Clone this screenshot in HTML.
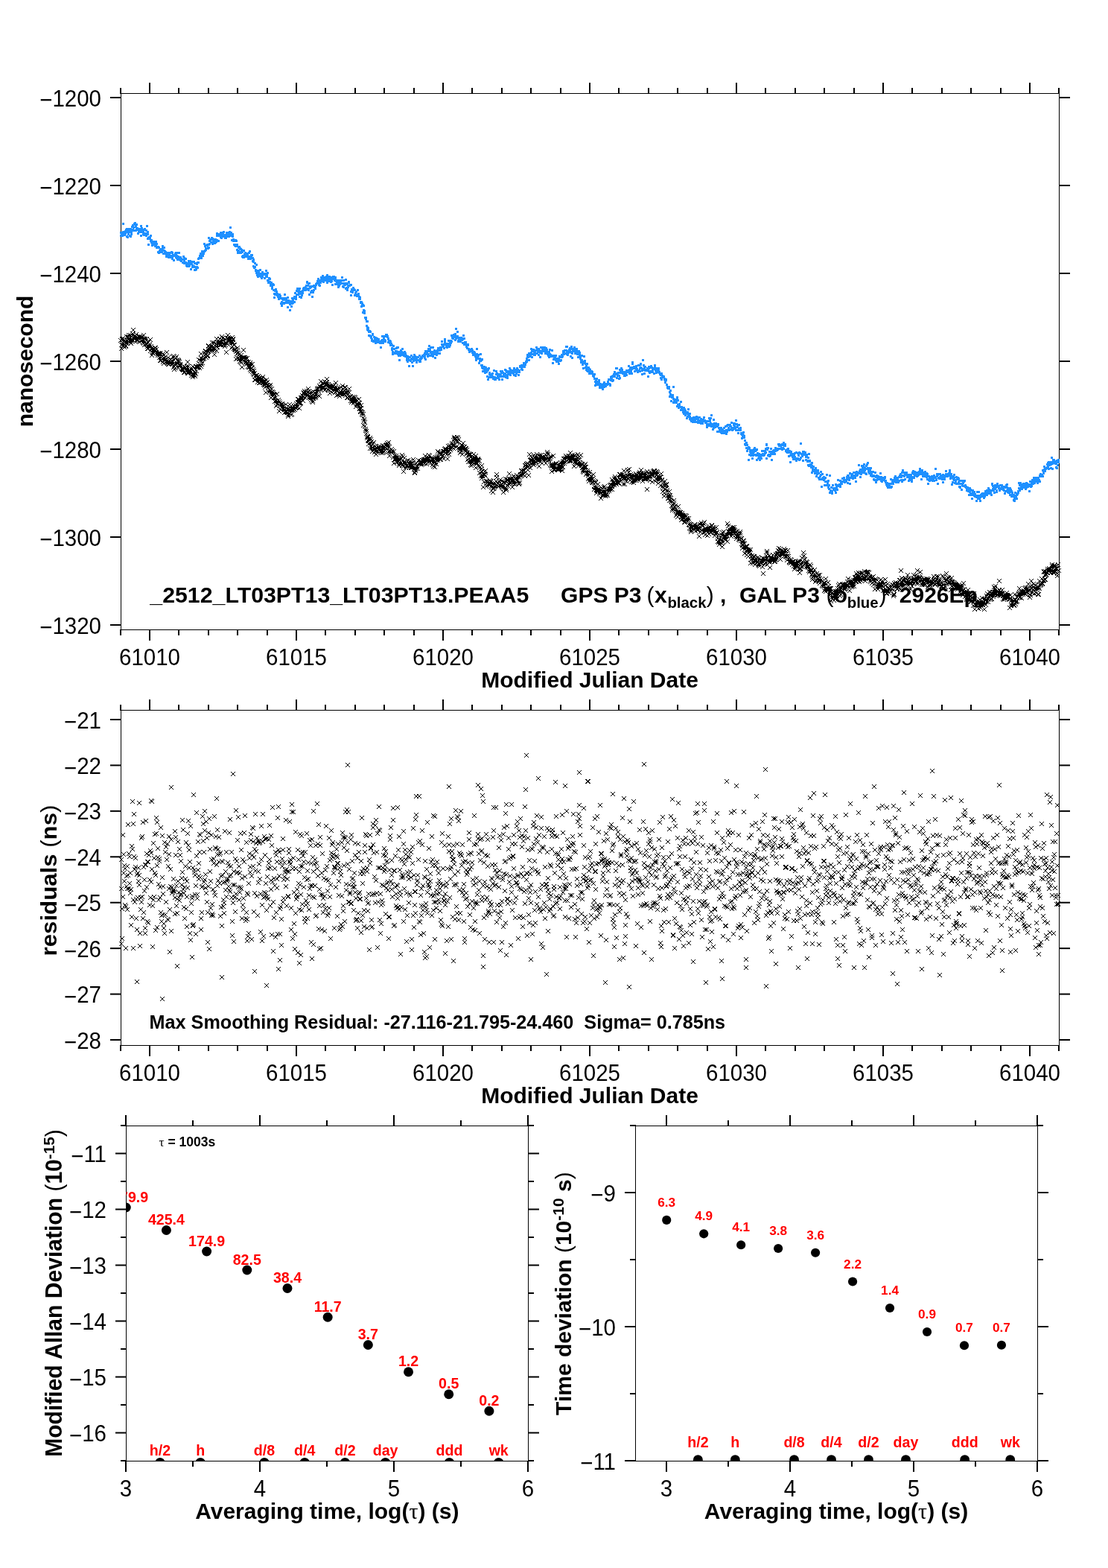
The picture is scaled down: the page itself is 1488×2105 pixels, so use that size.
<!DOCTYPE html>
<html><head><meta charset="utf-8"><title>plot</title>
<style>html,body{margin:0;padding:0;background:#fff;overflow:hidden}svg{display:block}</style>
</head><body>
<svg width="1488" height="2105" viewBox="0 0 1488 2105" font-family="'Liberation Sans', Arial, Helvetica, sans-serif" xml:space="preserve" style="white-space:pre">
<rect width="1488" height="2105" fill="#fff"/>
<rect x="162" y="125" width="1261" height="1" fill="#000"/>
<rect x="162" y="845" width="1261" height="1" fill="#000"/>
<rect x="162" y="125" width="1" height="721" fill="#000"/>
<rect x="1422" y="125" width="1" height="721" fill="#000"/>
<rect x="161" y="118" width="2" height="8" fill="#000"/>
<rect x="161" y="845" width="2" height="8" fill="#000"/>
<rect x="200" y="111" width="2" height="15" fill="#000"/>
<rect x="200" y="845" width="2" height="15" fill="#000"/>
<rect x="239" y="118" width="2" height="8" fill="#000"/>
<rect x="239" y="845" width="2" height="8" fill="#000"/>
<rect x="279" y="118" width="2" height="8" fill="#000"/>
<rect x="279" y="845" width="2" height="8" fill="#000"/>
<rect x="318" y="118" width="2" height="8" fill="#000"/>
<rect x="318" y="845" width="2" height="8" fill="#000"/>
<rect x="358" y="118" width="2" height="8" fill="#000"/>
<rect x="358" y="845" width="2" height="8" fill="#000"/>
<rect x="397" y="111" width="2" height="15" fill="#000"/>
<rect x="397" y="845" width="2" height="15" fill="#000"/>
<rect x="436" y="118" width="2" height="8" fill="#000"/>
<rect x="436" y="845" width="2" height="8" fill="#000"/>
<rect x="476" y="118" width="2" height="8" fill="#000"/>
<rect x="476" y="845" width="2" height="8" fill="#000"/>
<rect x="515" y="118" width="2" height="8" fill="#000"/>
<rect x="515" y="845" width="2" height="8" fill="#000"/>
<rect x="555" y="118" width="2" height="8" fill="#000"/>
<rect x="555" y="845" width="2" height="8" fill="#000"/>
<rect x="594" y="111" width="2" height="15" fill="#000"/>
<rect x="594" y="845" width="2" height="15" fill="#000"/>
<rect x="633" y="118" width="2" height="8" fill="#000"/>
<rect x="633" y="845" width="2" height="8" fill="#000"/>
<rect x="673" y="118" width="2" height="8" fill="#000"/>
<rect x="673" y="845" width="2" height="8" fill="#000"/>
<rect x="712" y="118" width="2" height="8" fill="#000"/>
<rect x="712" y="845" width="2" height="8" fill="#000"/>
<rect x="752" y="118" width="2" height="8" fill="#000"/>
<rect x="752" y="845" width="2" height="8" fill="#000"/>
<rect x="791" y="111" width="2" height="15" fill="#000"/>
<rect x="791" y="845" width="2" height="15" fill="#000"/>
<rect x="830" y="118" width="2" height="8" fill="#000"/>
<rect x="830" y="845" width="2" height="8" fill="#000"/>
<rect x="870" y="118" width="2" height="8" fill="#000"/>
<rect x="870" y="845" width="2" height="8" fill="#000"/>
<rect x="909" y="118" width="2" height="8" fill="#000"/>
<rect x="909" y="845" width="2" height="8" fill="#000"/>
<rect x="949" y="118" width="2" height="8" fill="#000"/>
<rect x="949" y="845" width="2" height="8" fill="#000"/>
<rect x="988" y="111" width="2" height="15" fill="#000"/>
<rect x="988" y="845" width="2" height="15" fill="#000"/>
<rect x="1027" y="118" width="2" height="8" fill="#000"/>
<rect x="1027" y="845" width="2" height="8" fill="#000"/>
<rect x="1067" y="118" width="2" height="8" fill="#000"/>
<rect x="1067" y="845" width="2" height="8" fill="#000"/>
<rect x="1106" y="118" width="2" height="8" fill="#000"/>
<rect x="1106" y="845" width="2" height="8" fill="#000"/>
<rect x="1146" y="118" width="2" height="8" fill="#000"/>
<rect x="1146" y="845" width="2" height="8" fill="#000"/>
<rect x="1185" y="111" width="2" height="15" fill="#000"/>
<rect x="1185" y="845" width="2" height="15" fill="#000"/>
<rect x="1224" y="118" width="2" height="8" fill="#000"/>
<rect x="1224" y="845" width="2" height="8" fill="#000"/>
<rect x="1264" y="118" width="2" height="8" fill="#000"/>
<rect x="1264" y="845" width="2" height="8" fill="#000"/>
<rect x="1303" y="118" width="2" height="8" fill="#000"/>
<rect x="1303" y="845" width="2" height="8" fill="#000"/>
<rect x="1343" y="118" width="2" height="8" fill="#000"/>
<rect x="1343" y="845" width="2" height="8" fill="#000"/>
<rect x="1382" y="111" width="2" height="15" fill="#000"/>
<rect x="1382" y="845" width="2" height="15" fill="#000"/>
<rect x="1421" y="118" width="2" height="8" fill="#000"/>
<rect x="1421" y="845" width="2" height="8" fill="#000"/>
<rect x="162" y="953" width="1261" height="1" fill="#000"/>
<rect x="162" y="1403" width="1261" height="1" fill="#000"/>
<rect x="162" y="953" width="1" height="451" fill="#000"/>
<rect x="1422" y="953" width="1" height="451" fill="#000"/>
<rect x="161" y="946" width="2" height="8" fill="#000"/>
<rect x="161" y="1403" width="2" height="8" fill="#000"/>
<rect x="200" y="939" width="2" height="15" fill="#000"/>
<rect x="200" y="1403" width="2" height="15" fill="#000"/>
<rect x="239" y="946" width="2" height="8" fill="#000"/>
<rect x="239" y="1403" width="2" height="8" fill="#000"/>
<rect x="279" y="946" width="2" height="8" fill="#000"/>
<rect x="279" y="1403" width="2" height="8" fill="#000"/>
<rect x="318" y="946" width="2" height="8" fill="#000"/>
<rect x="318" y="1403" width="2" height="8" fill="#000"/>
<rect x="358" y="946" width="2" height="8" fill="#000"/>
<rect x="358" y="1403" width="2" height="8" fill="#000"/>
<rect x="397" y="939" width="2" height="15" fill="#000"/>
<rect x="397" y="1403" width="2" height="15" fill="#000"/>
<rect x="436" y="946" width="2" height="8" fill="#000"/>
<rect x="436" y="1403" width="2" height="8" fill="#000"/>
<rect x="476" y="946" width="2" height="8" fill="#000"/>
<rect x="476" y="1403" width="2" height="8" fill="#000"/>
<rect x="515" y="946" width="2" height="8" fill="#000"/>
<rect x="515" y="1403" width="2" height="8" fill="#000"/>
<rect x="555" y="946" width="2" height="8" fill="#000"/>
<rect x="555" y="1403" width="2" height="8" fill="#000"/>
<rect x="594" y="939" width="2" height="15" fill="#000"/>
<rect x="594" y="1403" width="2" height="15" fill="#000"/>
<rect x="633" y="946" width="2" height="8" fill="#000"/>
<rect x="633" y="1403" width="2" height="8" fill="#000"/>
<rect x="673" y="946" width="2" height="8" fill="#000"/>
<rect x="673" y="1403" width="2" height="8" fill="#000"/>
<rect x="712" y="946" width="2" height="8" fill="#000"/>
<rect x="712" y="1403" width="2" height="8" fill="#000"/>
<rect x="752" y="946" width="2" height="8" fill="#000"/>
<rect x="752" y="1403" width="2" height="8" fill="#000"/>
<rect x="791" y="939" width="2" height="15" fill="#000"/>
<rect x="791" y="1403" width="2" height="15" fill="#000"/>
<rect x="830" y="946" width="2" height="8" fill="#000"/>
<rect x="830" y="1403" width="2" height="8" fill="#000"/>
<rect x="870" y="946" width="2" height="8" fill="#000"/>
<rect x="870" y="1403" width="2" height="8" fill="#000"/>
<rect x="909" y="946" width="2" height="8" fill="#000"/>
<rect x="909" y="1403" width="2" height="8" fill="#000"/>
<rect x="949" y="946" width="2" height="8" fill="#000"/>
<rect x="949" y="1403" width="2" height="8" fill="#000"/>
<rect x="988" y="939" width="2" height="15" fill="#000"/>
<rect x="988" y="1403" width="2" height="15" fill="#000"/>
<rect x="1027" y="946" width="2" height="8" fill="#000"/>
<rect x="1027" y="1403" width="2" height="8" fill="#000"/>
<rect x="1067" y="946" width="2" height="8" fill="#000"/>
<rect x="1067" y="1403" width="2" height="8" fill="#000"/>
<rect x="1106" y="946" width="2" height="8" fill="#000"/>
<rect x="1106" y="1403" width="2" height="8" fill="#000"/>
<rect x="1146" y="946" width="2" height="8" fill="#000"/>
<rect x="1146" y="1403" width="2" height="8" fill="#000"/>
<rect x="1185" y="939" width="2" height="15" fill="#000"/>
<rect x="1185" y="1403" width="2" height="15" fill="#000"/>
<rect x="1224" y="946" width="2" height="8" fill="#000"/>
<rect x="1224" y="1403" width="2" height="8" fill="#000"/>
<rect x="1264" y="946" width="2" height="8" fill="#000"/>
<rect x="1264" y="1403" width="2" height="8" fill="#000"/>
<rect x="1303" y="946" width="2" height="8" fill="#000"/>
<rect x="1303" y="1403" width="2" height="8" fill="#000"/>
<rect x="1343" y="946" width="2" height="8" fill="#000"/>
<rect x="1343" y="1403" width="2" height="8" fill="#000"/>
<rect x="1382" y="939" width="2" height="15" fill="#000"/>
<rect x="1382" y="1403" width="2" height="15" fill="#000"/>
<rect x="1421" y="946" width="2" height="8" fill="#000"/>
<rect x="1421" y="1403" width="2" height="8" fill="#000"/>
<rect x="148" y="130" width="15" height="2" fill="#000"/>
<rect x="1422" y="130" width="15" height="2" fill="#000"/>
<rect x="148" y="248" width="15" height="2" fill="#000"/>
<rect x="1422" y="248" width="15" height="2" fill="#000"/>
<rect x="148" y="366" width="15" height="2" fill="#000"/>
<rect x="1422" y="366" width="15" height="2" fill="#000"/>
<rect x="148" y="484" width="15" height="2" fill="#000"/>
<rect x="1422" y="484" width="15" height="2" fill="#000"/>
<rect x="148" y="602" width="15" height="2" fill="#000"/>
<rect x="1422" y="602" width="15" height="2" fill="#000"/>
<rect x="148" y="720" width="15" height="2" fill="#000"/>
<rect x="1422" y="720" width="15" height="2" fill="#000"/>
<rect x="148" y="838" width="15" height="2" fill="#000"/>
<rect x="1422" y="838" width="15" height="2" fill="#000"/>
<rect x="148" y="965" width="15" height="2" fill="#000"/>
<rect x="1422" y="965" width="15" height="2" fill="#000"/>
<rect x="148" y="1026.43" width="15" height="2" fill="#000"/>
<rect x="1422" y="1026.43" width="15" height="2" fill="#000"/>
<rect x="148" y="1087.86" width="15" height="2" fill="#000"/>
<rect x="1422" y="1087.86" width="15" height="2" fill="#000"/>
<rect x="148" y="1149.29" width="15" height="2" fill="#000"/>
<rect x="1422" y="1149.29" width="15" height="2" fill="#000"/>
<rect x="148" y="1210.72" width="15" height="2" fill="#000"/>
<rect x="1422" y="1210.72" width="15" height="2" fill="#000"/>
<rect x="148" y="1272.15" width="15" height="2" fill="#000"/>
<rect x="1422" y="1272.15" width="15" height="2" fill="#000"/>
<rect x="148" y="1333.58" width="15" height="2" fill="#000"/>
<rect x="1422" y="1333.58" width="15" height="2" fill="#000"/>
<rect x="148" y="1395.01" width="15" height="2" fill="#000"/>
<rect x="1422" y="1395.01" width="15" height="2" fill="#000"/>
<rect x="169" y="1511" width="541" height="1" fill="#000"/>
<rect x="169" y="1961" width="541" height="1" fill="#000"/>
<rect x="169" y="1511" width="1" height="451" fill="#000"/>
<rect x="709" y="1511" width="1" height="451" fill="#000"/>
<rect x="168" y="1497" width="2" height="15" fill="#000"/>
<rect x="168" y="1961" width="2" height="15" fill="#000"/>
<rect x="258" y="1504" width="2" height="8" fill="#000"/>
<rect x="258" y="1961" width="2" height="8" fill="#000"/>
<rect x="348" y="1497" width="2" height="15" fill="#000"/>
<rect x="348" y="1961" width="2" height="15" fill="#000"/>
<rect x="438" y="1504" width="2" height="8" fill="#000"/>
<rect x="438" y="1961" width="2" height="8" fill="#000"/>
<rect x="528" y="1497" width="2" height="15" fill="#000"/>
<rect x="528" y="1961" width="2" height="15" fill="#000"/>
<rect x="618" y="1504" width="2" height="8" fill="#000"/>
<rect x="618" y="1961" width="2" height="8" fill="#000"/>
<rect x="708" y="1497" width="2" height="15" fill="#000"/>
<rect x="708" y="1961" width="2" height="15" fill="#000"/>
<rect x="162" y="1510" width="8" height="2" fill="#000"/>
<rect x="709" y="1510" width="8" height="2" fill="#000"/>
<rect x="155" y="1547.5" width="15" height="2" fill="#000"/>
<rect x="709" y="1547.5" width="15" height="2" fill="#000"/>
<rect x="162" y="1585" width="8" height="2" fill="#000"/>
<rect x="709" y="1585" width="8" height="2" fill="#000"/>
<rect x="155" y="1622.5" width="15" height="2" fill="#000"/>
<rect x="709" y="1622.5" width="15" height="2" fill="#000"/>
<rect x="162" y="1660" width="8" height="2" fill="#000"/>
<rect x="709" y="1660" width="8" height="2" fill="#000"/>
<rect x="155" y="1697.5" width="15" height="2" fill="#000"/>
<rect x="709" y="1697.5" width="15" height="2" fill="#000"/>
<rect x="162" y="1735" width="8" height="2" fill="#000"/>
<rect x="709" y="1735" width="8" height="2" fill="#000"/>
<rect x="155" y="1772.5" width="15" height="2" fill="#000"/>
<rect x="709" y="1772.5" width="15" height="2" fill="#000"/>
<rect x="162" y="1810" width="8" height="2" fill="#000"/>
<rect x="709" y="1810" width="8" height="2" fill="#000"/>
<rect x="155" y="1847.5" width="15" height="2" fill="#000"/>
<rect x="709" y="1847.5" width="15" height="2" fill="#000"/>
<rect x="162" y="1885" width="8" height="2" fill="#000"/>
<rect x="709" y="1885" width="8" height="2" fill="#000"/>
<rect x="155" y="1922.5" width="15" height="2" fill="#000"/>
<rect x="709" y="1922.5" width="15" height="2" fill="#000"/>
<rect x="162" y="1960" width="8" height="2" fill="#000"/>
<rect x="709" y="1960" width="8" height="2" fill="#000"/>
<rect x="853" y="1511" width="541" height="1" fill="#000"/>
<rect x="853" y="1961" width="541" height="1" fill="#000"/>
<rect x="853" y="1511" width="1" height="451" fill="#000"/>
<rect x="1393" y="1511" width="1" height="451" fill="#000"/>
<rect x="894" y="1497" width="2" height="15" fill="#000"/>
<rect x="894" y="1961" width="2" height="15" fill="#000"/>
<rect x="977" y="1504" width="2" height="8" fill="#000"/>
<rect x="977" y="1961" width="2" height="8" fill="#000"/>
<rect x="1060" y="1497" width="2" height="15" fill="#000"/>
<rect x="1060" y="1961" width="2" height="15" fill="#000"/>
<rect x="1143" y="1504" width="2" height="8" fill="#000"/>
<rect x="1143" y="1961" width="2" height="8" fill="#000"/>
<rect x="1226" y="1497" width="2" height="15" fill="#000"/>
<rect x="1226" y="1961" width="2" height="15" fill="#000"/>
<rect x="1309" y="1504" width="2" height="8" fill="#000"/>
<rect x="1309" y="1961" width="2" height="8" fill="#000"/>
<rect x="1392" y="1497" width="2" height="15" fill="#000"/>
<rect x="1392" y="1961" width="2" height="15" fill="#000"/>
<rect x="846" y="1510" width="8" height="2" fill="#000"/>
<rect x="1393" y="1510" width="8" height="2" fill="#000"/>
<rect x="839" y="1600" width="15" height="2" fill="#000"/>
<rect x="1393" y="1600" width="15" height="2" fill="#000"/>
<rect x="846" y="1690" width="8" height="2" fill="#000"/>
<rect x="1393" y="1690" width="8" height="2" fill="#000"/>
<rect x="839" y="1780" width="15" height="2" fill="#000"/>
<rect x="1393" y="1780" width="15" height="2" fill="#000"/>
<rect x="846" y="1870" width="8" height="2" fill="#000"/>
<rect x="1393" y="1870" width="8" height="2" fill="#000"/>
<rect x="839" y="1960" width="15" height="2" fill="#000"/>
<rect x="1393" y="1960" width="15" height="2" fill="#000"/>
<text transform="translate(136 142.6) scale(1 1.08)" font-size="29.5" text-anchor="end"><tspan dy="2.6">−</tspan><tspan dy="-2.6">1200</tspan></text>
<text transform="translate(136 260.6) scale(1 1.08)" font-size="29.5" text-anchor="end"><tspan dy="2.6">−</tspan><tspan dy="-2.6">1220</tspan></text>
<text transform="translate(136 378.6) scale(1 1.08)" font-size="29.5" text-anchor="end"><tspan dy="2.6">−</tspan><tspan dy="-2.6">1240</tspan></text>
<text transform="translate(136 496.6) scale(1 1.08)" font-size="29.5" text-anchor="end"><tspan dy="2.6">−</tspan><tspan dy="-2.6">1260</tspan></text>
<text transform="translate(136 614.6) scale(1 1.08)" font-size="29.5" text-anchor="end"><tspan dy="2.6">−</tspan><tspan dy="-2.6">1280</tspan></text>
<text transform="translate(136 732.6) scale(1 1.08)" font-size="29.5" text-anchor="end"><tspan dy="2.6">−</tspan><tspan dy="-2.6">1300</tspan></text>
<text transform="translate(136 850.6) scale(1 1.08)" font-size="29.5" text-anchor="end"><tspan dy="2.6">−</tspan><tspan dy="-2.6">1320</tspan></text>
<text transform="translate(136 977.6) scale(1 1.08)" font-size="29.5" text-anchor="end"><tspan dy="2.6">−</tspan><tspan dy="-2.6">21</tspan></text>
<text transform="translate(136 1039.03) scale(1 1.08)" font-size="29.5" text-anchor="end"><tspan dy="2.6">−</tspan><tspan dy="-2.6">22</tspan></text>
<text transform="translate(136 1100.46) scale(1 1.08)" font-size="29.5" text-anchor="end"><tspan dy="2.6">−</tspan><tspan dy="-2.6">23</tspan></text>
<text transform="translate(136 1161.89) scale(1 1.08)" font-size="29.5" text-anchor="end"><tspan dy="2.6">−</tspan><tspan dy="-2.6">24</tspan></text>
<text transform="translate(136 1223.32) scale(1 1.08)" font-size="29.5" text-anchor="end"><tspan dy="2.6">−</tspan><tspan dy="-2.6">25</tspan></text>
<text transform="translate(136 1284.75) scale(1 1.08)" font-size="29.5" text-anchor="end"><tspan dy="2.6">−</tspan><tspan dy="-2.6">26</tspan></text>
<text transform="translate(136 1346.18) scale(1 1.08)" font-size="29.5" text-anchor="end"><tspan dy="2.6">−</tspan><tspan dy="-2.6">27</tspan></text>
<text transform="translate(136 1407.61) scale(1 1.08)" font-size="29.5" text-anchor="end"><tspan dy="2.6">−</tspan><tspan dy="-2.6">28</tspan></text>
<text transform="translate(201 892.75) scale(1 1.07)" font-size="29.5" font-weight="normal" text-anchor="middle" fill="#000">61010</text>
<text transform="translate(201 1450.5) scale(1 1.07)" font-size="29.5" font-weight="normal" text-anchor="middle" fill="#000">61010</text>
<text transform="translate(398 892.75) scale(1 1.07)" font-size="29.5" font-weight="normal" text-anchor="middle" fill="#000">61015</text>
<text transform="translate(398 1450.5) scale(1 1.07)" font-size="29.5" font-weight="normal" text-anchor="middle" fill="#000">61015</text>
<text transform="translate(595 892.75) scale(1 1.07)" font-size="29.5" font-weight="normal" text-anchor="middle" fill="#000">61020</text>
<text transform="translate(595 1450.5) scale(1 1.07)" font-size="29.5" font-weight="normal" text-anchor="middle" fill="#000">61020</text>
<text transform="translate(792 892.75) scale(1 1.07)" font-size="29.5" font-weight="normal" text-anchor="middle" fill="#000">61025</text>
<text transform="translate(792 1450.5) scale(1 1.07)" font-size="29.5" font-weight="normal" text-anchor="middle" fill="#000">61025</text>
<text transform="translate(989 892.75) scale(1 1.07)" font-size="29.5" font-weight="normal" text-anchor="middle" fill="#000">61030</text>
<text transform="translate(989 1450.5) scale(1 1.07)" font-size="29.5" font-weight="normal" text-anchor="middle" fill="#000">61030</text>
<text transform="translate(1186 892.75) scale(1 1.07)" font-size="29.5" font-weight="normal" text-anchor="middle" fill="#000">61035</text>
<text transform="translate(1186 1450.5) scale(1 1.07)" font-size="29.5" font-weight="normal" text-anchor="middle" fill="#000">61035</text>
<text transform="translate(1383 892.75) scale(1 1.07)" font-size="29.5" font-weight="normal" text-anchor="middle" fill="#000">61040</text>
<text transform="translate(1383 1450.5) scale(1 1.07)" font-size="29.5" font-weight="normal" text-anchor="middle" fill="#000">61040</text>
<text transform="translate(143 1560.1) scale(1 1.08)" font-size="29.5" text-anchor="end"><tspan dy="2.6">−</tspan><tspan dy="-2.6">11</tspan></text>
<text transform="translate(143 1635.1) scale(1 1.08)" font-size="29.5" text-anchor="end"><tspan dy="2.6">−</tspan><tspan dy="-2.6">12</tspan></text>
<text transform="translate(143 1710.1) scale(1 1.08)" font-size="29.5" text-anchor="end"><tspan dy="2.6">−</tspan><tspan dy="-2.6">13</tspan></text>
<text transform="translate(143 1785.1) scale(1 1.08)" font-size="29.5" text-anchor="end"><tspan dy="2.6">−</tspan><tspan dy="-2.6">14</tspan></text>
<text transform="translate(143 1860.1) scale(1 1.08)" font-size="29.5" text-anchor="end"><tspan dy="2.6">−</tspan><tspan dy="-2.6">15</tspan></text>
<text transform="translate(143 1935.1) scale(1 1.08)" font-size="29.5" text-anchor="end"><tspan dy="2.6">−</tspan><tspan dy="-2.6">16</tspan></text>
<text transform="translate(169 2008.75) scale(1 1.07)" font-size="29.5" font-weight="normal" text-anchor="middle" fill="#000">3</text>
<text transform="translate(895 2008.75) scale(1 1.07)" font-size="29.5" font-weight="normal" text-anchor="middle" fill="#000">3</text>
<text transform="translate(349 2008.75) scale(1 1.07)" font-size="29.5" font-weight="normal" text-anchor="middle" fill="#000">4</text>
<text transform="translate(1061 2008.75) scale(1 1.07)" font-size="29.5" font-weight="normal" text-anchor="middle" fill="#000">4</text>
<text transform="translate(529 2008.75) scale(1 1.07)" font-size="29.5" font-weight="normal" text-anchor="middle" fill="#000">5</text>
<text transform="translate(1227 2008.75) scale(1 1.07)" font-size="29.5" font-weight="normal" text-anchor="middle" fill="#000">5</text>
<text transform="translate(709 2008.75) scale(1 1.07)" font-size="29.5" font-weight="normal" text-anchor="middle" fill="#000">6</text>
<text transform="translate(1393 2008.75) scale(1 1.07)" font-size="29.5" font-weight="normal" text-anchor="middle" fill="#000">6</text>
<text transform="translate(827 1612.6) scale(1 1.08)" font-size="29.5" text-anchor="end"><tspan dy="2.6">−</tspan><tspan dy="-2.6">9</tspan></text>
<text transform="translate(827 1792.6) scale(1 1.08)" font-size="29.5" text-anchor="end"><tspan dy="2.6">−</tspan><tspan dy="-2.6">10</tspan></text>
<text transform="translate(827 1972.6) scale(1 1.08)" font-size="29.5" text-anchor="end"><tspan dy="2.6">−</tspan><tspan dy="-2.6">11</tspan></text>
<text transform="translate(792 923.3)" font-size="30" font-weight="bold" text-anchor="middle" fill="#000">Modified Julian Date</text>
<text transform="translate(792 1481)" font-size="30" font-weight="bold" text-anchor="middle" fill="#000">Modified Julian Date</text>
<text transform="translate(43.5 485) rotate(-90)" font-size="30" font-weight="bold" text-anchor="middle" fill="#000">nanosecond</text>
<text transform="translate(76 1182) rotate(-90) scale(1.04 1)" font-size="30" font-weight="bold" text-anchor="middle">residuals <tspan font-weight="normal">(</tspan>ns<tspan font-weight="normal">)</tspan></text>
<text transform="translate(439.3 2038.7)" font-size="30" font-weight="bold" text-anchor="middle">Averaging time, log(<tspan font-family="'Liberation Serif', serif" font-weight="normal">τ</tspan>) (s)</text>
<text transform="translate(1123 2038.7)" font-size="30" font-weight="bold" text-anchor="middle">Averaging time, log(<tspan font-family="'Liberation Serif', serif" font-weight="normal">τ</tspan>) (s)</text>
<text transform="translate(83 1736) rotate(-90) scale(0.986 1)" font-size="30.5" font-weight="bold" text-anchor="middle">Modified Allan Deviation <tspan font-weight="normal">(</tspan>10<tspan font-size="21" dy="-10">-15</tspan><tspan dy="10" font-weight="normal">)</tspan></text>
<text transform="translate(767 1736.6) rotate(-90)" font-size="30" font-weight="bold" text-anchor="middle">Time deviation <tspan font-weight="normal">(</tspan>10<tspan font-size="21" dy="-10">-10</tspan><tspan dy="10"> s</tspan><tspan font-weight="normal">)</tspan></text>
<text transform="translate(201.31 808.8) scale(1.01 1)" font-size="30" font-weight="bold" fill="#000">_2512_LT03PT13_LT03PT13.PEAA5</text>
<text transform="translate(753.1 808.8)" font-size="30" font-weight="bold" fill="#000">GPS P3</text>
<text transform="translate(868.4 808.8)" font-size="30" font-weight="normal" fill="#000">(</text>
<text transform="translate(878.9 808.8)" font-size="30" font-weight="bold" fill="#000">x</text>
<text transform="translate(896.4 815.8)" font-size="20.4" font-weight="bold" fill="#000">black</text>
<text transform="translate(948.8 808.8)" font-size="30" font-weight="normal" fill="#000">)</text>
<text transform="translate(967 808.8)" font-size="30" font-weight="bold" fill="#000">,</text>
<text transform="translate(993 808.8)" font-size="30" font-weight="bold" fill="#000">GAL P3</text>
<text transform="translate(1109.5 808.8)" font-size="30" font-weight="normal" fill="#000">(</text>
<text transform="translate(1119.8 808.8)" font-size="30" font-weight="bold" fill="#000">o</text>
<text transform="translate(1137.7 815.8)" font-size="20.4" font-weight="bold" fill="#000">blue</text>
<text transform="translate(1180.4 808.8)" font-size="30" font-weight="normal" fill="#000">)</text>
<text transform="translate(1207.8 808.8)" font-size="30" font-weight="bold" fill="#000">2926Ep</text>
<text transform="translate(200.6 1381.25)" font-size="25.2" font-weight="bold" text-anchor="start" fill="#000">Max Smoothing Residual: -27.116-21.795-24.460  Sigma= 0.785ns</text>
<text transform="translate(213.5 1538.9)" font-size="17.5" font-weight="bold"><tspan font-family="'Liberation Serif', serif" font-weight="normal">τ</tspan> = 1003s</text>
<path fill="#1e90ff" d="M161 311h3v3h-3zM161 315h3v3h-3zM162 314h3v3h-3zM162 314h3v3h-3zM163 314h3v3h-3zM163 315h3v3h-3zM164 311h3v3h-3zM164 310h3v3h-3zM164 299h3v3h-3zM165 314h3v3h-3zM165 314h3v3h-3zM166 314h3v3h-3zM166 311h3v3h-3zM167 309h3v3h-3zM167 312h3v3h-3zM168 310h3v3h-3zM168 307h3v3h-3zM169 316h3v3h-3zM169 306h3v3h-3zM170 310h3v3h-3zM170 317h3v3h-3zM170 309h3v3h-3zM171 312h3v3h-3zM171 313h3v3h-3zM172 310h3v3h-3zM172 306h3v3h-3zM173 315h3v3h-3zM173 309h3v3h-3zM174 306h3v3h-3zM174 316h3v3h-3zM175 308h3v3h-3zM175 313h3v3h-3zM175 310h3v3h-3zM176 308h3v3h-3zM176 303h3v3h-3zM177 301h3v3h-3zM177 307h3v3h-3zM178 304h3v3h-3zM178 308h3v3h-3zM179 299h3v3h-3zM179 300h3v3h-3zM180 308h3v3h-3zM180 298h3v3h-3zM180 299h3v3h-3zM181 303h3v3h-3zM181 308h3v3h-3zM182 300h3v3h-3zM182 305h3v3h-3zM183 305h3v3h-3zM183 305h3v3h-3zM184 307h3v3h-3zM184 312h3v3h-3zM185 310h3v3h-3zM185 306h3v3h-3zM186 309h3v3h-3zM186 310h3v3h-3zM186 306h3v3h-3zM187 307h3v3h-3zM187 308h3v3h-3zM188 302h3v3h-3zM188 315h3v3h-3zM189 305h3v3h-3zM189 310h3v3h-3zM190 309h3v3h-3zM190 307h3v3h-3zM191 313h3v3h-3zM191 310h3v3h-3zM191 307h3v3h-3zM192 314h3v3h-3zM192 312h3v3h-3zM193 307h3v3h-3zM193 306h3v3h-3zM194 314h3v3h-3zM194 312h3v3h-3zM195 308h3v3h-3zM195 315h3v3h-3zM196 302h3v3h-3zM196 313h3v3h-3zM197 313h3v3h-3zM197 310h3v3h-3zM197 319h3v3h-3zM198 327h3v3h-3zM198 318h3v3h-3zM199 319h3v3h-3zM199 317h3v3h-3zM200 318h3v3h-3zM200 319h3v3h-3zM201 322h3v3h-3zM201 315h3v3h-3zM202 322h3v3h-3zM202 321h3v3h-3zM202 324h3v3h-3zM203 326h3v3h-3zM203 328h3v3h-3zM204 323h3v3h-3zM204 323h3v3h-3zM205 326h3v3h-3zM205 323h3v3h-3zM206 324h3v3h-3zM206 327h3v3h-3zM207 327h3v3h-3zM207 329h3v3h-3zM208 323h3v3h-3zM208 327h3v3h-3zM208 328h3v3h-3zM209 331h3v3h-3zM209 326h3v3h-3zM210 331h3v3h-3zM210 330h3v3h-3zM211 337h3v3h-3zM211 330h3v3h-3zM212 338h3v3h-3zM212 331h3v3h-3zM213 337h3v3h-3zM213 335h3v3h-3zM213 337h3v3h-3zM214 334h3v3h-3zM214 336h3v3h-3zM215 335h3v3h-3zM215 333h3v3h-3zM216 337h3v3h-3zM216 333h3v3h-3zM217 329h3v3h-3zM217 332h3v3h-3zM218 335h3v3h-3zM218 339h3v3h-3zM219 335h3v3h-3zM219 331h3v3h-3zM219 339h3v3h-3zM220 338h3v3h-3zM220 336h3v3h-3zM221 337h3v3h-3zM221 338h3v3h-3zM222 341h3v3h-3zM222 343h3v3h-3zM223 340h3v3h-3zM223 340h3v3h-3zM224 338h3v3h-3zM224 341h3v3h-3zM224 340h3v3h-3zM225 344h3v3h-3zM225 339h3v3h-3zM226 338h3v3h-3zM226 341h3v3h-3zM227 343h3v3h-3zM227 343h3v3h-3zM228 342h3v3h-3zM228 344h3v3h-3zM229 338h3v3h-3zM229 337h3v3h-3zM230 338h3v3h-3zM230 344h3v3h-3zM230 346h3v3h-3zM231 341h3v3h-3zM231 341h3v3h-3zM232 342h3v3h-3zM232 348h3v3h-3zM233 342h3v3h-3zM233 342h3v3h-3zM234 339h3v3h-3zM234 342h3v3h-3zM235 344h3v3h-3zM235 341h3v3h-3zM235 338h3v3h-3zM236 345h3v3h-3zM236 342h3v3h-3zM237 347h3v3h-3zM237 338h3v3h-3zM238 343h3v3h-3zM238 344h3v3h-3zM239 338h3v3h-3zM239 345h3v3h-3zM240 347h3v3h-3zM240 346h3v3h-3zM241 348h3v3h-3zM241 347h3v3h-3zM241 344h3v3h-3zM242 349h3v3h-3zM242 346h3v3h-3zM243 347h3v3h-3zM243 347h3v3h-3zM244 351h3v3h-3zM244 351h3v3h-3zM245 347h3v3h-3zM245 343h3v3h-3zM246 349h3v3h-3zM246 352h3v3h-3zM246 345h3v3h-3zM247 352h3v3h-3zM247 351h3v3h-3zM248 346h3v3h-3zM248 351h3v3h-3zM249 355h3v3h-3zM249 352h3v3h-3zM250 353h3v3h-3zM250 356h3v3h-3zM251 353h3v3h-3zM251 356h3v3h-3zM252 349h3v3h-3zM252 350h3v3h-3zM252 356h3v3h-3zM253 355h3v3h-3zM253 355h3v3h-3zM254 349h3v3h-3zM254 353h3v3h-3zM255 351h3v3h-3zM255 360h3v3h-3zM256 350h3v3h-3zM256 352h3v3h-3zM257 355h3v3h-3zM257 357h3v3h-3zM257 356h3v3h-3zM258 356h3v3h-3zM258 357h3v3h-3zM259 356h3v3h-3zM259 350h3v3h-3zM260 352h3v3h-3zM260 361h3v3h-3zM261 357h3v3h-3zM261 361h3v3h-3zM262 360h3v3h-3zM262 357h3v3h-3zM263 352h3v3h-3zM263 357h3v3h-3zM263 353h3v3h-3zM264 358h3v3h-3zM264 351h3v3h-3zM265 351h3v3h-3zM265 346h3v3h-3zM266 345h3v3h-3zM266 345h3v3h-3zM267 342h3v3h-3zM267 342h3v3h-3zM268 339h3v3h-3zM268 343h3v3h-3zM268 345h3v3h-3zM269 345h3v3h-3zM269 340h3v3h-3zM270 336h3v3h-3zM270 339h3v3h-3zM271 342h3v3h-3zM271 337h3v3h-3zM272 339h3v3h-3zM272 338h3v3h-3zM273 336h3v3h-3zM273 326h3v3h-3zM274 335h3v3h-3zM274 329h3v3h-3zM274 328h3v3h-3zM275 332h3v3h-3zM275 334h3v3h-3zM276 332h3v3h-3zM276 332h3v3h-3zM277 328h3v3h-3zM277 327h3v3h-3zM278 331h3v3h-3zM278 332h3v3h-3zM279 318h3v3h-3zM279 331h3v3h-3zM279 327h3v3h-3zM280 326h3v3h-3zM280 322h3v3h-3zM281 322h3v3h-3zM281 321h3v3h-3zM282 324h3v3h-3zM282 320h3v3h-3zM283 320h3v3h-3zM283 318h3v3h-3zM284 326h3v3h-3zM284 324h3v3h-3zM284 319h3v3h-3zM285 324h3v3h-3zM285 321h3v3h-3zM286 320h3v3h-3zM286 323h3v3h-3zM287 323h3v3h-3zM287 325h3v3h-3zM288 320h3v3h-3zM288 324h3v3h-3zM289 323h3v3h-3zM289 321h3v3h-3zM290 321h3v3h-3zM290 312h3v3h-3zM290 315h3v3h-3zM291 322h3v3h-3zM291 313h3v3h-3zM292 315h3v3h-3zM292 322h3v3h-3zM293 313h3v3h-3zM293 315h3v3h-3zM294 315h3v3h-3zM294 313h3v3h-3zM295 316h3v3h-3zM295 317h3v3h-3zM295 311h3v3h-3zM296 318h3v3h-3zM296 311h3v3h-3zM297 313h3v3h-3zM297 314h3v3h-3zM298 315h3v3h-3zM298 312h3v3h-3zM299 316h3v3h-3zM299 310h3v3h-3zM300 314h3v3h-3zM300 314h3v3h-3zM301 315h3v3h-3zM301 316h3v3h-3zM301 318h3v3h-3zM302 315h3v3h-3zM302 318h3v3h-3zM303 311h3v3h-3zM303 313h3v3h-3zM304 316h3v3h-3zM304 311h3v3h-3zM305 312h3v3h-3zM305 313h3v3h-3zM306 316h3v3h-3zM306 314h3v3h-3zM306 312h3v3h-3zM307 310h3v3h-3zM307 313h3v3h-3zM308 304h3v3h-3zM308 314h3v3h-3zM309 311h3v3h-3zM309 315h3v3h-3zM310 315h3v3h-3zM310 321h3v3h-3zM311 316h3v3h-3zM311 313h3v3h-3zM312 320h3v3h-3zM312 320h3v3h-3zM312 322h3v3h-3zM313 327h3v3h-3zM313 322h3v3h-3zM314 327h3v3h-3zM314 328h3v3h-3zM315 329h3v3h-3zM315 321h3v3h-3zM316 322h3v3h-3zM316 328h3v3h-3zM317 329h3v3h-3zM317 327h3v3h-3zM317 334h3v3h-3zM318 335h3v3h-3zM318 338h3v3h-3zM319 335h3v3h-3zM319 331h3v3h-3zM320 338h3v3h-3zM320 330h3v3h-3zM321 332h3v3h-3zM321 337h3v3h-3zM322 333h3v3h-3zM322 338h3v3h-3zM323 335h3v3h-3zM323 334h3v3h-3zM323 337h3v3h-3zM324 337h3v3h-3zM324 343h3v3h-3zM325 344h3v3h-3zM325 342h3v3h-3zM326 335h3v3h-3zM326 344h3v3h-3zM327 340h3v3h-3zM327 341h3v3h-3zM328 340h3v3h-3zM328 338h3v3h-3zM328 340h3v3h-3zM329 342h3v3h-3zM329 343h3v3h-3zM330 340h3v3h-3zM330 339h3v3h-3zM331 340h3v3h-3zM331 341h3v3h-3zM332 346h3v3h-3zM332 343h3v3h-3zM333 343h3v3h-3zM333 338h3v3h-3zM334 336h3v3h-3zM334 344h3v3h-3zM334 344h3v3h-3zM335 346h3v3h-3zM335 345h3v3h-3zM336 344h3v3h-3zM336 341h3v3h-3zM337 345h3v3h-3zM337 341h3v3h-3zM338 349h3v3h-3zM338 345h3v3h-3zM339 356h3v3h-3zM339 347h3v3h-3zM339 350h3v3h-3zM340 358h3v3h-3zM340 358h3v3h-3zM341 352h3v3h-3zM341 357h3v3h-3zM342 361h3v3h-3zM342 362h3v3h-3zM343 365h3v3h-3zM343 354h3v3h-3zM344 363h3v3h-3zM344 368h3v3h-3zM345 367h3v3h-3zM345 370h3v3h-3zM345 362h3v3h-3zM346 365h3v3h-3zM346 364h3v3h-3zM347 366h3v3h-3zM347 369h3v3h-3zM348 368h3v3h-3zM348 361h3v3h-3zM349 370h3v3h-3zM349 370h3v3h-3zM350 366h3v3h-3zM350 369h3v3h-3zM350 372h3v3h-3zM351 370h3v3h-3zM351 364h3v3h-3zM352 366h3v3h-3zM352 367h3v3h-3zM353 366h3v3h-3zM353 367h3v3h-3zM354 372h3v3h-3zM354 367h3v3h-3zM355 367h3v3h-3zM355 366h3v3h-3zM356 369h3v3h-3zM356 362h3v3h-3zM356 366h3v3h-3zM357 370h3v3h-3zM357 368h3v3h-3zM358 375h3v3h-3zM358 365h3v3h-3zM359 376h3v3h-3zM359 378h3v3h-3zM360 373h3v3h-3zM360 372h3v3h-3zM361 373h3v3h-3zM361 378h3v3h-3zM361 377h3v3h-3zM362 382h3v3h-3zM362 379h3v3h-3zM363 378h3v3h-3zM363 380h3v3h-3zM364 383h3v3h-3zM364 386h3v3h-3zM365 380h3v3h-3zM365 381h3v3h-3zM366 381h3v3h-3zM366 388h3v3h-3zM367 398h3v3h-3zM367 388h3v3h-3zM367 393h3v3h-3zM368 389h3v3h-3zM368 394h3v3h-3zM369 387h3v3h-3zM369 394h3v3h-3zM370 390h3v3h-3zM370 391h3v3h-3zM371 395h3v3h-3zM371 393h3v3h-3zM372 395h3v3h-3zM372 397h3v3h-3zM372 396h3v3h-3zM373 400h3v3h-3zM373 399h3v3h-3zM374 394h3v3h-3zM374 397h3v3h-3zM375 396h3v3h-3zM375 397h3v3h-3zM376 406h3v3h-3zM376 399h3v3h-3zM377 404h3v3h-3zM377 407h3v3h-3zM377 409h3v3h-3zM378 400h3v3h-3zM378 400h3v3h-3zM379 401h3v3h-3zM379 399h3v3h-3zM380 405h3v3h-3zM380 406h3v3h-3zM381 394h3v3h-3zM381 401h3v3h-3zM382 405h3v3h-3zM382 399h3v3h-3zM383 401h3v3h-3zM383 403h3v3h-3zM383 404h3v3h-3zM384 404h3v3h-3zM384 405h3v3h-3zM385 411h3v3h-3zM385 398h3v3h-3zM386 404h3v3h-3zM386 402h3v3h-3zM387 405h3v3h-3zM387 404h3v3h-3zM388 407h3v3h-3zM388 407h3v3h-3zM388 415h3v3h-3zM389 403h3v3h-3zM389 404h3v3h-3zM390 410h3v3h-3zM390 406h3v3h-3zM391 406h3v3h-3zM391 399h3v3h-3zM392 405h3v3h-3zM392 402h3v3h-3zM393 404h3v3h-3zM393 399h3v3h-3zM394 399h3v3h-3zM394 397h3v3h-3zM394 404h3v3h-3zM395 392h3v3h-3zM395 398h3v3h-3zM396 397h3v3h-3zM396 400h3v3h-3zM397 394h3v3h-3zM397 389h3v3h-3zM398 394h3v3h-3zM398 386h3v3h-3zM399 394h3v3h-3zM399 390h3v3h-3zM399 388h3v3h-3zM400 389h3v3h-3zM400 393h3v3h-3zM401 386h3v3h-3zM401 397h3v3h-3zM402 390h3v3h-3zM402 397h3v3h-3zM403 393h3v3h-3zM403 398h3v3h-3zM404 393h3v3h-3zM404 395h3v3h-3zM405 392h3v3h-3zM405 389h3v3h-3zM405 392h3v3h-3zM406 388h3v3h-3zM406 386h3v3h-3zM407 387h3v3h-3zM407 385h3v3h-3zM408 386h3v3h-3zM408 386h3v3h-3zM409 388h3v3h-3zM409 384h3v3h-3zM410 382h3v3h-3zM410 387h3v3h-3zM410 382h3v3h-3zM411 378h3v3h-3zM411 377h3v3h-3zM412 386h3v3h-3zM412 382h3v3h-3zM413 388h3v3h-3zM413 379h3v3h-3zM414 379h3v3h-3zM414 394h3v3h-3zM415 383h3v3h-3zM415 385h3v3h-3zM416 384h3v3h-3zM416 383h3v3h-3zM416 391h3v3h-3zM417 383h3v3h-3zM417 389h3v3h-3zM418 383h3v3h-3zM418 397h3v3h-3zM419 390h3v3h-3zM419 391h3v3h-3zM420 382h3v3h-3zM420 388h3v3h-3zM421 384h3v3h-3zM421 383h3v3h-3zM421 382h3v3h-3zM422 386h3v3h-3zM422 384h3v3h-3zM423 381h3v3h-3zM423 380h3v3h-3zM424 379h3v3h-3zM424 379h3v3h-3zM425 376h3v3h-3zM425 376h3v3h-3zM426 376h3v3h-3zM426 373h3v3h-3zM427 380h3v3h-3zM427 381h3v3h-3zM427 377h3v3h-3zM428 382h3v3h-3zM428 375h3v3h-3zM429 375h3v3h-3zM429 378h3v3h-3zM430 374h3v3h-3zM430 371h3v3h-3zM431 375h3v3h-3zM431 372h3v3h-3zM432 376h3v3h-3zM432 369h3v3h-3zM432 372h3v3h-3zM433 374h3v3h-3zM433 377h3v3h-3zM434 375h3v3h-3zM434 373h3v3h-3zM435 371h3v3h-3zM435 371h3v3h-3zM436 371h3v3h-3zM436 375h3v3h-3zM437 370h3v3h-3zM437 374h3v3h-3zM438 378h3v3h-3zM438 368h3v3h-3zM438 374h3v3h-3zM439 371h3v3h-3zM439 375h3v3h-3zM440 376h3v3h-3zM440 371h3v3h-3zM441 370h3v3h-3zM441 374h3v3h-3zM442 374h3v3h-3zM442 373h3v3h-3zM443 372h3v3h-3zM443 377h3v3h-3zM443 371h3v3h-3zM444 371h3v3h-3zM444 376h3v3h-3zM445 381h3v3h-3zM445 373h3v3h-3zM446 373h3v3h-3zM446 370h3v3h-3zM447 372h3v3h-3zM447 370h3v3h-3zM448 375h3v3h-3zM448 373h3v3h-3zM449 374h3v3h-3zM449 380h3v3h-3zM449 371h3v3h-3zM450 380h3v3h-3zM450 376h3v3h-3zM451 375h3v3h-3zM451 377h3v3h-3zM452 377h3v3h-3zM452 379h3v3h-3zM453 381h3v3h-3zM453 384h3v3h-3zM454 381h3v3h-3zM454 382h3v3h-3zM454 375h3v3h-3zM455 377h3v3h-3zM455 380h3v3h-3zM456 379h3v3h-3zM456 376h3v3h-3zM457 375h3v3h-3zM457 379h3v3h-3zM458 371h3v3h-3zM458 375h3v3h-3zM459 375h3v3h-3zM459 383h3v3h-3zM460 375h3v3h-3zM460 379h3v3h-3zM460 384h3v3h-3zM461 380h3v3h-3zM461 380h3v3h-3zM462 379h3v3h-3zM462 381h3v3h-3zM463 386h3v3h-3zM463 374h3v3h-3zM464 379h3v3h-3zM464 385h3v3h-3zM465 388h3v3h-3zM465 380h3v3h-3zM465 386h3v3h-3zM466 383h3v3h-3zM466 384h3v3h-3zM467 378h3v3h-3zM467 377h3v3h-3zM468 382h3v3h-3zM468 382h3v3h-3zM469 381h3v3h-3zM469 381h3v3h-3zM470 390h3v3h-3zM470 381h3v3h-3zM470 395h3v3h-3zM471 387h3v3h-3zM471 390h3v3h-3zM472 391h3v3h-3zM472 387h3v3h-3zM473 385h3v3h-3zM473 386h3v3h-3zM474 388h3v3h-3zM474 387h3v3h-3zM475 395h3v3h-3zM475 388h3v3h-3zM476 393h3v3h-3zM476 394h3v3h-3zM476 392h3v3h-3zM477 390h3v3h-3zM477 395h3v3h-3zM478 396h3v3h-3zM478 394h3v3h-3zM479 395h3v3h-3zM479 388h3v3h-3zM480 393h3v3h-3zM480 396h3v3h-3zM481 398h3v3h-3zM481 400h3v3h-3zM481 397h3v3h-3zM482 400h3v3h-3zM482 398h3v3h-3zM483 404h3v3h-3zM483 405h3v3h-3zM484 404h3v3h-3zM484 410h3v3h-3zM485 407h3v3h-3zM485 406h3v3h-3zM486 408h3v3h-3zM486 418h3v3h-3zM487 409h3v3h-3zM487 415h3v3h-3zM487 416h3v3h-3zM488 419h3v3h-3zM488 416h3v3h-3zM489 425h3v3h-3zM489 425h3v3h-3zM490 425h3v3h-3zM490 427h3v3h-3zM491 430h3v3h-3zM491 436h3v3h-3zM492 430h3v3h-3zM492 441h3v3h-3zM492 438h3v3h-3zM493 442h3v3h-3zM493 439h3v3h-3zM494 449h3v3h-3zM494 444h3v3h-3zM495 449h3v3h-3zM495 443h3v3h-3zM496 444h3v3h-3zM496 450h3v3h-3zM497 451h3v3h-3zM497 452h3v3h-3zM498 456h3v3h-3zM498 455h3v3h-3zM498 454h3v3h-3zM499 448h3v3h-3zM499 447h3v3h-3zM500 456h3v3h-3zM500 457h3v3h-3zM501 451h3v3h-3zM501 457h3v3h-3zM502 454h3v3h-3zM502 455h3v3h-3zM503 459h3v3h-3zM503 452h3v3h-3zM503 457h3v3h-3zM504 457h3v3h-3zM504 455h3v3h-3zM505 457h3v3h-3zM505 453h3v3h-3zM506 457h3v3h-3zM506 458h3v3h-3zM507 457h3v3h-3zM507 454h3v3h-3zM508 458h3v3h-3zM508 457h3v3h-3zM509 459h3v3h-3zM509 457h3v3h-3zM509 459h3v3h-3zM510 458h3v3h-3zM510 465h3v3h-3zM511 456h3v3h-3zM511 459h3v3h-3zM512 455h3v3h-3zM512 450h3v3h-3zM513 456h3v3h-3zM513 459h3v3h-3zM514 457h3v3h-3zM514 457h3v3h-3zM514 452h3v3h-3zM515 455h3v3h-3zM515 450h3v3h-3zM516 457h3v3h-3zM516 456h3v3h-3zM517 448h3v3h-3zM517 450h3v3h-3zM518 448h3v3h-3zM518 449h3v3h-3zM519 451h3v3h-3zM519 450h3v3h-3zM520 453h3v3h-3zM520 458h3v3h-3zM520 454h3v3h-3zM521 458h3v3h-3zM521 457h3v3h-3zM522 459h3v3h-3zM522 456h3v3h-3zM523 462h3v3h-3zM523 457h3v3h-3zM524 462h3v3h-3zM524 460h3v3h-3zM525 466h3v3h-3zM525 462h3v3h-3zM525 468h3v3h-3zM526 474h3v3h-3zM526 471h3v3h-3zM527 463h3v3h-3zM527 473h3v3h-3zM528 467h3v3h-3zM528 472h3v3h-3zM529 472h3v3h-3zM529 473h3v3h-3zM530 473h3v3h-3zM530 470h3v3h-3zM531 466h3v3h-3zM531 470h3v3h-3zM531 472h3v3h-3zM532 465h3v3h-3zM532 471h3v3h-3zM533 465h3v3h-3zM533 474h3v3h-3zM534 476h3v3h-3zM534 474h3v3h-3zM535 471h3v3h-3zM535 482h3v3h-3zM536 474h3v3h-3zM536 476h3v3h-3zM536 475h3v3h-3zM537 475h3v3h-3zM537 469h3v3h-3zM538 471h3v3h-3zM538 475h3v3h-3zM539 474h3v3h-3zM539 467h3v3h-3zM540 473h3v3h-3zM540 472h3v3h-3zM541 474h3v3h-3zM541 476h3v3h-3zM542 471h3v3h-3zM542 473h3v3h-3zM542 476h3v3h-3zM543 473h3v3h-3zM543 477h3v3h-3zM544 476h3v3h-3zM544 476h3v3h-3zM545 482h3v3h-3zM545 479h3v3h-3zM546 477h3v3h-3zM546 484h3v3h-3zM547 478h3v3h-3zM547 481h3v3h-3zM547 481h3v3h-3zM548 490h3v3h-3zM548 482h3v3h-3zM549 482h3v3h-3zM549 478h3v3h-3zM550 483h3v3h-3zM550 483h3v3h-3zM551 476h3v3h-3zM551 481h3v3h-3zM552 485h3v3h-3zM552 480h3v3h-3zM553 480h3v3h-3zM553 490h3v3h-3zM553 478h3v3h-3zM554 483h3v3h-3zM554 480h3v3h-3zM555 475h3v3h-3zM555 482h3v3h-3zM556 477h3v3h-3zM556 481h3v3h-3zM557 482h3v3h-3zM557 478h3v3h-3zM558 485h3v3h-3zM558 480h3v3h-3zM558 478h3v3h-3zM559 482h3v3h-3zM559 482h3v3h-3zM560 478h3v3h-3zM560 478h3v3h-3zM561 482h3v3h-3zM561 482h3v3h-3zM562 476h3v3h-3zM562 484h3v3h-3zM563 483h3v3h-3zM563 484h3v3h-3zM563 480h3v3h-3zM564 479h3v3h-3zM564 480h3v3h-3zM565 478h3v3h-3zM565 479h3v3h-3zM566 476h3v3h-3zM566 477h3v3h-3zM567 476h3v3h-3zM567 477h3v3h-3zM568 477h3v3h-3zM568 475h3v3h-3zM569 473h3v3h-3zM569 479h3v3h-3zM569 476h3v3h-3zM570 481h3v3h-3zM570 470h3v3h-3zM571 474h3v3h-3zM571 470h3v3h-3zM572 472h3v3h-3zM572 471h3v3h-3zM573 477h3v3h-3zM573 470h3v3h-3zM574 467h3v3h-3zM574 474h3v3h-3zM574 475h3v3h-3zM575 476h3v3h-3zM575 463h3v3h-3zM576 468h3v3h-3zM576 470h3v3h-3zM577 465h3v3h-3zM577 472h3v3h-3zM578 474h3v3h-3zM578 476h3v3h-3zM579 474h3v3h-3zM579 471h3v3h-3zM580 477h3v3h-3zM580 474h3v3h-3zM580 465h3v3h-3zM581 472h3v3h-3zM581 471h3v3h-3zM582 474h3v3h-3zM582 469h3v3h-3zM583 474h3v3h-3zM583 479h3v3h-3zM584 472h3v3h-3zM584 470h3v3h-3zM585 475h3v3h-3zM585 475h3v3h-3zM585 472h3v3h-3zM586 472h3v3h-3zM586 469h3v3h-3zM587 466h3v3h-3zM587 468h3v3h-3zM588 466h3v3h-3zM588 473h3v3h-3zM589 469h3v3h-3zM589 473h3v3h-3zM590 468h3v3h-3zM590 465h3v3h-3zM591 467h3v3h-3zM591 465h3v3h-3zM591 468h3v3h-3zM592 457h3v3h-3zM592 461h3v3h-3zM593 464h3v3h-3zM593 461h3v3h-3zM594 463h3v3h-3zM594 462h3v3h-3zM595 466h3v3h-3zM595 466h3v3h-3zM596 454h3v3h-3zM596 457h3v3h-3zM596 459h3v3h-3zM597 461h3v3h-3zM597 460h3v3h-3zM598 460h3v3h-3zM598 464h3v3h-3zM599 465h3v3h-3zM599 463h3v3h-3zM600 460h3v3h-3zM600 460h3v3h-3zM601 456h3v3h-3zM601 463h3v3h-3zM602 462h3v3h-3zM602 456h3v3h-3zM602 464h3v3h-3zM603 459h3v3h-3zM603 462h3v3h-3zM604 459h3v3h-3zM604 456h3v3h-3zM605 457h3v3h-3zM605 449h3v3h-3zM606 452h3v3h-3zM606 449h3v3h-3zM607 453h3v3h-3zM607 450h3v3h-3zM607 449h3v3h-3zM608 448h3v3h-3zM608 451h3v3h-3zM609 450h3v3h-3zM609 449h3v3h-3zM610 447h3v3h-3zM610 455h3v3h-3zM611 453h3v3h-3zM611 440h3v3h-3zM612 452h3v3h-3zM612 450h3v3h-3zM613 450h3v3h-3zM613 450h3v3h-3zM613 444h3v3h-3zM614 457h3v3h-3zM614 456h3v3h-3zM615 452h3v3h-3zM615 453h3v3h-3zM616 454h3v3h-3zM616 453h3v3h-3zM617 457h3v3h-3zM617 455h3v3h-3zM618 452h3v3h-3zM618 454h3v3h-3zM618 453h3v3h-3zM619 453h3v3h-3zM619 455h3v3h-3zM620 459h3v3h-3zM620 454h3v3h-3zM621 449h3v3h-3zM621 459h3v3h-3zM622 453h3v3h-3zM622 461h3v3h-3zM623 458h3v3h-3zM623 460h3v3h-3zM624 458h3v3h-3zM624 461h3v3h-3zM624 460h3v3h-3zM625 462h3v3h-3zM625 464h3v3h-3zM626 462h3v3h-3zM626 466h3v3h-3zM627 461h3v3h-3zM627 462h3v3h-3zM628 467h3v3h-3zM628 468h3v3h-3zM629 469h3v3h-3zM629 471h3v3h-3zM629 469h3v3h-3zM630 470h3v3h-3zM630 468h3v3h-3zM631 468h3v3h-3zM631 468h3v3h-3zM632 469h3v3h-3zM632 467h3v3h-3zM633 469h3v3h-3zM633 472h3v3h-3zM634 473h3v3h-3zM634 475h3v3h-3zM635 471h3v3h-3zM635 473h3v3h-3zM635 475h3v3h-3zM636 472h3v3h-3zM636 472h3v3h-3zM637 477h3v3h-3zM637 474h3v3h-3zM638 479h3v3h-3zM638 482h3v3h-3zM639 474h3v3h-3zM639 467h3v3h-3zM640 480h3v3h-3zM640 478h3v3h-3zM640 476h3v3h-3zM641 475h3v3h-3zM641 476h3v3h-3zM642 480h3v3h-3zM642 486h3v3h-3zM643 480h3v3h-3zM643 483h3v3h-3zM644 483h3v3h-3zM644 474h3v3h-3zM645 482h3v3h-3zM645 489h3v3h-3zM646 481h3v3h-3zM646 492h3v3h-3zM646 489h3v3h-3zM647 493h3v3h-3zM647 497h3v3h-3zM648 492h3v3h-3zM648 497h3v3h-3zM649 494h3v3h-3zM649 491h3v3h-3zM650 497h3v3h-3zM650 499h3v3h-3zM651 498h3v3h-3zM651 492h3v3h-3zM651 498h3v3h-3zM652 494h3v3h-3zM652 498h3v3h-3zM653 504h3v3h-3zM653 496h3v3h-3zM654 508h3v3h-3zM654 495h3v3h-3zM655 493h3v3h-3zM655 505h3v3h-3zM656 501h3v3h-3zM656 501h3v3h-3zM656 499h3v3h-3zM657 505h3v3h-3zM657 504h3v3h-3zM658 504h3v3h-3zM658 504h3v3h-3zM659 501h3v3h-3zM659 505h3v3h-3zM660 500h3v3h-3zM660 504h3v3h-3zM661 507h3v3h-3zM661 506h3v3h-3zM662 507h3v3h-3zM662 496h3v3h-3zM662 505h3v3h-3zM663 508h3v3h-3zM663 505h3v3h-3zM664 508h3v3h-3zM664 507h3v3h-3zM665 497h3v3h-3zM665 501h3v3h-3zM666 500h3v3h-3zM666 506h3v3h-3zM667 504h3v3h-3zM667 503h3v3h-3zM667 504h3v3h-3zM668 506h3v3h-3zM668 501h3v3h-3zM669 508h3v3h-3zM669 504h3v3h-3zM670 503h3v3h-3zM670 501h3v3h-3zM671 501h3v3h-3zM671 497h3v3h-3zM672 498h3v3h-3zM672 504h3v3h-3zM673 508h3v3h-3zM673 508h3v3h-3zM673 497h3v3h-3zM674 504h3v3h-3zM674 499h3v3h-3zM675 500h3v3h-3zM675 501h3v3h-3zM676 504h3v3h-3zM676 504h3v3h-3zM677 495h3v3h-3zM677 500h3v3h-3zM678 505h3v3h-3zM678 502h3v3h-3zM678 496h3v3h-3zM679 498h3v3h-3zM679 498h3v3h-3zM680 504h3v3h-3zM680 506h3v3h-3zM681 497h3v3h-3zM681 501h3v3h-3zM682 498h3v3h-3zM682 500h3v3h-3zM683 497h3v3h-3zM683 493h3v3h-3zM684 495h3v3h-3zM684 495h3v3h-3zM684 502h3v3h-3zM685 496h3v3h-3zM685 499h3v3h-3zM686 496h3v3h-3zM686 496h3v3h-3zM687 499h3v3h-3zM687 496h3v3h-3zM688 498h3v3h-3zM688 500h3v3h-3zM689 493h3v3h-3zM689 498h3v3h-3zM689 502h3v3h-3zM690 495h3v3h-3zM690 498h3v3h-3zM691 503h3v3h-3zM691 496h3v3h-3zM692 500h3v3h-3zM692 497h3v3h-3zM693 498h3v3h-3zM693 493h3v3h-3zM694 496h3v3h-3zM694 495h3v3h-3zM695 502h3v3h-3zM695 497h3v3h-3zM695 497h3v3h-3zM696 496h3v3h-3zM696 498h3v3h-3zM697 490h3v3h-3zM697 491h3v3h-3zM698 491h3v3h-3zM698 491h3v3h-3zM699 489h3v3h-3zM699 494h3v3h-3zM700 490h3v3h-3zM700 495h3v3h-3zM700 490h3v3h-3zM701 489h3v3h-3zM701 491h3v3h-3zM702 490h3v3h-3zM702 486h3v3h-3zM703 489h3v3h-3zM703 491h3v3h-3zM704 486h3v3h-3zM704 488h3v3h-3zM705 484h3v3h-3zM705 485h3v3h-3zM706 484h3v3h-3zM706 480h3v3h-3zM706 483h3v3h-3zM707 477h3v3h-3zM707 475h3v3h-3zM708 478h3v3h-3zM708 476h3v3h-3zM709 473h3v3h-3zM709 482h3v3h-3zM710 477h3v3h-3zM710 477h3v3h-3zM711 476h3v3h-3zM711 476h3v3h-3zM711 473h3v3h-3zM712 472h3v3h-3zM712 467h3v3h-3zM713 470h3v3h-3zM713 478h3v3h-3zM714 474h3v3h-3zM714 474h3v3h-3zM715 469h3v3h-3zM715 468h3v3h-3zM716 475h3v3h-3zM716 472h3v3h-3zM717 472h3v3h-3zM717 475h3v3h-3zM717 475h3v3h-3zM718 473h3v3h-3zM718 469h3v3h-3zM719 469h3v3h-3zM719 465h3v3h-3zM720 467h3v3h-3zM720 473h3v3h-3zM721 470h3v3h-3zM721 468h3v3h-3zM722 471h3v3h-3zM722 475h3v3h-3zM722 467h3v3h-3zM723 469h3v3h-3zM723 470h3v3h-3zM724 478h3v3h-3zM724 472h3v3h-3zM725 470h3v3h-3zM725 465h3v3h-3zM726 473h3v3h-3zM726 472h3v3h-3zM727 469h3v3h-3zM727 468h3v3h-3zM728 469h3v3h-3zM728 465h3v3h-3zM728 470h3v3h-3zM729 469h3v3h-3zM729 467h3v3h-3zM730 468h3v3h-3zM730 465h3v3h-3zM731 473h3v3h-3zM731 470h3v3h-3zM732 466h3v3h-3zM732 473h3v3h-3zM733 473h3v3h-3zM733 470h3v3h-3zM733 468h3v3h-3zM734 472h3v3h-3zM734 474h3v3h-3zM735 474h3v3h-3zM735 476h3v3h-3zM736 478h3v3h-3zM736 471h3v3h-3zM737 474h3v3h-3zM737 468h3v3h-3zM738 477h3v3h-3zM738 475h3v3h-3zM739 477h3v3h-3zM739 477h3v3h-3zM739 477h3v3h-3zM740 476h3v3h-3zM740 469h3v3h-3zM741 476h3v3h-3zM741 486h3v3h-3zM742 481h3v3h-3zM742 477h3v3h-3zM743 478h3v3h-3zM743 480h3v3h-3zM744 476h3v3h-3zM744 478h3v3h-3zM744 479h3v3h-3zM745 476h3v3h-3zM745 482h3v3h-3zM746 484h3v3h-3zM746 484h3v3h-3zM747 482h3v3h-3zM747 480h3v3h-3zM748 484h3v3h-3zM748 480h3v3h-3zM749 483h3v3h-3zM749 487h3v3h-3zM749 480h3v3h-3zM750 477h3v3h-3zM750 483h3v3h-3zM751 483h3v3h-3zM751 483h3v3h-3zM752 478h3v3h-3zM752 482h3v3h-3zM753 478h3v3h-3zM753 475h3v3h-3zM754 477h3v3h-3zM754 475h3v3h-3zM755 470h3v3h-3zM755 473h3v3h-3zM755 474h3v3h-3zM756 472h3v3h-3zM756 474h3v3h-3zM757 473h3v3h-3zM757 469h3v3h-3zM758 473h3v3h-3zM758 473h3v3h-3zM759 464h3v3h-3zM759 469h3v3h-3zM760 474h3v3h-3zM760 472h3v3h-3zM760 464h3v3h-3zM761 470h3v3h-3zM761 475h3v3h-3zM762 472h3v3h-3zM762 472h3v3h-3zM763 468h3v3h-3zM763 469h3v3h-3zM764 466h3v3h-3zM764 469h3v3h-3zM765 477h3v3h-3zM765 471h3v3h-3zM766 467h3v3h-3zM766 472h3v3h-3zM766 464h3v3h-3zM767 479h3v3h-3zM767 473h3v3h-3zM768 470h3v3h-3zM768 470h3v3h-3zM769 467h3v3h-3zM769 470h3v3h-3zM770 470h3v3h-3zM770 465h3v3h-3zM771 473h3v3h-3zM771 470h3v3h-3zM771 468h3v3h-3zM772 473h3v3h-3zM772 471h3v3h-3zM773 468h3v3h-3zM773 467h3v3h-3zM774 474h3v3h-3zM774 471h3v3h-3zM775 474h3v3h-3zM775 478h3v3h-3zM776 471h3v3h-3zM776 470h3v3h-3zM777 472h3v3h-3zM777 474h3v3h-3zM777 476h3v3h-3zM778 480h3v3h-3zM778 477h3v3h-3zM779 485h3v3h-3zM779 482h3v3h-3zM780 476h3v3h-3zM780 482h3v3h-3zM781 486h3v3h-3zM781 488h3v3h-3zM782 484h3v3h-3zM782 485h3v3h-3zM782 493h3v3h-3zM783 486h3v3h-3zM783 477h3v3h-3zM784 483h3v3h-3zM784 486h3v3h-3zM785 492h3v3h-3zM785 487h3v3h-3zM786 495h3v3h-3zM786 489h3v3h-3zM787 487h3v3h-3zM787 496h3v3h-3zM788 493h3v3h-3zM788 492h3v3h-3zM788 497h3v3h-3zM789 492h3v3h-3zM789 497h3v3h-3zM790 494h3v3h-3zM790 500h3v3h-3zM791 495h3v3h-3zM791 496h3v3h-3zM792 499h3v3h-3zM792 498h3v3h-3zM793 499h3v3h-3zM793 497h3v3h-3zM793 500h3v3h-3zM794 498h3v3h-3zM794 499h3v3h-3zM795 503h3v3h-3zM795 503h3v3h-3zM796 501h3v3h-3zM796 504h3v3h-3zM797 501h3v3h-3zM797 507h3v3h-3zM798 511h3v3h-3zM798 516h3v3h-3zM799 510h3v3h-3zM799 513h3v3h-3zM799 515h3v3h-3zM800 514h3v3h-3zM800 507h3v3h-3zM801 511h3v3h-3zM801 514h3v3h-3zM802 515h3v3h-3zM802 514h3v3h-3zM803 511h3v3h-3zM803 509h3v3h-3zM804 517h3v3h-3zM804 519h3v3h-3zM804 514h3v3h-3zM805 517h3v3h-3zM805 514h3v3h-3zM806 516h3v3h-3zM806 515h3v3h-3zM807 519h3v3h-3zM807 515h3v3h-3zM808 517h3v3h-3zM808 521h3v3h-3zM809 517h3v3h-3zM809 514h3v3h-3zM810 518h3v3h-3zM810 515h3v3h-3zM810 512h3v3h-3zM811 514h3v3h-3zM811 514h3v3h-3zM812 517h3v3h-3zM812 514h3v3h-3zM813 514h3v3h-3zM813 514h3v3h-3zM814 514h3v3h-3zM814 515h3v3h-3zM815 514h3v3h-3zM815 511h3v3h-3zM815 514h3v3h-3zM816 514h3v3h-3zM816 508h3v3h-3zM817 508h3v3h-3zM817 514h3v3h-3zM818 515h3v3h-3zM818 516h3v3h-3zM819 509h3v3h-3zM819 505h3v3h-3zM820 504h3v3h-3zM820 507h3v3h-3zM821 504h3v3h-3zM821 509h3v3h-3zM821 510h3v3h-3zM822 503h3v3h-3zM822 509h3v3h-3zM823 501h3v3h-3zM823 501h3v3h-3zM824 498h3v3h-3zM824 504h3v3h-3zM825 501h3v3h-3zM825 501h3v3h-3zM826 493h3v3h-3zM826 500h3v3h-3zM826 501h3v3h-3zM827 493h3v3h-3zM827 506h3v3h-3zM828 501h3v3h-3zM828 503h3v3h-3zM829 499h3v3h-3zM829 503h3v3h-3zM830 503h3v3h-3zM830 507h3v3h-3zM831 495h3v3h-3zM831 506h3v3h-3zM832 496h3v3h-3zM832 499h3v3h-3zM832 497h3v3h-3zM833 498h3v3h-3zM833 493h3v3h-3zM834 498h3v3h-3zM834 495h3v3h-3zM835 498h3v3h-3zM835 500h3v3h-3zM836 500h3v3h-3zM836 498h3v3h-3zM837 503h3v3h-3zM837 502h3v3h-3zM837 502h3v3h-3zM838 503h3v3h-3zM838 498h3v3h-3zM839 499h3v3h-3zM839 499h3v3h-3zM840 496h3v3h-3zM840 502h3v3h-3zM841 496h3v3h-3zM841 496h3v3h-3zM842 497h3v3h-3zM842 496h3v3h-3zM842 498h3v3h-3zM843 496h3v3h-3zM843 490h3v3h-3zM844 500h3v3h-3zM844 495h3v3h-3zM845 497h3v3h-3zM845 493h3v3h-3zM846 497h3v3h-3zM846 492h3v3h-3zM847 500h3v3h-3zM847 494h3v3h-3zM848 493h3v3h-3zM848 485h3v3h-3zM848 487h3v3h-3zM849 492h3v3h-3zM849 492h3v3h-3zM850 491h3v3h-3zM850 492h3v3h-3zM851 497h3v3h-3zM851 493h3v3h-3zM852 493h3v3h-3zM852 491h3v3h-3zM853 490h3v3h-3zM853 494h3v3h-3zM853 492h3v3h-3zM854 494h3v3h-3zM854 496h3v3h-3zM855 497h3v3h-3zM855 498h3v3h-3zM856 496h3v3h-3zM856 489h3v3h-3zM857 489h3v3h-3zM857 496h3v3h-3zM858 493h3v3h-3zM858 497h3v3h-3zM859 492h3v3h-3zM859 487h3v3h-3zM859 488h3v3h-3zM860 493h3v3h-3zM860 493h3v3h-3zM861 501h3v3h-3zM861 496h3v3h-3zM862 482h3v3h-3zM862 495h3v3h-3zM863 489h3v3h-3zM863 494h3v3h-3zM864 492h3v3h-3zM864 500h3v3h-3zM864 492h3v3h-3zM865 491h3v3h-3zM865 496h3v3h-3zM866 495h3v3h-3zM866 495h3v3h-3zM867 496h3v3h-3zM867 495h3v3h-3zM868 493h3v3h-3zM868 495h3v3h-3zM869 504h3v3h-3zM869 495h3v3h-3zM870 497h3v3h-3zM870 493h3v3h-3zM870 491h3v3h-3zM871 499h3v3h-3zM871 497h3v3h-3zM872 498h3v3h-3zM872 497h3v3h-3zM873 492h3v3h-3zM873 490h3v3h-3zM874 498h3v3h-3zM874 492h3v3h-3zM875 498h3v3h-3zM875 494h3v3h-3zM875 495h3v3h-3zM876 494h3v3h-3zM876 494h3v3h-3zM877 493h3v3h-3zM877 500h3v3h-3zM878 491h3v3h-3zM878 489h3v3h-3zM879 496h3v3h-3zM879 494h3v3h-3zM880 499h3v3h-3zM880 495h3v3h-3zM881 496h3v3h-3zM881 496h3v3h-3zM881 493h3v3h-3zM882 495h3v3h-3zM882 498h3v3h-3zM883 493h3v3h-3zM883 496h3v3h-3zM884 498h3v3h-3zM884 499h3v3h-3zM885 501h3v3h-3zM885 500h3v3h-3zM886 502h3v3h-3zM886 501h3v3h-3zM886 506h3v3h-3zM887 508h3v3h-3zM887 500h3v3h-3zM888 503h3v3h-3zM888 503h3v3h-3zM889 505h3v3h-3zM889 504h3v3h-3zM890 504h3v3h-3zM890 504h3v3h-3zM891 507h3v3h-3zM891 508h3v3h-3zM892 511h3v3h-3zM892 512h3v3h-3zM892 509h3v3h-3zM893 509h3v3h-3zM893 508h3v3h-3zM894 515h3v3h-3zM894 515h3v3h-3zM895 518h3v3h-3zM895 519h3v3h-3zM896 520h3v3h-3zM896 519h3v3h-3zM897 519h3v3h-3zM897 518h3v3h-3zM897 520h3v3h-3zM898 525h3v3h-3zM898 531h3v3h-3zM899 523h3v3h-3zM899 528h3v3h-3zM900 537h3v3h-3zM900 529h3v3h-3zM901 530h3v3h-3zM901 532h3v3h-3zM902 532h3v3h-3zM902 529h3v3h-3zM903 539h3v3h-3zM903 518h3v3h-3zM903 534h3v3h-3zM904 535h3v3h-3zM904 538h3v3h-3zM905 537h3v3h-3zM905 536h3v3h-3zM906 535h3v3h-3zM906 539h3v3h-3zM907 539h3v3h-3zM907 537h3v3h-3zM908 534h3v3h-3zM908 532h3v3h-3zM908 544h3v3h-3zM909 536h3v3h-3zM909 542h3v3h-3zM910 543h3v3h-3zM910 546h3v3h-3zM911 542h3v3h-3zM911 541h3v3h-3zM912 545h3v3h-3zM912 545h3v3h-3zM913 538h3v3h-3zM913 549h3v3h-3zM914 545h3v3h-3zM914 547h3v3h-3zM914 545h3v3h-3zM915 548h3v3h-3zM915 547h3v3h-3zM916 552h3v3h-3zM916 550h3v3h-3zM917 554h3v3h-3zM917 546h3v3h-3zM918 548h3v3h-3zM918 550h3v3h-3zM919 550h3v3h-3zM919 556h3v3h-3zM919 553h3v3h-3zM920 553h3v3h-3zM920 553h3v3h-3zM921 560h3v3h-3zM921 554h3v3h-3zM922 558h3v3h-3zM922 552h3v3h-3zM923 548h3v3h-3zM923 555h3v3h-3zM924 555h3v3h-3zM924 555h3v3h-3zM925 558h3v3h-3zM925 561h3v3h-3zM925 554h3v3h-3zM926 560h3v3h-3zM926 562h3v3h-3zM927 561h3v3h-3zM927 564h3v3h-3zM928 561h3v3h-3zM928 561h3v3h-3zM929 560h3v3h-3zM929 565h3v3h-3zM930 559h3v3h-3zM930 562h3v3h-3zM930 564h3v3h-3zM931 565h3v3h-3zM931 562h3v3h-3zM932 560h3v3h-3zM932 564h3v3h-3zM933 559h3v3h-3zM933 561h3v3h-3zM934 558h3v3h-3zM934 565h3v3h-3zM935 565h3v3h-3zM935 560h3v3h-3zM935 565h3v3h-3zM936 566h3v3h-3zM936 562h3v3h-3zM937 559h3v3h-3zM937 564h3v3h-3zM938 566h3v3h-3zM938 559h3v3h-3zM939 566h3v3h-3zM939 563h3v3h-3zM940 567h3v3h-3zM940 561h3v3h-3zM941 566h3v3h-3zM941 566h3v3h-3zM941 567h3v3h-3zM942 564h3v3h-3zM942 567h3v3h-3zM943 563h3v3h-3zM943 562h3v3h-3zM944 559h3v3h-3zM944 559h3v3h-3zM945 564h3v3h-3zM945 563h3v3h-3zM946 564h3v3h-3zM946 564h3v3h-3zM946 566h3v3h-3zM947 566h3v3h-3zM947 564h3v3h-3zM948 569h3v3h-3zM948 572h3v3h-3zM949 564h3v3h-3zM949 564h3v3h-3zM950 568h3v3h-3zM950 564h3v3h-3zM951 570h3v3h-3zM951 560h3v3h-3zM952 563h3v3h-3zM952 564h3v3h-3zM952 570h3v3h-3zM953 560h3v3h-3zM953 567h3v3h-3zM954 556h3v3h-3zM954 571h3v3h-3zM955 568h3v3h-3zM955 570h3v3h-3zM956 575h3v3h-3zM956 569h3v3h-3zM957 562h3v3h-3zM957 571h3v3h-3zM957 573h3v3h-3zM958 567h3v3h-3zM958 572h3v3h-3zM959 568h3v3h-3zM959 572h3v3h-3zM960 570h3v3h-3zM960 567h3v3h-3zM961 569h3v3h-3zM961 570h3v3h-3zM962 571h3v3h-3zM962 578h3v3h-3zM963 569h3v3h-3zM963 568h3v3h-3zM963 569h3v3h-3zM964 573h3v3h-3zM964 573h3v3h-3zM965 576h3v3h-3zM965 578h3v3h-3zM966 576h3v3h-3zM966 576h3v3h-3zM967 573h3v3h-3zM967 579h3v3h-3zM968 580h3v3h-3zM968 576h3v3h-3zM968 579h3v3h-3zM969 575h3v3h-3zM969 577h3v3h-3zM970 577h3v3h-3zM970 580h3v3h-3zM971 573h3v3h-3zM971 577h3v3h-3zM972 580h3v3h-3zM972 578h3v3h-3zM973 580h3v3h-3zM973 571h3v3h-3zM974 576h3v3h-3zM974 577h3v3h-3zM974 581h3v3h-3zM975 570h3v3h-3zM975 578h3v3h-3zM976 576h3v3h-3zM976 569h3v3h-3zM977 573h3v3h-3zM977 573h3v3h-3zM978 576h3v3h-3zM978 575h3v3h-3zM979 569h3v3h-3zM979 569h3v3h-3zM979 571h3v3h-3zM980 575h3v3h-3zM980 571h3v3h-3zM981 566h3v3h-3zM981 574h3v3h-3zM982 573h3v3h-3zM982 576h3v3h-3zM983 573h3v3h-3zM983 575h3v3h-3zM984 567h3v3h-3zM984 569h3v3h-3zM985 567h3v3h-3zM985 570h3v3h-3zM985 574h3v3h-3zM986 572h3v3h-3zM986 574h3v3h-3zM987 563h3v3h-3zM987 576h3v3h-3zM988 576h3v3h-3zM988 568h3v3h-3zM989 570h3v3h-3zM989 572h3v3h-3zM990 576h3v3h-3zM990 576h3v3h-3zM990 580h3v3h-3zM991 569h3v3h-3zM991 574h3v3h-3zM992 574h3v3h-3zM992 575h3v3h-3zM993 576h3v3h-3zM993 573h3v3h-3zM994 581h3v3h-3zM994 580h3v3h-3zM995 582h3v3h-3zM995 587h3v3h-3zM996 581h3v3h-3zM996 584h3v3h-3zM996 581h3v3h-3zM997 579h3v3h-3zM997 583h3v3h-3zM998 586h3v3h-3zM998 584h3v3h-3zM999 590h3v3h-3zM999 595h3v3h-3zM1000 596h3v3h-3zM1000 594h3v3h-3zM1001 600h3v3h-3zM1001 600h3v3h-3zM1001 593h3v3h-3zM1002 596h3v3h-3zM1002 604h3v3h-3zM1003 600h3v3h-3zM1003 601h3v3h-3zM1004 599h3v3h-3zM1004 616h3v3h-3zM1005 609h3v3h-3zM1005 600h3v3h-3zM1006 605h3v3h-3zM1006 603h3v3h-3zM1007 608h3v3h-3zM1007 610h3v3h-3zM1007 609h3v3h-3zM1008 603h3v3h-3zM1008 605h3v3h-3zM1009 614h3v3h-3zM1009 610h3v3h-3zM1010 610h3v3h-3zM1010 608h3v3h-3zM1011 605h3v3h-3zM1011 602h3v3h-3zM1012 602h3v3h-3zM1012 600h3v3h-3zM1012 603h3v3h-3zM1013 604h3v3h-3zM1013 609h3v3h-3zM1014 603h3v3h-3zM1014 610h3v3h-3zM1015 602h3v3h-3zM1015 616h3v3h-3zM1016 607h3v3h-3zM1016 610h3v3h-3zM1017 614h3v3h-3zM1017 609h3v3h-3zM1018 611h3v3h-3zM1018 608h3v3h-3zM1018 613h3v3h-3zM1019 611h3v3h-3zM1019 616h3v3h-3zM1020 614h3v3h-3zM1020 611h3v3h-3zM1021 614h3v3h-3zM1021 609h3v3h-3zM1022 604h3v3h-3zM1022 609h3v3h-3zM1023 610h3v3h-3zM1023 604h3v3h-3zM1023 608h3v3h-3zM1024 610h3v3h-3zM1024 604h3v3h-3zM1025 609h3v3h-3zM1025 604h3v3h-3zM1026 607h3v3h-3zM1026 604h3v3h-3zM1027 606h3v3h-3zM1027 601h3v3h-3zM1028 596h3v3h-3zM1028 595h3v3h-3zM1028 614h3v3h-3zM1029 600h3v3h-3zM1029 602h3v3h-3zM1030 600h3v3h-3zM1030 610h3v3h-3zM1031 609h3v3h-3zM1031 610h3v3h-3zM1032 605h3v3h-3zM1032 611h3v3h-3zM1033 605h3v3h-3zM1033 610h3v3h-3zM1034 608h3v3h-3zM1034 601h3v3h-3zM1034 607h3v3h-3zM1035 605h3v3h-3zM1035 616h3v3h-3zM1036 605h3v3h-3zM1036 608h3v3h-3zM1037 606h3v3h-3zM1037 604h3v3h-3zM1038 603h3v3h-3zM1038 606h3v3h-3zM1039 608h3v3h-3zM1039 604h3v3h-3zM1039 604h3v3h-3zM1040 604h3v3h-3zM1040 600h3v3h-3zM1041 602h3v3h-3zM1041 602h3v3h-3zM1042 603h3v3h-3zM1042 602h3v3h-3zM1043 601h3v3h-3zM1043 602h3v3h-3zM1044 595h3v3h-3zM1044 601h3v3h-3zM1045 595h3v3h-3zM1045 597h3v3h-3zM1045 597h3v3h-3zM1046 601h3v3h-3zM1046 597h3v3h-3zM1047 601h3v3h-3zM1047 597h3v3h-3zM1048 596h3v3h-3zM1048 600h3v3h-3zM1049 595h3v3h-3zM1049 602h3v3h-3zM1050 596h3v3h-3zM1050 595h3v3h-3zM1050 600h3v3h-3zM1051 593h3v3h-3zM1051 601h3v3h-3zM1052 597h3v3h-3zM1052 596h3v3h-3zM1053 597h3v3h-3zM1053 595h3v3h-3zM1054 604h3v3h-3zM1054 603h3v3h-3zM1055 605h3v3h-3zM1055 605h3v3h-3zM1056 606h3v3h-3zM1056 605h3v3h-3zM1056 602h3v3h-3zM1057 601h3v3h-3zM1057 602h3v3h-3zM1058 605h3v3h-3zM1058 611h3v3h-3zM1059 604h3v3h-3zM1059 606h3v3h-3zM1060 610h3v3h-3zM1060 619h3v3h-3zM1061 609h3v3h-3zM1061 605h3v3h-3zM1061 610h3v3h-3zM1062 608h3v3h-3zM1062 609h3v3h-3zM1063 610h3v3h-3zM1063 612h3v3h-3zM1064 615h3v3h-3zM1064 608h3v3h-3zM1065 614h3v3h-3zM1065 609h3v3h-3zM1066 607h3v3h-3zM1066 612h3v3h-3zM1067 615h3v3h-3zM1067 615h3v3h-3zM1067 615h3v3h-3zM1068 606h3v3h-3zM1068 617h3v3h-3zM1069 615h3v3h-3zM1069 614h3v3h-3zM1070 607h3v3h-3zM1070 614h3v3h-3zM1071 609h3v3h-3zM1071 610h3v3h-3zM1072 606h3v3h-3zM1072 607h3v3h-3zM1072 616h3v3h-3zM1073 615h3v3h-3zM1073 607h3v3h-3zM1074 613h3v3h-3zM1074 594h3v3h-3zM1075 608h3v3h-3zM1075 608h3v3h-3zM1076 608h3v3h-3zM1076 611h3v3h-3zM1077 617h3v3h-3zM1077 605h3v3h-3zM1078 608h3v3h-3zM1078 605h3v3h-3zM1078 606h3v3h-3zM1079 606h3v3h-3zM1079 609h3v3h-3zM1080 606h3v3h-3zM1080 608h3v3h-3zM1081 616h3v3h-3zM1081 612h3v3h-3zM1082 610h3v3h-3zM1082 609h3v3h-3zM1083 617h3v3h-3zM1083 618h3v3h-3zM1083 618h3v3h-3zM1084 623h3v3h-3zM1084 613h3v3h-3zM1085 624h3v3h-3zM1085 608h3v3h-3zM1086 618h3v3h-3zM1086 617h3v3h-3zM1087 624h3v3h-3zM1087 622h3v3h-3zM1088 622h3v3h-3zM1088 626h3v3h-3zM1089 620h3v3h-3zM1089 624h3v3h-3zM1089 633h3v3h-3zM1090 627h3v3h-3zM1090 630h3v3h-3zM1091 625h3v3h-3zM1091 631h3v3h-3zM1092 629h3v3h-3zM1092 631h3v3h-3zM1093 634h3v3h-3zM1093 630h3v3h-3zM1094 627h3v3h-3zM1094 632h3v3h-3zM1094 629h3v3h-3zM1095 638h3v3h-3zM1095 634h3v3h-3zM1096 635h3v3h-3zM1096 635h3v3h-3zM1097 630h3v3h-3zM1097 633h3v3h-3zM1098 634h3v3h-3zM1098 640h3v3h-3zM1099 640h3v3h-3zM1099 642h3v3h-3zM1100 638h3v3h-3zM1100 638h3v3h-3zM1100 642h3v3h-3zM1101 632h3v3h-3zM1101 636h3v3h-3zM1102 652h3v3h-3zM1102 642h3v3h-3zM1103 641h3v3h-3zM1103 635h3v3h-3zM1104 640h3v3h-3zM1104 640h3v3h-3zM1105 639h3v3h-3zM1105 643h3v3h-3zM1105 641h3v3h-3zM1106 641h3v3h-3zM1106 650h3v3h-3zM1107 645h3v3h-3zM1107 640h3v3h-3zM1108 650h3v3h-3zM1108 645h3v3h-3zM1109 645h3v3h-3zM1109 636h3v3h-3zM1110 649h3v3h-3zM1110 646h3v3h-3zM1111 650h3v3h-3zM1111 653h3v3h-3zM1111 644h3v3h-3zM1112 655h3v3h-3zM1112 650h3v3h-3zM1113 660h3v3h-3zM1113 637h3v3h-3zM1114 660h3v3h-3zM1114 657h3v3h-3zM1115 659h3v3h-3zM1115 653h3v3h-3zM1116 658h3v3h-3zM1116 661h3v3h-3zM1116 661h3v3h-3zM1117 650h3v3h-3zM1117 650h3v3h-3zM1118 655h3v3h-3zM1118 654h3v3h-3zM1119 656h3v3h-3zM1119 654h3v3h-3zM1120 655h3v3h-3zM1120 657h3v3h-3zM1121 660h3v3h-3zM1121 655h3v3h-3zM1121 649h3v3h-3zM1122 653h3v3h-3zM1122 651h3v3h-3zM1123 656h3v3h-3zM1123 651h3v3h-3zM1124 650h3v3h-3zM1124 643h3v3h-3zM1125 651h3v3h-3zM1125 650h3v3h-3zM1126 649h3v3h-3zM1126 649h3v3h-3zM1127 652h3v3h-3zM1127 644h3v3h-3zM1127 649h3v3h-3zM1128 648h3v3h-3zM1128 646h3v3h-3zM1129 646h3v3h-3zM1129 648h3v3h-3zM1130 645h3v3h-3zM1130 641h3v3h-3zM1131 641h3v3h-3zM1131 645h3v3h-3zM1132 640h3v3h-3zM1132 644h3v3h-3zM1132 642h3v3h-3zM1133 643h3v3h-3zM1133 646h3v3h-3zM1134 645h3v3h-3zM1134 644h3v3h-3zM1135 644h3v3h-3zM1135 644h3v3h-3zM1136 639h3v3h-3zM1136 642h3v3h-3zM1137 637h3v3h-3zM1137 647h3v3h-3zM1138 641h3v3h-3zM1138 637h3v3h-3zM1138 640h3v3h-3zM1139 643h3v3h-3zM1139 641h3v3h-3zM1140 634h3v3h-3zM1140 648h3v3h-3zM1141 640h3v3h-3zM1141 640h3v3h-3zM1142 637h3v3h-3zM1142 637h3v3h-3zM1143 635h3v3h-3zM1143 640h3v3h-3zM1143 638h3v3h-3zM1144 637h3v3h-3zM1144 641h3v3h-3zM1145 639h3v3h-3zM1145 633h3v3h-3zM1146 637h3v3h-3zM1146 640h3v3h-3zM1147 633h3v3h-3zM1147 640h3v3h-3zM1148 636h3v3h-3zM1148 645h3v3h-3zM1149 637h3v3h-3zM1149 632h3v3h-3zM1149 637h3v3h-3zM1150 636h3v3h-3zM1150 633h3v3h-3zM1151 633h3v3h-3zM1151 633h3v3h-3zM1152 623h3v3h-3zM1152 634h3v3h-3zM1153 631h3v3h-3zM1153 631h3v3h-3zM1154 639h3v3h-3zM1154 632h3v3h-3zM1154 629h3v3h-3zM1155 635h3v3h-3zM1155 631h3v3h-3zM1156 632h3v3h-3zM1156 624h3v3h-3zM1157 629h3v3h-3zM1157 626h3v3h-3zM1158 633h3v3h-3zM1158 625h3v3h-3zM1159 631h3v3h-3zM1159 622h3v3h-3zM1160 629h3v3h-3zM1160 626h3v3h-3zM1160 630h3v3h-3zM1161 628h3v3h-3zM1161 634h3v3h-3zM1162 635h3v3h-3zM1162 624h3v3h-3zM1163 628h3v3h-3zM1163 622h3v3h-3zM1164 620h3v3h-3zM1164 627h3v3h-3zM1165 631h3v3h-3zM1165 632h3v3h-3zM1165 630h3v3h-3zM1166 634h3v3h-3zM1166 627h3v3h-3zM1167 629h3v3h-3zM1167 631h3v3h-3zM1168 627h3v3h-3zM1168 637h3v3h-3zM1169 636h3v3h-3zM1169 634h3v3h-3zM1170 638h3v3h-3zM1170 632h3v3h-3zM1171 637h3v3h-3zM1171 632h3v3h-3zM1171 637h3v3h-3zM1172 637h3v3h-3zM1172 642h3v3h-3zM1173 638h3v3h-3zM1173 643h3v3h-3zM1174 638h3v3h-3zM1174 633h3v3h-3zM1175 646h3v3h-3zM1175 639h3v3h-3zM1176 638h3v3h-3zM1176 643h3v3h-3zM1176 637h3v3h-3zM1177 639h3v3h-3zM1177 642h3v3h-3zM1178 642h3v3h-3zM1178 638h3v3h-3zM1179 640h3v3h-3zM1179 640h3v3h-3zM1180 642h3v3h-3zM1180 639h3v3h-3zM1181 634h3v3h-3zM1181 639h3v3h-3zM1182 644h3v3h-3zM1182 639h3v3h-3zM1182 641h3v3h-3zM1183 645h3v3h-3zM1183 642h3v3h-3zM1184 640h3v3h-3zM1184 642h3v3h-3zM1185 643h3v3h-3zM1185 641h3v3h-3zM1186 643h3v3h-3zM1186 640h3v3h-3zM1187 639h3v3h-3zM1187 640h3v3h-3zM1187 644h3v3h-3zM1188 646h3v3h-3zM1188 644h3v3h-3zM1189 649h3v3h-3zM1189 648h3v3h-3zM1190 647h3v3h-3zM1190 651h3v3h-3zM1191 653h3v3h-3zM1191 652h3v3h-3zM1192 648h3v3h-3zM1192 653h3v3h-3zM1193 653h3v3h-3zM1193 651h3v3h-3zM1193 648h3v3h-3zM1194 648h3v3h-3zM1194 648h3v3h-3zM1195 642h3v3h-3zM1195 653h3v3h-3zM1196 648h3v3h-3zM1196 652h3v3h-3zM1197 646h3v3h-3zM1197 643h3v3h-3zM1198 647h3v3h-3zM1198 646h3v3h-3zM1198 648h3v3h-3zM1199 644h3v3h-3zM1199 643h3v3h-3zM1200 645h3v3h-3zM1200 640h3v3h-3zM1201 640h3v3h-3zM1201 638h3v3h-3zM1202 643h3v3h-3zM1202 646h3v3h-3zM1203 640h3v3h-3zM1203 642h3v3h-3zM1204 640h3v3h-3zM1204 641h3v3h-3zM1204 643h3v3h-3zM1205 644h3v3h-3zM1205 646h3v3h-3zM1206 639h3v3h-3zM1206 644h3v3h-3zM1207 639h3v3h-3zM1207 637h3v3h-3zM1208 637h3v3h-3zM1208 635h3v3h-3zM1209 639h3v3h-3zM1209 643h3v3h-3zM1209 638h3v3h-3zM1210 645h3v3h-3zM1210 633h3v3h-3zM1211 630h3v3h-3zM1211 637h3v3h-3zM1212 633h3v3h-3zM1212 643h3v3h-3zM1213 638h3v3h-3zM1213 637h3v3h-3zM1214 642h3v3h-3zM1214 634h3v3h-3zM1214 636h3v3h-3zM1215 635h3v3h-3zM1215 633h3v3h-3zM1216 634h3v3h-3zM1216 633h3v3h-3zM1217 639h3v3h-3zM1217 636h3v3h-3zM1218 638h3v3h-3zM1218 637h3v3h-3zM1219 644h3v3h-3zM1219 638h3v3h-3zM1220 640h3v3h-3zM1220 636h3v3h-3zM1220 643h3v3h-3zM1221 640h3v3h-3zM1221 638h3v3h-3zM1222 636h3v3h-3zM1222 641h3v3h-3zM1223 645h3v3h-3zM1223 642h3v3h-3zM1224 633h3v3h-3zM1224 639h3v3h-3zM1225 634h3v3h-3zM1225 631h3v3h-3zM1225 633h3v3h-3zM1226 640h3v3h-3zM1226 635h3v3h-3zM1227 632h3v3h-3zM1227 637h3v3h-3zM1228 636h3v3h-3zM1228 635h3v3h-3zM1229 636h3v3h-3zM1229 633h3v3h-3zM1230 638h3v3h-3zM1230 636h3v3h-3zM1231 634h3v3h-3zM1231 636h3v3h-3zM1231 637h3v3h-3zM1232 633h3v3h-3zM1232 636h3v3h-3zM1233 634h3v3h-3zM1233 632h3v3h-3zM1234 628h3v3h-3zM1234 630h3v3h-3zM1235 631h3v3h-3zM1235 635h3v3h-3zM1236 642h3v3h-3zM1236 632h3v3h-3zM1236 633h3v3h-3zM1237 630h3v3h-3zM1237 633h3v3h-3zM1238 635h3v3h-3zM1238 638h3v3h-3zM1239 633h3v3h-3zM1239 638h3v3h-3zM1240 638h3v3h-3zM1240 635h3v3h-3zM1241 632h3v3h-3zM1241 634h3v3h-3zM1242 636h3v3h-3zM1242 638h3v3h-3zM1242 635h3v3h-3zM1243 634h3v3h-3zM1243 639h3v3h-3zM1244 635h3v3h-3zM1244 642h3v3h-3zM1245 648h3v3h-3zM1245 638h3v3h-3zM1246 643h3v3h-3zM1246 638h3v3h-3zM1247 640h3v3h-3zM1247 642h3v3h-3zM1247 644h3v3h-3zM1248 640h3v3h-3zM1248 643h3v3h-3zM1249 642h3v3h-3zM1249 639h3v3h-3zM1250 639h3v3h-3zM1250 638h3v3h-3zM1251 638h3v3h-3zM1251 644h3v3h-3zM1252 638h3v3h-3zM1252 642h3v3h-3zM1253 639h3v3h-3zM1253 644h3v3h-3zM1253 637h3v3h-3zM1254 640h3v3h-3zM1254 639h3v3h-3zM1255 628h3v3h-3zM1255 640h3v3h-3zM1256 642h3v3h-3zM1256 643h3v3h-3zM1257 635h3v3h-3zM1257 638h3v3h-3zM1258 648h3v3h-3zM1258 635h3v3h-3zM1258 636h3v3h-3zM1259 640h3v3h-3zM1259 640h3v3h-3zM1260 641h3v3h-3zM1260 641h3v3h-3zM1261 639h3v3h-3zM1261 635h3v3h-3zM1262 638h3v3h-3zM1262 639h3v3h-3zM1263 641h3v3h-3zM1263 641h3v3h-3zM1264 642h3v3h-3zM1264 637h3v3h-3zM1264 638h3v3h-3zM1265 636h3v3h-3zM1265 646h3v3h-3zM1266 638h3v3h-3zM1266 641h3v3h-3zM1267 642h3v3h-3zM1267 640h3v3h-3zM1268 638h3v3h-3zM1268 637h3v3h-3zM1269 636h3v3h-3zM1269 631h3v3h-3zM1269 635h3v3h-3zM1270 638h3v3h-3zM1270 637h3v3h-3zM1271 638h3v3h-3zM1271 638h3v3h-3zM1272 637h3v3h-3zM1272 635h3v3h-3zM1273 634h3v3h-3zM1273 637h3v3h-3zM1274 633h3v3h-3zM1274 630h3v3h-3zM1275 639h3v3h-3zM1275 637h3v3h-3zM1275 641h3v3h-3zM1276 637h3v3h-3zM1276 635h3v3h-3zM1277 649h3v3h-3zM1277 640h3v3h-3zM1278 639h3v3h-3zM1278 646h3v3h-3zM1279 642h3v3h-3zM1279 638h3v3h-3zM1280 636h3v3h-3zM1280 640h3v3h-3zM1280 643h3v3h-3zM1281 643h3v3h-3zM1281 647h3v3h-3zM1282 644h3v3h-3zM1282 646h3v3h-3zM1283 639h3v3h-3zM1283 648h3v3h-3zM1284 642h3v3h-3zM1284 648h3v3h-3zM1285 640h3v3h-3zM1285 642h3v3h-3zM1286 648h3v3h-3zM1286 641h3v3h-3zM1286 646h3v3h-3zM1287 644h3v3h-3zM1287 652h3v3h-3zM1288 653h3v3h-3zM1288 652h3v3h-3zM1289 648h3v3h-3zM1289 644h3v3h-3zM1290 656h3v3h-3zM1290 648h3v3h-3zM1291 650h3v3h-3zM1291 649h3v3h-3zM1291 644h3v3h-3zM1292 651h3v3h-3zM1292 647h3v3h-3zM1293 644h3v3h-3zM1293 645h3v3h-3zM1294 644h3v3h-3zM1294 651h3v3h-3zM1295 652h3v3h-3zM1295 650h3v3h-3zM1296 653h3v3h-3zM1296 652h3v3h-3zM1297 657h3v3h-3zM1297 655h3v3h-3zM1297 655h3v3h-3zM1298 653h3v3h-3zM1298 654h3v3h-3zM1299 655h3v3h-3zM1299 658h3v3h-3zM1300 657h3v3h-3zM1300 663h3v3h-3zM1301 659h3v3h-3zM1301 654h3v3h-3zM1302 661h3v3h-3zM1302 663h3v3h-3zM1302 656h3v3h-3zM1303 663h3v3h-3zM1303 657h3v3h-3zM1304 663h3v3h-3zM1304 668h3v3h-3zM1305 660h3v3h-3zM1305 657h3v3h-3zM1306 661h3v3h-3zM1306 659h3v3h-3zM1307 663h3v3h-3zM1307 659h3v3h-3zM1307 664h3v3h-3zM1308 662h3v3h-3zM1308 665h3v3h-3zM1309 665h3v3h-3zM1309 664h3v3h-3zM1310 671h3v3h-3zM1310 666h3v3h-3zM1311 659h3v3h-3zM1311 664h3v3h-3zM1312 665h3v3h-3zM1312 668h3v3h-3zM1313 664h3v3h-3zM1313 667h3v3h-3zM1313 659h3v3h-3zM1314 668h3v3h-3zM1314 666h3v3h-3zM1315 666h3v3h-3zM1315 671h3v3h-3zM1316 663h3v3h-3zM1316 663h3v3h-3zM1317 663h3v3h-3zM1317 662h3v3h-3zM1318 661h3v3h-3zM1318 665h3v3h-3zM1318 664h3v3h-3zM1319 661h3v3h-3zM1319 662h3v3h-3zM1320 666h3v3h-3zM1320 667h3v3h-3zM1321 665h3v3h-3zM1321 663h3v3h-3zM1322 658h3v3h-3zM1322 661h3v3h-3zM1323 660h3v3h-3zM1323 658h3v3h-3zM1324 663h3v3h-3zM1324 657h3v3h-3zM1324 662h3v3h-3zM1325 658h3v3h-3zM1325 659h3v3h-3zM1326 658h3v3h-3zM1326 654h3v3h-3zM1327 656h3v3h-3zM1327 661h3v3h-3zM1328 660h3v3h-3zM1328 658h3v3h-3zM1329 660h3v3h-3zM1329 659h3v3h-3zM1329 658h3v3h-3zM1330 663h3v3h-3zM1330 657h3v3h-3zM1331 649h3v3h-3zM1331 648h3v3h-3zM1332 651h3v3h-3zM1332 655h3v3h-3zM1333 657h3v3h-3zM1333 653h3v3h-3zM1334 660h3v3h-3zM1334 654h3v3h-3zM1335 650h3v3h-3zM1335 654h3v3h-3zM1335 655h3v3h-3zM1336 653h3v3h-3zM1336 653h3v3h-3zM1337 657h3v3h-3zM1337 659h3v3h-3zM1338 651h3v3h-3zM1338 648h3v3h-3zM1339 652h3v3h-3zM1339 652h3v3h-3zM1340 654h3v3h-3zM1340 651h3v3h-3zM1340 651h3v3h-3zM1341 656h3v3h-3zM1341 657h3v3h-3zM1342 654h3v3h-3zM1342 650h3v3h-3zM1343 650h3v3h-3zM1343 655h3v3h-3zM1344 650h3v3h-3zM1344 653h3v3h-3zM1345 654h3v3h-3zM1345 654h3v3h-3zM1346 656h3v3h-3zM1346 652h3v3h-3zM1346 653h3v3h-3zM1347 657h3v3h-3zM1347 657h3v3h-3zM1348 652h3v3h-3zM1348 661h3v3h-3zM1349 653h3v3h-3zM1349 658h3v3h-3zM1350 650h3v3h-3zM1350 658h3v3h-3zM1351 649h3v3h-3zM1351 653h3v3h-3zM1351 657h3v3h-3zM1352 659h3v3h-3zM1352 654h3v3h-3zM1353 659h3v3h-3zM1353 660h3v3h-3zM1354 660h3v3h-3zM1354 657h3v3h-3zM1355 663h3v3h-3zM1355 654h3v3h-3zM1356 656h3v3h-3zM1356 657h3v3h-3zM1357 665h3v3h-3zM1357 658h3v3h-3zM1357 659h3v3h-3zM1358 660h3v3h-3zM1358 662h3v3h-3zM1359 665h3v3h-3zM1359 665h3v3h-3zM1360 663h3v3h-3zM1360 670h3v3h-3zM1361 668h3v3h-3zM1361 671h3v3h-3zM1362 667h3v3h-3zM1362 665h3v3h-3zM1362 660h3v3h-3zM1363 664h3v3h-3zM1363 665h3v3h-3zM1364 668h3v3h-3zM1364 663h3v3h-3zM1365 662h3v3h-3zM1365 661h3v3h-3zM1366 660h3v3h-3zM1366 658h3v3h-3zM1367 654h3v3h-3zM1367 647h3v3h-3zM1368 657h3v3h-3zM1368 654h3v3h-3zM1368 650h3v3h-3zM1369 648h3v3h-3zM1369 647h3v3h-3zM1370 655h3v3h-3zM1370 651h3v3h-3zM1371 652h3v3h-3zM1371 655h3v3h-3zM1372 649h3v3h-3zM1372 652h3v3h-3zM1373 649h3v3h-3zM1373 648h3v3h-3zM1373 648h3v3h-3zM1374 648h3v3h-3zM1374 653h3v3h-3zM1375 648h3v3h-3zM1375 650h3v3h-3zM1376 649h3v3h-3zM1376 655h3v3h-3zM1377 653h3v3h-3zM1377 647h3v3h-3zM1378 648h3v3h-3zM1378 652h3v3h-3zM1379 650h3v3h-3zM1379 649h3v3h-3zM1379 652h3v3h-3zM1380 651h3v3h-3zM1380 649h3v3h-3zM1381 658h3v3h-3zM1381 650h3v3h-3zM1382 645h3v3h-3zM1382 649h3v3h-3zM1383 649h3v3h-3zM1383 652h3v3h-3zM1384 651h3v3h-3zM1384 645h3v3h-3zM1384 648h3v3h-3zM1385 643h3v3h-3zM1385 645h3v3h-3zM1386 648h3v3h-3zM1386 644h3v3h-3zM1387 640h3v3h-3zM1387 642h3v3h-3zM1388 642h3v3h-3zM1388 647h3v3h-3zM1389 644h3v3h-3zM1389 644h3v3h-3zM1390 640h3v3h-3zM1390 643h3v3h-3zM1390 641h3v3h-3zM1391 645h3v3h-3zM1391 643h3v3h-3zM1392 647h3v3h-3zM1392 645h3v3h-3zM1393 642h3v3h-3zM1393 640h3v3h-3zM1394 643h3v3h-3zM1394 644h3v3h-3zM1395 645h3v3h-3zM1395 638h3v3h-3zM1395 637h3v3h-3zM1396 635h3v3h-3zM1396 637h3v3h-3zM1397 638h3v3h-3zM1397 637h3v3h-3zM1398 636h3v3h-3zM1398 637h3v3h-3zM1399 638h3v3h-3zM1399 630h3v3h-3zM1400 634h3v3h-3zM1400 633h3v3h-3zM1401 631h3v3h-3zM1401 629h3v3h-3zM1401 625h3v3h-3zM1402 631h3v3h-3zM1402 627h3v3h-3zM1403 627h3v3h-3zM1403 628h3v3h-3zM1404 627h3v3h-3zM1404 627h3v3h-3zM1405 626h3v3h-3zM1405 622h3v3h-3zM1406 625h3v3h-3zM1406 625h3v3h-3zM1406 620h3v3h-3zM1407 628h3v3h-3zM1407 619h3v3h-3zM1408 623h3v3h-3zM1408 622h3v3h-3zM1409 622h3v3h-3zM1409 619h3v3h-3zM1410 622h3v3h-3zM1410 627h3v3h-3zM1411 619h3v3h-3zM1411 613h3v3h-3zM1411 621h3v3h-3zM1412 628h3v3h-3zM1412 621h3v3h-3zM1413 616h3v3h-3zM1413 619h3v3h-3zM1414 620h3v3h-3zM1414 616h3v3h-3zM1415 618h3v3h-3zM1415 620h3v3h-3zM1416 621h3v3h-3zM1416 619h3v3h-3zM1417 621h3v3h-3zM1417 626h3v3h-3zM1417 626h3v3h-3zM1418 617h3v3h-3zM1418 627h3v3h-3zM1419 619h3v3h-3zM1419 623h3v3h-3zM1420 616h3v3h-3zM1420 619h3v3h-3z"/>
<path fill="none" stroke="#000" stroke-width="1" shape-rendering="crispEdges" d="M159 454l6 6m-6 0l6-6M160 465l6 6m-6 0l6-6M160 460l6 6m-6 0l6-6M161 453l6 6m-6 0l6-6M161 452l6 6m-6 0l6-6M162 457l6 6m-6 0l6-6M162 451l6 6m-6 0l6-6M163 461l6 6m-6 0l6-6M163 453l6 6m-6 0l6-6M163 458l6 6m-6 0l6-6M164 463l6 6m-6 0l6-6M164 454l6 6m-6 0l6-6M165 457l6 6m-6 0l6-6M165 456l6 6m-6 0l6-6M166 461l6 6m-6 0l6-6M166 462l6 6m-6 0l6-6M167 449l6 6m-6 0l6-6M167 458l6 6m-6 0l6-6M168 457l6 6m-6 0l6-6M168 454l6 6m-6 0l6-6M168 455l6 6m-6 0l6-6M169 449l6 6m-6 0l6-6M169 450l6 6m-6 0l6-6M170 451l6 6m-6 0l6-6M170 447l6 6m-6 0l6-6M171 454l6 6m-6 0l6-6M171 452l6 6m-6 0l6-6M172 456l6 6m-6 0l6-6M172 447l6 6m-6 0l6-6M173 458l6 6m-6 0l6-6M173 454l6 6m-6 0l6-6M174 455l6 6m-6 0l6-6M174 453l6 6m-6 0l6-6M174 452l6 6m-6 0l6-6M175 447l6 6m-6 0l6-6M175 445l6 6m-6 0l6-6M176 454l6 6m-6 0l6-6M176 440l6 6m-6 0l6-6M177 451l6 6m-6 0l6-6M177 449l6 6m-6 0l6-6M178 448l6 6m-6 0l6-6M178 452l6 6m-6 0l6-6M179 448l6 6m-6 0l6-6M179 448l6 6m-6 0l6-6M179 450l6 6m-6 0l6-6M180 446l6 6m-6 0l6-6M180 455l6 6m-6 0l6-6M181 453l6 6m-6 0l6-6M181 450l6 6m-6 0l6-6M182 454l6 6m-6 0l6-6M182 450l6 6m-6 0l6-6M183 455l6 6m-6 0l6-6M183 455l6 6m-6 0l6-6M184 449l6 6m-6 0l6-6M184 456l6 6m-6 0l6-6M184 456l6 6m-6 0l6-6M185 451l6 6m-6 0l6-6M185 449l6 6m-6 0l6-6M186 455l6 6m-6 0l6-6M186 452l6 6m-6 0l6-6M187 449l6 6m-6 0l6-6M187 454l6 6m-6 0l6-6M188 450l6 6m-6 0l6-6M188 454l6 6m-6 0l6-6M189 457l6 6m-6 0l6-6M189 453l6 6m-6 0l6-6M190 453l6 6m-6 0l6-6M190 447l6 6m-6 0l6-6M190 458l6 6m-6 0l6-6M191 452l6 6m-6 0l6-6M191 460l6 6m-6 0l6-6M192 452l6 6m-6 0l6-6M192 456l6 6m-6 0l6-6M193 453l6 6m-6 0l6-6M193 459l6 6m-6 0l6-6M194 452l6 6m-6 0l6-6M194 459l6 6m-6 0l6-6M195 465l6 6m-6 0l6-6M195 462l6 6m-6 0l6-6M195 456l6 6m-6 0l6-6M196 465l6 6m-6 0l6-6M196 457l6 6m-6 0l6-6M197 460l6 6m-6 0l6-6M197 460l6 6m-6 0l6-6M198 459l6 6m-6 0l6-6M198 461l6 6m-6 0l6-6M199 453l6 6m-6 0l6-6M199 468l6 6m-6 0l6-6M200 465l6 6m-6 0l6-6M200 462l6 6m-6 0l6-6M201 469l6 6m-6 0l6-6M201 474l6 6m-6 0l6-6M201 465l6 6m-6 0l6-6M202 471l6 6m-6 0l6-6M202 468l6 6m-6 0l6-6M203 469l6 6m-6 0l6-6M203 466l6 6m-6 0l6-6M204 468l6 6m-6 0l6-6M204 470l6 6m-6 0l6-6M205 464l6 6m-6 0l6-6M205 467l6 6m-6 0l6-6M206 467l6 6m-6 0l6-6M206 467l6 6m-6 0l6-6M206 464l6 6m-6 0l6-6M207 470l6 6m-6 0l6-6M207 466l6 6m-6 0l6-6M208 472l6 6m-6 0l6-6M208 472l6 6m-6 0l6-6M209 474l6 6m-6 0l6-6M209 474l6 6m-6 0l6-6M210 472l6 6m-6 0l6-6M210 471l6 6m-6 0l6-6M211 477l6 6m-6 0l6-6M211 474l6 6m-6 0l6-6M212 472l6 6m-6 0l6-6M212 481l6 6m-6 0l6-6M212 471l6 6m-6 0l6-6M213 480l6 6m-6 0l6-6M213 481l6 6m-6 0l6-6M214 474l6 6m-6 0l6-6M214 474l6 6m-6 0l6-6M215 479l6 6m-6 0l6-6M215 475l6 6m-6 0l6-6M216 472l6 6m-6 0l6-6M216 483l6 6m-6 0l6-6M217 485l6 6m-6 0l6-6M217 474l6 6m-6 0l6-6M217 482l6 6m-6 0l6-6M218 480l6 6m-6 0l6-6M218 478l6 6m-6 0l6-6M219 481l6 6m-6 0l6-6M219 476l6 6m-6 0l6-6M220 479l6 6m-6 0l6-6M220 482l6 6m-6 0l6-6M221 482l6 6m-6 0l6-6M221 470l6 6m-6 0l6-6M222 485l6 6m-6 0l6-6M222 484l6 6m-6 0l6-6M223 486l6 6m-6 0l6-6M223 482l6 6m-6 0l6-6M223 477l6 6m-6 0l6-6M224 486l6 6m-6 0l6-6M224 483l6 6m-6 0l6-6M225 484l6 6m-6 0l6-6M225 485l6 6m-6 0l6-6M226 480l6 6m-6 0l6-6M226 479l6 6m-6 0l6-6M227 483l6 6m-6 0l6-6M227 484l6 6m-6 0l6-6M228 482l6 6m-6 0l6-6M228 481l6 6m-6 0l6-6M228 486l6 6m-6 0l6-6M229 476l6 6m-6 0l6-6M229 483l6 6m-6 0l6-6M230 475l6 6m-6 0l6-6M230 490l6 6m-6 0l6-6M231 476l6 6m-6 0l6-6M231 493l6 6m-6 0l6-6M232 487l6 6m-6 0l6-6M232 486l6 6m-6 0l6-6M233 491l6 6m-6 0l6-6M233 478l6 6m-6 0l6-6M234 476l6 6m-6 0l6-6M234 486l6 6m-6 0l6-6M234 476l6 6m-6 0l6-6M235 481l6 6m-6 0l6-6M235 485l6 6m-6 0l6-6M236 480l6 6m-6 0l6-6M236 491l6 6m-6 0l6-6M237 481l6 6m-6 0l6-6M237 482l6 6m-6 0l6-6M238 487l6 6m-6 0l6-6M238 483l6 6m-6 0l6-6M239 486l6 6m-6 0l6-6M239 488l6 6m-6 0l6-6M239 487l6 6m-6 0l6-6M240 490l6 6m-6 0l6-6M240 490l6 6m-6 0l6-6M241 492l6 6m-6 0l6-6M241 492l6 6m-6 0l6-6M242 492l6 6m-6 0l6-6M242 493l6 6m-6 0l6-6M243 494l6 6m-6 0l6-6M243 493l6 6m-6 0l6-6M244 497l6 6m-6 0l6-6M244 489l6 6m-6 0l6-6M245 497l6 6m-6 0l6-6M245 496l6 6m-6 0l6-6M245 497l6 6m-6 0l6-6M246 490l6 6m-6 0l6-6M246 493l6 6m-6 0l6-6M247 494l6 6m-6 0l6-6M247 492l6 6m-6 0l6-6M248 496l6 6m-6 0l6-6M248 489l6 6m-6 0l6-6M249 483l6 6m-6 0l6-6M249 498l6 6m-6 0l6-6M250 498l6 6m-6 0l6-6M250 489l6 6m-6 0l6-6M250 496l6 6m-6 0l6-6M251 494l6 6m-6 0l6-6M251 496l6 6m-6 0l6-6M252 494l6 6m-6 0l6-6M252 496l6 6m-6 0l6-6M253 492l6 6m-6 0l6-6M253 495l6 6m-6 0l6-6M254 496l6 6m-6 0l6-6M254 501l6 6m-6 0l6-6M255 492l6 6m-6 0l6-6M255 500l6 6m-6 0l6-6M256 503l6 6m-6 0l6-6M256 489l6 6m-6 0l6-6M256 501l6 6m-6 0l6-6M257 500l6 6m-6 0l6-6M257 499l6 6m-6 0l6-6M258 500l6 6m-6 0l6-6M258 496l6 6m-6 0l6-6M259 502l6 6m-6 0l6-6M259 498l6 6m-6 0l6-6M260 489l6 6m-6 0l6-6M260 499l6 6m-6 0l6-6M261 490l6 6m-6 0l6-6M261 489l6 6m-6 0l6-6M261 495l6 6m-6 0l6-6M262 490l6 6m-6 0l6-6M262 491l6 6m-6 0l6-6M263 490l6 6m-6 0l6-6M263 488l6 6m-6 0l6-6M264 489l6 6m-6 0l6-6M264 480l6 6m-6 0l6-6M265 491l6 6m-6 0l6-6M265 486l6 6m-6 0l6-6M266 481l6 6m-6 0l6-6M266 481l6 6m-6 0l6-6M267 489l6 6m-6 0l6-6M267 478l6 6m-6 0l6-6M267 472l6 6m-6 0l6-6M268 486l6 6m-6 0l6-6M268 481l6 6m-6 0l6-6M269 479l6 6m-6 0l6-6M269 484l6 6m-6 0l6-6M270 479l6 6m-6 0l6-6M270 479l6 6m-6 0l6-6M271 478l6 6m-6 0l6-6M271 478l6 6m-6 0l6-6M272 471l6 6m-6 0l6-6M272 474l6 6m-6 0l6-6M272 474l6 6m-6 0l6-6M273 469l6 6m-6 0l6-6M273 468l6 6m-6 0l6-6M274 472l6 6m-6 0l6-6M274 477l6 6m-6 0l6-6M275 470l6 6m-6 0l6-6M275 475l6 6m-6 0l6-6M276 474l6 6m-6 0l6-6M276 475l6 6m-6 0l6-6M277 469l6 6m-6 0l6-6M277 462l6 6m-6 0l6-6M277 461l6 6m-6 0l6-6M278 463l6 6m-6 0l6-6M278 466l6 6m-6 0l6-6M279 464l6 6m-6 0l6-6M279 463l6 6m-6 0l6-6M280 465l6 6m-6 0l6-6M280 468l6 6m-6 0l6-6M281 462l6 6m-6 0l6-6M281 467l6 6m-6 0l6-6M282 467l6 6m-6 0l6-6M282 457l6 6m-6 0l6-6M283 464l6 6m-6 0l6-6M283 464l6 6m-6 0l6-6M283 468l6 6m-6 0l6-6M284 466l6 6m-6 0l6-6M284 457l6 6m-6 0l6-6M285 473l6 6m-6 0l6-6M285 464l6 6m-6 0l6-6M286 466l6 6m-6 0l6-6M286 466l6 6m-6 0l6-6M287 459l6 6m-6 0l6-6M287 462l6 6m-6 0l6-6M288 459l6 6m-6 0l6-6M288 468l6 6m-6 0l6-6M288 452l6 6m-6 0l6-6M289 463l6 6m-6 0l6-6M289 460l6 6m-6 0l6-6M290 457l6 6m-6 0l6-6M290 454l6 6m-6 0l6-6M291 457l6 6m-6 0l6-6M291 459l6 6m-6 0l6-6M292 452l6 6m-6 0l6-6M292 457l6 6m-6 0l6-6M293 459l6 6m-6 0l6-6M293 460l6 6m-6 0l6-6M294 457l6 6m-6 0l6-6M294 460l6 6m-6 0l6-6M294 460l6 6m-6 0l6-6M295 449l6 6m-6 0l6-6M295 453l6 6m-6 0l6-6M296 451l6 6m-6 0l6-6M296 454l6 6m-6 0l6-6M297 460l6 6m-6 0l6-6M297 459l6 6m-6 0l6-6M298 460l6 6m-6 0l6-6M298 455l6 6m-6 0l6-6M299 462l6 6m-6 0l6-6M299 452l6 6m-6 0l6-6M299 452l6 6m-6 0l6-6M300 460l6 6m-6 0l6-6M300 457l6 6m-6 0l6-6M301 470l6 6m-6 0l6-6M301 458l6 6m-6 0l6-6M302 458l6 6m-6 0l6-6M302 451l6 6m-6 0l6-6M303 451l6 6m-6 0l6-6M303 447l6 6m-6 0l6-6M304 453l6 6m-6 0l6-6M304 454l6 6m-6 0l6-6M305 451l6 6m-6 0l6-6M305 453l6 6m-6 0l6-6M305 455l6 6m-6 0l6-6M306 457l6 6m-6 0l6-6M306 452l6 6m-6 0l6-6M307 452l6 6m-6 0l6-6M307 455l6 6m-6 0l6-6M308 457l6 6m-6 0l6-6M308 464l6 6m-6 0l6-6M309 462l6 6m-6 0l6-6M309 450l6 6m-6 0l6-6M310 453l6 6m-6 0l6-6M310 457l6 6m-6 0l6-6M310 452l6 6m-6 0l6-6M311 465l6 6m-6 0l6-6M311 460l6 6m-6 0l6-6M312 460l6 6m-6 0l6-6M312 466l6 6m-6 0l6-6M313 467l6 6m-6 0l6-6M313 466l6 6m-6 0l6-6M314 469l6 6m-6 0l6-6M314 479l6 6m-6 0l6-6M315 468l6 6m-6 0l6-6M315 472l6 6m-6 0l6-6M316 464l6 6m-6 0l6-6M316 467l6 6m-6 0l6-6M316 478l6 6m-6 0l6-6M317 471l6 6m-6 0l6-6M317 471l6 6m-6 0l6-6M318 479l6 6m-6 0l6-6M318 473l6 6m-6 0l6-6M319 479l6 6m-6 0l6-6M319 482l6 6m-6 0l6-6M320 483l6 6m-6 0l6-6M320 475l6 6m-6 0l6-6M321 478l6 6m-6 0l6-6M321 474l6 6m-6 0l6-6M321 484l6 6m-6 0l6-6M322 480l6 6m-6 0l6-6M322 490l6 6m-6 0l6-6M323 477l6 6m-6 0l6-6M323 479l6 6m-6 0l6-6M324 467l6 6m-6 0l6-6M324 477l6 6m-6 0l6-6M325 477l6 6m-6 0l6-6M325 482l6 6m-6 0l6-6M326 484l6 6m-6 0l6-6M326 477l6 6m-6 0l6-6M327 479l6 6m-6 0l6-6M327 483l6 6m-6 0l6-6M327 478l6 6m-6 0l6-6M328 483l6 6m-6 0l6-6M328 486l6 6m-6 0l6-6M329 478l6 6m-6 0l6-6M329 484l6 6m-6 0l6-6M330 489l6 6m-6 0l6-6M330 484l6 6m-6 0l6-6M331 490l6 6m-6 0l6-6M331 483l6 6m-6 0l6-6M332 490l6 6m-6 0l6-6M332 486l6 6m-6 0l6-6M332 489l6 6m-6 0l6-6M333 484l6 6m-6 0l6-6M333 493l6 6m-6 0l6-6M334 486l6 6m-6 0l6-6M334 495l6 6m-6 0l6-6M335 491l6 6m-6 0l6-6M335 492l6 6m-6 0l6-6M336 496l6 6m-6 0l6-6M336 486l6 6m-6 0l6-6M337 493l6 6m-6 0l6-6M337 498l6 6m-6 0l6-6M338 495l6 6m-6 0l6-6M338 500l6 6m-6 0l6-6M338 499l6 6m-6 0l6-6M339 507l6 6m-6 0l6-6M339 498l6 6m-6 0l6-6M340 507l6 6m-6 0l6-6M340 507l6 6m-6 0l6-6M341 505l6 6m-6 0l6-6M341 501l6 6m-6 0l6-6M342 505l6 6m-6 0l6-6M342 501l6 6m-6 0l6-6M343 504l6 6m-6 0l6-6M343 506l6 6m-6 0l6-6M343 510l6 6m-6 0l6-6M344 502l6 6m-6 0l6-6M344 509l6 6m-6 0l6-6M345 505l6 6m-6 0l6-6M345 511l6 6m-6 0l6-6M346 511l6 6m-6 0l6-6M346 505l6 6m-6 0l6-6M347 510l6 6m-6 0l6-6M347 507l6 6m-6 0l6-6M348 506l6 6m-6 0l6-6M348 509l6 6m-6 0l6-6M349 509l6 6m-6 0l6-6M349 506l6 6m-6 0l6-6M349 505l6 6m-6 0l6-6M350 511l6 6m-6 0l6-6M350 503l6 6m-6 0l6-6M351 511l6 6m-6 0l6-6M351 513l6 6m-6 0l6-6M352 508l6 6m-6 0l6-6M352 514l6 6m-6 0l6-6M353 517l6 6m-6 0l6-6M353 514l6 6m-6 0l6-6M354 524l6 6m-6 0l6-6M354 513l6 6m-6 0l6-6M354 512l6 6m-6 0l6-6M355 511l6 6m-6 0l6-6M355 507l6 6m-6 0l6-6M356 510l6 6m-6 0l6-6M356 514l6 6m-6 0l6-6M357 514l6 6m-6 0l6-6M357 518l6 6m-6 0l6-6M358 523l6 6m-6 0l6-6M358 515l6 6m-6 0l6-6M359 516l6 6m-6 0l6-6M359 520l6 6m-6 0l6-6M360 514l6 6m-6 0l6-6M360 517l6 6m-6 0l6-6M360 522l6 6m-6 0l6-6M361 524l6 6m-6 0l6-6M361 531l6 6m-6 0l6-6M362 519l6 6m-6 0l6-6M362 526l6 6m-6 0l6-6M363 529l6 6m-6 0l6-6M363 523l6 6m-6 0l6-6M364 526l6 6m-6 0l6-6M364 524l6 6m-6 0l6-6M365 527l6 6m-6 0l6-6M365 526l6 6m-6 0l6-6M365 531l6 6m-6 0l6-6M366 527l6 6m-6 0l6-6M366 536l6 6m-6 0l6-6M367 535l6 6m-6 0l6-6M367 531l6 6m-6 0l6-6M368 542l6 6m-6 0l6-6M368 535l6 6m-6 0l6-6M369 526l6 6m-6 0l6-6M369 540l6 6m-6 0l6-6M370 539l6 6m-6 0l6-6M370 539l6 6m-6 0l6-6M370 539l6 6m-6 0l6-6M371 537l6 6m-6 0l6-6M371 534l6 6m-6 0l6-6M372 536l6 6m-6 0l6-6M372 549l6 6m-6 0l6-6M373 538l6 6m-6 0l6-6M373 541l6 6m-6 0l6-6M374 547l6 6m-6 0l6-6M374 540l6 6m-6 0l6-6M375 544l6 6m-6 0l6-6M375 541l6 6m-6 0l6-6M376 539l6 6m-6 0l6-6M376 545l6 6m-6 0l6-6M376 545l6 6m-6 0l6-6M377 541l6 6m-6 0l6-6M377 542l6 6m-6 0l6-6M378 546l6 6m-6 0l6-6M378 545l6 6m-6 0l6-6M379 551l6 6m-6 0l6-6M379 547l6 6m-6 0l6-6M380 547l6 6m-6 0l6-6M380 550l6 6m-6 0l6-6M381 540l6 6m-6 0l6-6M381 550l6 6m-6 0l6-6M381 545l6 6m-6 0l6-6M382 549l6 6m-6 0l6-6M382 550l6 6m-6 0l6-6M383 546l6 6m-6 0l6-6M383 551l6 6m-6 0l6-6M384 556l6 6m-6 0l6-6M384 554l6 6m-6 0l6-6M385 552l6 6m-6 0l6-6M385 546l6 6m-6 0l6-6M386 540l6 6m-6 0l6-6M386 544l6 6m-6 0l6-6M387 548l6 6m-6 0l6-6M387 551l6 6m-6 0l6-6M387 551l6 6m-6 0l6-6M388 545l6 6m-6 0l6-6M388 554l6 6m-6 0l6-6M389 547l6 6m-6 0l6-6M389 553l6 6m-6 0l6-6M390 544l6 6m-6 0l6-6M390 544l6 6m-6 0l6-6M391 546l6 6m-6 0l6-6M391 548l6 6m-6 0l6-6M392 543l6 6m-6 0l6-6M392 543l6 6m-6 0l6-6M392 542l6 6m-6 0l6-6M393 544l6 6m-6 0l6-6M393 547l6 6m-6 0l6-6M394 544l6 6m-6 0l6-6M394 541l6 6m-6 0l6-6M395 539l6 6m-6 0l6-6M395 543l6 6m-6 0l6-6M396 544l6 6m-6 0l6-6M396 544l6 6m-6 0l6-6M397 537l6 6m-6 0l6-6M397 533l6 6m-6 0l6-6M398 534l6 6m-6 0l6-6M398 538l6 6m-6 0l6-6M398 533l6 6m-6 0l6-6M399 536l6 6m-6 0l6-6M399 545l6 6m-6 0l6-6M400 538l6 6m-6 0l6-6M400 539l6 6m-6 0l6-6M401 531l6 6m-6 0l6-6M401 538l6 6m-6 0l6-6M402 531l6 6m-6 0l6-6M402 533l6 6m-6 0l6-6M403 534l6 6m-6 0l6-6M403 531l6 6m-6 0l6-6M403 528l6 6m-6 0l6-6M404 530l6 6m-6 0l6-6M404 535l6 6m-6 0l6-6M405 525l6 6m-6 0l6-6M405 524l6 6m-6 0l6-6M406 522l6 6m-6 0l6-6M406 527l6 6m-6 0l6-6M407 524l6 6m-6 0l6-6M407 531l6 6m-6 0l6-6M408 525l6 6m-6 0l6-6M408 529l6 6m-6 0l6-6M409 528l6 6m-6 0l6-6M409 522l6 6m-6 0l6-6M409 525l6 6m-6 0l6-6M410 528l6 6m-6 0l6-6M410 527l6 6m-6 0l6-6M411 524l6 6m-6 0l6-6M411 519l6 6m-6 0l6-6M412 522l6 6m-6 0l6-6M412 525l6 6m-6 0l6-6M413 530l6 6m-6 0l6-6M413 525l6 6m-6 0l6-6M414 532l6 6m-6 0l6-6M414 526l6 6m-6 0l6-6M414 530l6 6m-6 0l6-6M415 534l6 6m-6 0l6-6M415 530l6 6m-6 0l6-6M416 524l6 6m-6 0l6-6M416 536l6 6m-6 0l6-6M417 535l6 6m-6 0l6-6M417 537l6 6m-6 0l6-6M418 523l6 6m-6 0l6-6M418 532l6 6m-6 0l6-6M419 531l6 6m-6 0l6-6M419 529l6 6m-6 0l6-6M420 529l6 6m-6 0l6-6M420 525l6 6m-6 0l6-6M420 524l6 6m-6 0l6-6M421 531l6 6m-6 0l6-6M421 526l6 6m-6 0l6-6M422 528l6 6m-6 0l6-6M422 523l6 6m-6 0l6-6M423 519l6 6m-6 0l6-6M423 521l6 6m-6 0l6-6M424 519l6 6m-6 0l6-6M424 522l6 6m-6 0l6-6M425 528l6 6m-6 0l6-6M425 521l6 6m-6 0l6-6M425 518l6 6m-6 0l6-6M426 529l6 6m-6 0l6-6M426 515l6 6m-6 0l6-6M427 517l6 6m-6 0l6-6M427 516l6 6m-6 0l6-6M428 509l6 6m-6 0l6-6M428 521l6 6m-6 0l6-6M429 520l6 6m-6 0l6-6M429 520l6 6m-6 0l6-6M430 518l6 6m-6 0l6-6M430 517l6 6m-6 0l6-6M431 513l6 6m-6 0l6-6M431 511l6 6m-6 0l6-6M431 517l6 6m-6 0l6-6M432 518l6 6m-6 0l6-6M432 517l6 6m-6 0l6-6M433 509l6 6m-6 0l6-6M433 521l6 6m-6 0l6-6M434 511l6 6m-6 0l6-6M434 514l6 6m-6 0l6-6M435 513l6 6m-6 0l6-6M435 513l6 6m-6 0l6-6M436 506l6 6m-6 0l6-6M436 510l6 6m-6 0l6-6M436 513l6 6m-6 0l6-6M437 520l6 6m-6 0l6-6M437 516l6 6m-6 0l6-6M438 520l6 6m-6 0l6-6M438 513l6 6m-6 0l6-6M439 516l6 6m-6 0l6-6M439 521l6 6m-6 0l6-6M440 525l6 6m-6 0l6-6M440 518l6 6m-6 0l6-6M441 519l6 6m-6 0l6-6M441 519l6 6m-6 0l6-6M442 518l6 6m-6 0l6-6M442 518l6 6m-6 0l6-6M442 523l6 6m-6 0l6-6M443 516l6 6m-6 0l6-6M443 514l6 6m-6 0l6-6M444 521l6 6m-6 0l6-6M444 517l6 6m-6 0l6-6M445 522l6 6m-6 0l6-6M445 515l6 6m-6 0l6-6M446 521l6 6m-6 0l6-6M446 519l6 6m-6 0l6-6M447 519l6 6m-6 0l6-6M447 524l6 6m-6 0l6-6M447 519l6 6m-6 0l6-6M448 511l6 6m-6 0l6-6M448 516l6 6m-6 0l6-6M449 521l6 6m-6 0l6-6M449 528l6 6m-6 0l6-6M450 521l6 6m-6 0l6-6M450 519l6 6m-6 0l6-6M451 520l6 6m-6 0l6-6M451 527l6 6m-6 0l6-6M452 525l6 6m-6 0l6-6M452 525l6 6m-6 0l6-6M453 526l6 6m-6 0l6-6M453 529l6 6m-6 0l6-6M453 518l6 6m-6 0l6-6M454 526l6 6m-6 0l6-6M454 525l6 6m-6 0l6-6M455 517l6 6m-6 0l6-6M455 523l6 6m-6 0l6-6M456 526l6 6m-6 0l6-6M456 521l6 6m-6 0l6-6M457 527l6 6m-6 0l6-6M457 515l6 6m-6 0l6-6M458 519l6 6m-6 0l6-6M458 526l6 6m-6 0l6-6M458 524l6 6m-6 0l6-6M459 526l6 6m-6 0l6-6M459 522l6 6m-6 0l6-6M460 526l6 6m-6 0l6-6M460 517l6 6m-6 0l6-6M461 517l6 6m-6 0l6-6M461 528l6 6m-6 0l6-6M462 524l6 6m-6 0l6-6M462 524l6 6m-6 0l6-6M463 524l6 6m-6 0l6-6M463 531l6 6m-6 0l6-6M463 522l6 6m-6 0l6-6M464 527l6 6m-6 0l6-6M464 531l6 6m-6 0l6-6M465 523l6 6m-6 0l6-6M465 523l6 6m-6 0l6-6M466 524l6 6m-6 0l6-6M466 519l6 6m-6 0l6-6M467 531l6 6m-6 0l6-6M467 531l6 6m-6 0l6-6M468 535l6 6m-6 0l6-6M468 529l6 6m-6 0l6-6M469 532l6 6m-6 0l6-6M469 532l6 6m-6 0l6-6M469 537l6 6m-6 0l6-6M470 533l6 6m-6 0l6-6M470 535l6 6m-6 0l6-6M471 530l6 6m-6 0l6-6M471 535l6 6m-6 0l6-6M472 533l6 6m-6 0l6-6M472 538l6 6m-6 0l6-6M473 536l6 6m-6 0l6-6M473 530l6 6m-6 0l6-6M474 531l6 6m-6 0l6-6M474 536l6 6m-6 0l6-6M474 534l6 6m-6 0l6-6M475 538l6 6m-6 0l6-6M475 543l6 6m-6 0l6-6M476 534l6 6m-6 0l6-6M476 540l6 6m-6 0l6-6M477 535l6 6m-6 0l6-6M477 540l6 6m-6 0l6-6M478 540l6 6m-6 0l6-6M478 538l6 6m-6 0l6-6M479 533l6 6m-6 0l6-6M479 541l6 6m-6 0l6-6M480 538l6 6m-6 0l6-6M480 545l6 6m-6 0l6-6M480 546l6 6m-6 0l6-6M481 549l6 6m-6 0l6-6M481 550l6 6m-6 0l6-6M482 541l6 6m-6 0l6-6M482 545l6 6m-6 0l6-6M483 550l6 6m-6 0l6-6M483 553l6 6m-6 0l6-6M484 554l6 6m-6 0l6-6M484 551l6 6m-6 0l6-6M485 558l6 6m-6 0l6-6M485 553l6 6m-6 0l6-6M485 568l6 6m-6 0l6-6M486 560l6 6m-6 0l6-6M486 562l6 6m-6 0l6-6M487 564l6 6m-6 0l6-6M487 569l6 6m-6 0l6-6M488 575l6 6m-6 0l6-6M488 573l6 6m-6 0l6-6M489 579l6 6m-6 0l6-6M489 576l6 6m-6 0l6-6M490 583l6 6m-6 0l6-6M490 585l6 6m-6 0l6-6M491 588l6 6m-6 0l6-6M491 583l6 6m-6 0l6-6M491 584l6 6m-6 0l6-6M492 589l6 6m-6 0l6-6M492 593l6 6m-6 0l6-6M493 587l6 6m-6 0l6-6M493 592l6 6m-6 0l6-6M494 599l6 6m-6 0l6-6M494 585l6 6m-6 0l6-6M495 587l6 6m-6 0l6-6M495 592l6 6m-6 0l6-6M496 596l6 6m-6 0l6-6M496 590l6 6m-6 0l6-6M496 599l6 6m-6 0l6-6M497 603l6 6m-6 0l6-6M497 594l6 6m-6 0l6-6M498 593l6 6m-6 0l6-6M498 602l6 6m-6 0l6-6M499 591l6 6m-6 0l6-6M499 600l6 6m-6 0l6-6M500 604l6 6m-6 0l6-6M500 600l6 6m-6 0l6-6M501 596l6 6m-6 0l6-6M501 600l6 6m-6 0l6-6M502 598l6 6m-6 0l6-6M502 607l6 6m-6 0l6-6M502 601l6 6m-6 0l6-6M503 599l6 6m-6 0l6-6M503 602l6 6m-6 0l6-6M504 605l6 6m-6 0l6-6M504 603l6 6m-6 0l6-6M505 600l6 6m-6 0l6-6M505 597l6 6m-6 0l6-6M506 600l6 6m-6 0l6-6M506 597l6 6m-6 0l6-6M507 596l6 6m-6 0l6-6M507 602l6 6m-6 0l6-6M507 599l6 6m-6 0l6-6M508 601l6 6m-6 0l6-6M508 604l6 6m-6 0l6-6M509 605l6 6m-6 0l6-6M509 602l6 6m-6 0l6-6M510 598l6 6m-6 0l6-6M510 602l6 6m-6 0l6-6M511 595l6 6m-6 0l6-6M511 605l6 6m-6 0l6-6M512 598l6 6m-6 0l6-6M512 604l6 6m-6 0l6-6M513 596l6 6m-6 0l6-6M513 603l6 6m-6 0l6-6M513 600l6 6m-6 0l6-6M514 598l6 6m-6 0l6-6M514 601l6 6m-6 0l6-6M515 598l6 6m-6 0l6-6M515 595l6 6m-6 0l6-6M516 594l6 6m-6 0l6-6M516 596l6 6m-6 0l6-6M517 596l6 6m-6 0l6-6M517 592l6 6m-6 0l6-6M518 594l6 6m-6 0l6-6M518 597l6 6m-6 0l6-6M518 595l6 6m-6 0l6-6M519 591l6 6m-6 0l6-6M519 603l6 6m-6 0l6-6M520 597l6 6m-6 0l6-6M520 609l6 6m-6 0l6-6M521 602l6 6m-6 0l6-6M521 603l6 6m-6 0l6-6M522 601l6 6m-6 0l6-6M522 604l6 6m-6 0l6-6M523 604l6 6m-6 0l6-6M523 600l6 6m-6 0l6-6M524 602l6 6m-6 0l6-6M524 602l6 6m-6 0l6-6M524 602l6 6m-6 0l6-6M525 604l6 6m-6 0l6-6M525 611l6 6m-6 0l6-6M526 603l6 6m-6 0l6-6M526 619l6 6m-6 0l6-6M527 609l6 6m-6 0l6-6M527 614l6 6m-6 0l6-6M528 612l6 6m-6 0l6-6M528 614l6 6m-6 0l6-6M529 609l6 6m-6 0l6-6M529 611l6 6m-6 0l6-6M529 612l6 6m-6 0l6-6M530 617l6 6m-6 0l6-6M530 618l6 6m-6 0l6-6M531 616l6 6m-6 0l6-6M531 611l6 6m-6 0l6-6M532 612l6 6m-6 0l6-6M532 616l6 6m-6 0l6-6M533 620l6 6m-6 0l6-6M533 622l6 6m-6 0l6-6M534 613l6 6m-6 0l6-6M534 615l6 6m-6 0l6-6M535 612l6 6m-6 0l6-6M535 612l6 6m-6 0l6-6M535 617l6 6m-6 0l6-6M536 618l6 6m-6 0l6-6M536 613l6 6m-6 0l6-6M537 608l6 6m-6 0l6-6M537 622l6 6m-6 0l6-6M538 610l6 6m-6 0l6-6M538 621l6 6m-6 0l6-6M539 623l6 6m-6 0l6-6M539 630l6 6m-6 0l6-6M540 612l6 6m-6 0l6-6M540 617l6 6m-6 0l6-6M540 618l6 6m-6 0l6-6M541 620l6 6m-6 0l6-6M541 617l6 6m-6 0l6-6M542 625l6 6m-6 0l6-6M542 619l6 6m-6 0l6-6M543 622l6 6m-6 0l6-6M543 623l6 6m-6 0l6-6M544 624l6 6m-6 0l6-6M544 622l6 6m-6 0l6-6M545 615l6 6m-6 0l6-6M545 623l6 6m-6 0l6-6M546 619l6 6m-6 0l6-6M546 619l6 6m-6 0l6-6M546 620l6 6m-6 0l6-6M547 621l6 6m-6 0l6-6M547 624l6 6m-6 0l6-6M548 620l6 6m-6 0l6-6M548 616l6 6m-6 0l6-6M549 621l6 6m-6 0l6-6M549 625l6 6m-6 0l6-6M550 625l6 6m-6 0l6-6M550 623l6 6m-6 0l6-6M551 618l6 6m-6 0l6-6M551 624l6 6m-6 0l6-6M551 621l6 6m-6 0l6-6M552 617l6 6m-6 0l6-6M552 614l6 6m-6 0l6-6M553 624l6 6m-6 0l6-6M553 627l6 6m-6 0l6-6M554 632l6 6m-6 0l6-6M554 631l6 6m-6 0l6-6M555 629l6 6m-6 0l6-6M555 627l6 6m-6 0l6-6M556 626l6 6m-6 0l6-6M556 626l6 6m-6 0l6-6M556 619l6 6m-6 0l6-6M557 623l6 6m-6 0l6-6M557 622l6 6m-6 0l6-6M558 626l6 6m-6 0l6-6M558 626l6 6m-6 0l6-6M559 615l6 6m-6 0l6-6M559 615l6 6m-6 0l6-6M560 619l6 6m-6 0l6-6M560 619l6 6m-6 0l6-6M561 617l6 6m-6 0l6-6M561 620l6 6m-6 0l6-6M562 619l6 6m-6 0l6-6M562 617l6 6m-6 0l6-6M562 616l6 6m-6 0l6-6M563 619l6 6m-6 0l6-6M563 621l6 6m-6 0l6-6M564 615l6 6m-6 0l6-6M564 619l6 6m-6 0l6-6M565 618l6 6m-6 0l6-6M565 615l6 6m-6 0l6-6M566 616l6 6m-6 0l6-6M566 614l6 6m-6 0l6-6M567 619l6 6m-6 0l6-6M567 619l6 6m-6 0l6-6M567 614l6 6m-6 0l6-6M568 609l6 6m-6 0l6-6M568 616l6 6m-6 0l6-6M569 615l6 6m-6 0l6-6M569 614l6 6m-6 0l6-6M570 620l6 6m-6 0l6-6M570 611l6 6m-6 0l6-6M571 613l6 6m-6 0l6-6M571 614l6 6m-6 0l6-6M572 618l6 6m-6 0l6-6M572 611l6 6m-6 0l6-6M573 617l6 6m-6 0l6-6M573 608l6 6m-6 0l6-6M573 613l6 6m-6 0l6-6M574 614l6 6m-6 0l6-6M574 609l6 6m-6 0l6-6M575 618l6 6m-6 0l6-6M575 615l6 6m-6 0l6-6M576 612l6 6m-6 0l6-6M576 615l6 6m-6 0l6-6M577 614l6 6m-6 0l6-6M577 614l6 6m-6 0l6-6M578 614l6 6m-6 0l6-6M578 621l6 6m-6 0l6-6M578 612l6 6m-6 0l6-6M579 619l6 6m-6 0l6-6M579 623l6 6m-6 0l6-6M580 616l6 6m-6 0l6-6M580 618l6 6m-6 0l6-6M581 624l6 6m-6 0l6-6M581 612l6 6m-6 0l6-6M582 611l6 6m-6 0l6-6M582 617l6 6m-6 0l6-6M583 615l6 6m-6 0l6-6M583 620l6 6m-6 0l6-6M584 610l6 6m-6 0l6-6M584 612l6 6m-6 0l6-6M584 614l6 6m-6 0l6-6M585 603l6 6m-6 0l6-6M585 615l6 6m-6 0l6-6M586 610l6 6m-6 0l6-6M586 605l6 6m-6 0l6-6M587 606l6 6m-6 0l6-6M587 606l6 6m-6 0l6-6M588 614l6 6m-6 0l6-6M588 605l6 6m-6 0l6-6M589 614l6 6m-6 0l6-6M589 605l6 6m-6 0l6-6M589 608l6 6m-6 0l6-6M590 604l6 6m-6 0l6-6M590 606l6 6m-6 0l6-6M591 609l6 6m-6 0l6-6M591 605l6 6m-6 0l6-6M592 603l6 6m-6 0l6-6M592 609l6 6m-6 0l6-6M593 613l6 6m-6 0l6-6M593 603l6 6m-6 0l6-6M594 603l6 6m-6 0l6-6M594 600l6 6m-6 0l6-6M595 599l6 6m-6 0l6-6M595 601l6 6m-6 0l6-6M595 605l6 6m-6 0l6-6M596 601l6 6m-6 0l6-6M596 605l6 6m-6 0l6-6M597 604l6 6m-6 0l6-6M597 607l6 6m-6 0l6-6M598 613l6 6m-6 0l6-6M598 603l6 6m-6 0l6-6M599 596l6 6m-6 0l6-6M599 602l6 6m-6 0l6-6M600 603l6 6m-6 0l6-6M600 607l6 6m-6 0l6-6M600 599l6 6m-6 0l6-6M601 597l6 6m-6 0l6-6M601 595l6 6m-6 0l6-6M602 601l6 6m-6 0l6-6M602 596l6 6m-6 0l6-6M603 599l6 6m-6 0l6-6M603 599l6 6m-6 0l6-6M604 592l6 6m-6 0l6-6M604 594l6 6m-6 0l6-6M605 593l6 6m-6 0l6-6M605 595l6 6m-6 0l6-6M606 588l6 6m-6 0l6-6M606 595l6 6m-6 0l6-6M606 599l6 6m-6 0l6-6M607 584l6 6m-6 0l6-6M607 586l6 6m-6 0l6-6M608 593l6 6m-6 0l6-6M608 586l6 6m-6 0l6-6M609 586l6 6m-6 0l6-6M609 585l6 6m-6 0l6-6M610 597l6 6m-6 0l6-6M610 589l6 6m-6 0l6-6M611 596l6 6m-6 0l6-6M611 591l6 6m-6 0l6-6M611 584l6 6m-6 0l6-6M612 590l6 6m-6 0l6-6M612 585l6 6m-6 0l6-6M613 598l6 6m-6 0l6-6M613 587l6 6m-6 0l6-6M614 601l6 6m-6 0l6-6M614 599l6 6m-6 0l6-6M615 605l6 6m-6 0l6-6M615 601l6 6m-6 0l6-6M616 600l6 6m-6 0l6-6M616 603l6 6m-6 0l6-6M617 595l6 6m-6 0l6-6M617 594l6 6m-6 0l6-6M617 595l6 6m-6 0l6-6M618 596l6 6m-6 0l6-6M618 607l6 6m-6 0l6-6M619 599l6 6m-6 0l6-6M619 592l6 6m-6 0l6-6M620 601l6 6m-6 0l6-6M620 597l6 6m-6 0l6-6M621 597l6 6m-6 0l6-6M621 600l6 6m-6 0l6-6M622 599l6 6m-6 0l6-6M622 603l6 6m-6 0l6-6M622 601l6 6m-6 0l6-6M623 607l6 6m-6 0l6-6M623 599l6 6m-6 0l6-6M624 605l6 6m-6 0l6-6M624 601l6 6m-6 0l6-6M625 614l6 6m-6 0l6-6M625 605l6 6m-6 0l6-6M626 617l6 6m-6 0l6-6M626 608l6 6m-6 0l6-6M627 613l6 6m-6 0l6-6M627 606l6 6m-6 0l6-6M628 608l6 6m-6 0l6-6M628 617l6 6m-6 0l6-6M628 607l6 6m-6 0l6-6M629 621l6 6m-6 0l6-6M629 607l6 6m-6 0l6-6M630 622l6 6m-6 0l6-6M630 617l6 6m-6 0l6-6M631 613l6 6m-6 0l6-6M631 612l6 6m-6 0l6-6M632 617l6 6m-6 0l6-6M632 621l6 6m-6 0l6-6M633 613l6 6m-6 0l6-6M633 607l6 6m-6 0l6-6M633 619l6 6m-6 0l6-6M634 612l6 6m-6 0l6-6M634 616l6 6m-6 0l6-6M635 613l6 6m-6 0l6-6M635 612l6 6m-6 0l6-6M636 609l6 6m-6 0l6-6M636 625l6 6m-6 0l6-6M637 619l6 6m-6 0l6-6M637 618l6 6m-6 0l6-6M638 616l6 6m-6 0l6-6M638 619l6 6m-6 0l6-6M639 614l6 6m-6 0l6-6M639 615l6 6m-6 0l6-6M639 613l6 6m-6 0l6-6M640 615l6 6m-6 0l6-6M640 623l6 6m-6 0l6-6M641 616l6 6m-6 0l6-6M641 632l6 6m-6 0l6-6M642 624l6 6m-6 0l6-6M642 624l6 6m-6 0l6-6M643 627l6 6m-6 0l6-6M643 636l6 6m-6 0l6-6M644 622l6 6m-6 0l6-6M644 630l6 6m-6 0l6-6M644 639l6 6m-6 0l6-6M645 636l6 6m-6 0l6-6M645 635l6 6m-6 0l6-6M646 634l6 6m-6 0l6-6M646 651l6 6m-6 0l6-6M647 634l6 6m-6 0l6-6M647 644l6 6m-6 0l6-6M648 634l6 6m-6 0l6-6M648 630l6 6m-6 0l6-6M649 636l6 6m-6 0l6-6M649 636l6 6m-6 0l6-6M649 629l6 6m-6 0l6-6M650 643l6 6m-6 0l6-6M650 650l6 6m-6 0l6-6M651 643l6 6m-6 0l6-6M651 645l6 6m-6 0l6-6M652 645l6 6m-6 0l6-6M652 645l6 6m-6 0l6-6M653 646l6 6m-6 0l6-6M653 644l6 6m-6 0l6-6M654 646l6 6m-6 0l6-6M654 647l6 6m-6 0l6-6M655 648l6 6m-6 0l6-6M655 647l6 6m-6 0l6-6M655 642l6 6m-6 0l6-6M656 644l6 6m-6 0l6-6M656 643l6 6m-6 0l6-6M657 649l6 6m-6 0l6-6M657 656l6 6m-6 0l6-6M658 650l6 6m-6 0l6-6M658 647l6 6m-6 0l6-6M659 658l6 6m-6 0l6-6M659 653l6 6m-6 0l6-6M660 646l6 6m-6 0l6-6M660 651l6 6m-6 0l6-6M660 653l6 6m-6 0l6-6M661 652l6 6m-6 0l6-6M661 647l6 6m-6 0l6-6M662 650l6 6m-6 0l6-6M662 646l6 6m-6 0l6-6M663 643l6 6m-6 0l6-6M663 648l6 6m-6 0l6-6M664 638l6 6m-6 0l6-6M664 634l6 6m-6 0l6-6M665 649l6 6m-6 0l6-6M665 646l6 6m-6 0l6-6M666 645l6 6m-6 0l6-6M666 650l6 6m-6 0l6-6M666 646l6 6m-6 0l6-6M667 650l6 6m-6 0l6-6M667 647l6 6m-6 0l6-6M668 649l6 6m-6 0l6-6M668 644l6 6m-6 0l6-6M669 645l6 6m-6 0l6-6M669 641l6 6m-6 0l6-6M670 647l6 6m-6 0l6-6M670 649l6 6m-6 0l6-6M671 647l6 6m-6 0l6-6M671 651l6 6m-6 0l6-6M671 648l6 6m-6 0l6-6M672 652l6 6m-6 0l6-6M672 650l6 6m-6 0l6-6M673 649l6 6m-6 0l6-6M673 658l6 6m-6 0l6-6M674 644l6 6m-6 0l6-6M674 653l6 6m-6 0l6-6M675 646l6 6m-6 0l6-6M675 652l6 6m-6 0l6-6M676 643l6 6m-6 0l6-6M676 640l6 6m-6 0l6-6M677 653l6 6m-6 0l6-6M677 644l6 6m-6 0l6-6M677 655l6 6m-6 0l6-6M678 641l6 6m-6 0l6-6M678 642l6 6m-6 0l6-6M679 649l6 6m-6 0l6-6M679 641l6 6m-6 0l6-6M680 646l6 6m-6 0l6-6M680 639l6 6m-6 0l6-6M681 640l6 6m-6 0l6-6M681 633l6 6m-6 0l6-6M682 640l6 6m-6 0l6-6M682 641l6 6m-6 0l6-6M682 645l6 6m-6 0l6-6M683 646l6 6m-6 0l6-6M683 641l6 6m-6 0l6-6M684 642l6 6m-6 0l6-6M684 642l6 6m-6 0l6-6M685 651l6 6m-6 0l6-6M685 639l6 6m-6 0l6-6M686 646l6 6m-6 0l6-6M686 642l6 6m-6 0l6-6M687 636l6 6m-6 0l6-6M687 644l6 6m-6 0l6-6M688 647l6 6m-6 0l6-6M688 643l6 6m-6 0l6-6M688 638l6 6m-6 0l6-6M689 644l6 6m-6 0l6-6M689 644l6 6m-6 0l6-6M690 641l6 6m-6 0l6-6M690 645l6 6m-6 0l6-6M691 635l6 6m-6 0l6-6M691 638l6 6m-6 0l6-6M692 641l6 6m-6 0l6-6M692 641l6 6m-6 0l6-6M693 645l6 6m-6 0l6-6M693 645l6 6m-6 0l6-6M693 638l6 6m-6 0l6-6M694 646l6 6m-6 0l6-6M694 647l6 6m-6 0l6-6M695 645l6 6m-6 0l6-6M695 638l6 6m-6 0l6-6M696 636l6 6m-6 0l6-6M696 634l6 6m-6 0l6-6M697 629l6 6m-6 0l6-6M697 634l6 6m-6 0l6-6M698 629l6 6m-6 0l6-6M698 635l6 6m-6 0l6-6M699 634l6 6m-6 0l6-6M699 634l6 6m-6 0l6-6M699 633l6 6m-6 0l6-6M700 634l6 6m-6 0l6-6M700 629l6 6m-6 0l6-6M701 629l6 6m-6 0l6-6M701 632l6 6m-6 0l6-6M702 636l6 6m-6 0l6-6M702 622l6 6m-6 0l6-6M703 622l6 6m-6 0l6-6M703 625l6 6m-6 0l6-6M704 620l6 6m-6 0l6-6M704 621l6 6m-6 0l6-6M704 623l6 6m-6 0l6-6M705 619l6 6m-6 0l6-6M705 624l6 6m-6 0l6-6M706 624l6 6m-6 0l6-6M706 628l6 6m-6 0l6-6M707 620l6 6m-6 0l6-6M707 635l6 6m-6 0l6-6M708 607l6 6m-6 0l6-6M708 622l6 6m-6 0l6-6M709 615l6 6m-6 0l6-6M709 625l6 6m-6 0l6-6M710 615l6 6m-6 0l6-6M710 619l6 6m-6 0l6-6M710 609l6 6m-6 0l6-6M711 611l6 6m-6 0l6-6M711 615l6 6m-6 0l6-6M712 615l6 6m-6 0l6-6M712 620l6 6m-6 0l6-6M713 617l6 6m-6 0l6-6M713 618l6 6m-6 0l6-6M714 621l6 6m-6 0l6-6M714 608l6 6m-6 0l6-6M715 619l6 6m-6 0l6-6M715 611l6 6m-6 0l6-6M715 615l6 6m-6 0l6-6M716 613l6 6m-6 0l6-6M716 617l6 6m-6 0l6-6M717 617l6 6m-6 0l6-6M717 614l6 6m-6 0l6-6M718 610l6 6m-6 0l6-6M718 607l6 6m-6 0l6-6M719 615l6 6m-6 0l6-6M719 614l6 6m-6 0l6-6M720 613l6 6m-6 0l6-6M720 615l6 6m-6 0l6-6M721 623l6 6m-6 0l6-6M721 616l6 6m-6 0l6-6M721 613l6 6m-6 0l6-6M722 610l6 6m-6 0l6-6M722 608l6 6m-6 0l6-6M723 617l6 6m-6 0l6-6M723 614l6 6m-6 0l6-6M724 612l6 6m-6 0l6-6M724 608l6 6m-6 0l6-6M725 611l6 6m-6 0l6-6M725 619l6 6m-6 0l6-6M726 614l6 6m-6 0l6-6M726 611l6 6m-6 0l6-6M726 614l6 6m-6 0l6-6M727 613l6 6m-6 0l6-6M727 611l6 6m-6 0l6-6M728 616l6 6m-6 0l6-6M728 614l6 6m-6 0l6-6M729 613l6 6m-6 0l6-6M729 611l6 6m-6 0l6-6M730 619l6 6m-6 0l6-6M730 608l6 6m-6 0l6-6M731 614l6 6m-6 0l6-6M731 609l6 6m-6 0l6-6M732 604l6 6m-6 0l6-6M732 611l6 6m-6 0l6-6M732 606l6 6m-6 0l6-6M733 612l6 6m-6 0l6-6M733 607l6 6m-6 0l6-6M734 614l6 6m-6 0l6-6M734 615l6 6m-6 0l6-6M735 611l6 6m-6 0l6-6M735 613l6 6m-6 0l6-6M736 612l6 6m-6 0l6-6M736 621l6 6m-6 0l6-6M737 610l6 6m-6 0l6-6M737 620l6 6m-6 0l6-6M737 622l6 6m-6 0l6-6M738 630l6 6m-6 0l6-6M738 623l6 6m-6 0l6-6M739 621l6 6m-6 0l6-6M739 626l6 6m-6 0l6-6M740 625l6 6m-6 0l6-6M740 609l6 6m-6 0l6-6M741 628l6 6m-6 0l6-6M741 622l6 6m-6 0l6-6M742 628l6 6m-6 0l6-6M742 628l6 6m-6 0l6-6M742 620l6 6m-6 0l6-6M743 626l6 6m-6 0l6-6M743 624l6 6m-6 0l6-6M744 619l6 6m-6 0l6-6M744 620l6 6m-6 0l6-6M745 627l6 6m-6 0l6-6M745 625l6 6m-6 0l6-6M746 621l6 6m-6 0l6-6M746 627l6 6m-6 0l6-6M747 628l6 6m-6 0l6-6M747 627l6 6m-6 0l6-6M748 626l6 6m-6 0l6-6M748 627l6 6m-6 0l6-6M748 621l6 6m-6 0l6-6M749 622l6 6m-6 0l6-6M749 624l6 6m-6 0l6-6M750 618l6 6m-6 0l6-6M750 623l6 6m-6 0l6-6M751 626l6 6m-6 0l6-6M751 621l6 6m-6 0l6-6M752 629l6 6m-6 0l6-6M752 624l6 6m-6 0l6-6M753 624l6 6m-6 0l6-6M753 617l6 6m-6 0l6-6M753 619l6 6m-6 0l6-6M754 616l6 6m-6 0l6-6M754 613l6 6m-6 0l6-6M755 619l6 6m-6 0l6-6M755 613l6 6m-6 0l6-6M756 617l6 6m-6 0l6-6M756 612l6 6m-6 0l6-6M757 613l6 6m-6 0l6-6M757 609l6 6m-6 0l6-6M758 616l6 6m-6 0l6-6M758 611l6 6m-6 0l6-6M759 615l6 6m-6 0l6-6M759 612l6 6m-6 0l6-6M759 615l6 6m-6 0l6-6M760 609l6 6m-6 0l6-6M760 614l6 6m-6 0l6-6M761 613l6 6m-6 0l6-6M761 612l6 6m-6 0l6-6M762 610l6 6m-6 0l6-6M762 616l6 6m-6 0l6-6M763 605l6 6m-6 0l6-6M763 615l6 6m-6 0l6-6M764 611l6 6m-6 0l6-6M764 613l6 6m-6 0l6-6M764 616l6 6m-6 0l6-6M765 614l6 6m-6 0l6-6M765 614l6 6m-6 0l6-6M766 610l6 6m-6 0l6-6M766 608l6 6m-6 0l6-6M767 612l6 6m-6 0l6-6M767 615l6 6m-6 0l6-6M768 610l6 6m-6 0l6-6M768 623l6 6m-6 0l6-6M769 608l6 6m-6 0l6-6M769 609l6 6m-6 0l6-6M770 617l6 6m-6 0l6-6M770 619l6 6m-6 0l6-6M770 616l6 6m-6 0l6-6M771 610l6 6m-6 0l6-6M771 613l6 6m-6 0l6-6M772 616l6 6m-6 0l6-6M772 616l6 6m-6 0l6-6M773 607l6 6m-6 0l6-6M773 619l6 6m-6 0l6-6M774 622l6 6m-6 0l6-6M774 615l6 6m-6 0l6-6M775 610l6 6m-6 0l6-6M775 613l6 6m-6 0l6-6M775 619l6 6m-6 0l6-6M776 618l6 6m-6 0l6-6M776 618l6 6m-6 0l6-6M777 608l6 6m-6 0l6-6M777 619l6 6m-6 0l6-6M778 620l6 6m-6 0l6-6M778 622l6 6m-6 0l6-6M779 625l6 6m-6 0l6-6M779 620l6 6m-6 0l6-6M780 628l6 6m-6 0l6-6M780 630l6 6m-6 0l6-6M781 631l6 6m-6 0l6-6M781 623l6 6m-6 0l6-6M781 628l6 6m-6 0l6-6M782 622l6 6m-6 0l6-6M782 624l6 6m-6 0l6-6M783 620l6 6m-6 0l6-6M783 624l6 6m-6 0l6-6M784 624l6 6m-6 0l6-6M784 634l6 6m-6 0l6-6M785 632l6 6m-6 0l6-6M785 633l6 6m-6 0l6-6M786 632l6 6m-6 0l6-6M786 631l6 6m-6 0l6-6M786 629l6 6m-6 0l6-6M787 633l6 6m-6 0l6-6M787 640l6 6m-6 0l6-6M788 634l6 6m-6 0l6-6M788 643l6 6m-6 0l6-6M789 638l6 6m-6 0l6-6M789 631l6 6m-6 0l6-6M790 641l6 6m-6 0l6-6M790 639l6 6m-6 0l6-6M791 643l6 6m-6 0l6-6M791 636l6 6m-6 0l6-6M792 645l6 6m-6 0l6-6M792 641l6 6m-6 0l6-6M792 640l6 6m-6 0l6-6M793 645l6 6m-6 0l6-6M793 640l6 6m-6 0l6-6M794 634l6 6m-6 0l6-6M794 642l6 6m-6 0l6-6M795 650l6 6m-6 0l6-6M795 654l6 6m-6 0l6-6M796 643l6 6m-6 0l6-6M796 651l6 6m-6 0l6-6M797 652l6 6m-6 0l6-6M797 645l6 6m-6 0l6-6M797 644l6 6m-6 0l6-6M798 659l6 6m-6 0l6-6M798 655l6 6m-6 0l6-6M799 652l6 6m-6 0l6-6M799 656l6 6m-6 0l6-6M800 647l6 6m-6 0l6-6M800 656l6 6m-6 0l6-6M801 654l6 6m-6 0l6-6M801 653l6 6m-6 0l6-6M802 660l6 6m-6 0l6-6M802 658l6 6m-6 0l6-6M803 659l6 6m-6 0l6-6M803 657l6 6m-6 0l6-6M803 656l6 6m-6 0l6-6M804 659l6 6m-6 0l6-6M804 666l6 6m-6 0l6-6M805 652l6 6m-6 0l6-6M805 655l6 6m-6 0l6-6M806 657l6 6m-6 0l6-6M806 662l6 6m-6 0l6-6M807 658l6 6m-6 0l6-6M807 662l6 6m-6 0l6-6M808 651l6 6m-6 0l6-6M808 655l6 6m-6 0l6-6M808 662l6 6m-6 0l6-6M809 650l6 6m-6 0l6-6M809 658l6 6m-6 0l6-6M810 663l6 6m-6 0l6-6M810 661l6 6m-6 0l6-6M811 662l6 6m-6 0l6-6M811 655l6 6m-6 0l6-6M812 655l6 6m-6 0l6-6M812 660l6 6m-6 0l6-6M813 656l6 6m-6 0l6-6M813 662l6 6m-6 0l6-6M814 655l6 6m-6 0l6-6M814 655l6 6m-6 0l6-6M814 653l6 6m-6 0l6-6M815 656l6 6m-6 0l6-6M815 654l6 6m-6 0l6-6M816 649l6 6m-6 0l6-6M816 653l6 6m-6 0l6-6M817 648l6 6m-6 0l6-6M817 654l6 6m-6 0l6-6M818 648l6 6m-6 0l6-6M818 653l6 6m-6 0l6-6M819 654l6 6m-6 0l6-6M819 650l6 6m-6 0l6-6M819 641l6 6m-6 0l6-6M820 644l6 6m-6 0l6-6M820 648l6 6m-6 0l6-6M821 646l6 6m-6 0l6-6M821 645l6 6m-6 0l6-6M822 648l6 6m-6 0l6-6M822 640l6 6m-6 0l6-6M823 639l6 6m-6 0l6-6M823 637l6 6m-6 0l6-6M824 646l6 6m-6 0l6-6M824 646l6 6m-6 0l6-6M825 642l6 6m-6 0l6-6M825 642l6 6m-6 0l6-6M825 647l6 6m-6 0l6-6M826 641l6 6m-6 0l6-6M826 645l6 6m-6 0l6-6M827 645l6 6m-6 0l6-6M827 642l6 6m-6 0l6-6M828 645l6 6m-6 0l6-6M828 646l6 6m-6 0l6-6M829 640l6 6m-6 0l6-6M829 634l6 6m-6 0l6-6M830 641l6 6m-6 0l6-6M830 635l6 6m-6 0l6-6M830 634l6 6m-6 0l6-6M831 642l6 6m-6 0l6-6M831 635l6 6m-6 0l6-6M832 637l6 6m-6 0l6-6M832 638l6 6m-6 0l6-6M833 634l6 6m-6 0l6-6M833 641l6 6m-6 0l6-6M834 647l6 6m-6 0l6-6M834 637l6 6m-6 0l6-6M835 639l6 6m-6 0l6-6M835 629l6 6m-6 0l6-6M836 636l6 6m-6 0l6-6M836 647l6 6m-6 0l6-6M836 638l6 6m-6 0l6-6M837 637l6 6m-6 0l6-6M837 640l6 6m-6 0l6-6M838 637l6 6m-6 0l6-6M838 643l6 6m-6 0l6-6M839 638l6 6m-6 0l6-6M839 635l6 6m-6 0l6-6M840 636l6 6m-6 0l6-6M840 628l6 6m-6 0l6-6M841 639l6 6m-6 0l6-6M841 640l6 6m-6 0l6-6M841 631l6 6m-6 0l6-6M842 627l6 6m-6 0l6-6M842 635l6 6m-6 0l6-6M843 638l6 6m-6 0l6-6M843 642l6 6m-6 0l6-6M844 634l6 6m-6 0l6-6M844 636l6 6m-6 0l6-6M845 638l6 6m-6 0l6-6M845 644l6 6m-6 0l6-6M846 635l6 6m-6 0l6-6M846 637l6 6m-6 0l6-6M846 635l6 6m-6 0l6-6M847 641l6 6m-6 0l6-6M847 644l6 6m-6 0l6-6M848 645l6 6m-6 0l6-6M848 642l6 6m-6 0l6-6M849 641l6 6m-6 0l6-6M849 636l6 6m-6 0l6-6M850 639l6 6m-6 0l6-6M850 642l6 6m-6 0l6-6M851 639l6 6m-6 0l6-6M851 633l6 6m-6 0l6-6M852 635l6 6m-6 0l6-6M852 634l6 6m-6 0l6-6M852 642l6 6m-6 0l6-6M853 640l6 6m-6 0l6-6M853 638l6 6m-6 0l6-6M854 641l6 6m-6 0l6-6M854 639l6 6m-6 0l6-6M855 633l6 6m-6 0l6-6M855 638l6 6m-6 0l6-6M856 635l6 6m-6 0l6-6M856 631l6 6m-6 0l6-6M857 633l6 6m-6 0l6-6M857 638l6 6m-6 0l6-6M857 640l6 6m-6 0l6-6M858 628l6 6m-6 0l6-6M858 634l6 6m-6 0l6-6M859 635l6 6m-6 0l6-6M859 639l6 6m-6 0l6-6M860 632l6 6m-6 0l6-6M860 643l6 6m-6 0l6-6M861 634l6 6m-6 0l6-6M861 633l6 6m-6 0l6-6M862 636l6 6m-6 0l6-6M862 639l6 6m-6 0l6-6M863 636l6 6m-6 0l6-6M863 634l6 6m-6 0l6-6M863 639l6 6m-6 0l6-6M864 639l6 6m-6 0l6-6M864 640l6 6m-6 0l6-6M865 634l6 6m-6 0l6-6M865 640l6 6m-6 0l6-6M866 654l6 6m-6 0l6-6M866 630l6 6m-6 0l6-6M867 640l6 6m-6 0l6-6M867 632l6 6m-6 0l6-6M868 640l6 6m-6 0l6-6M868 640l6 6m-6 0l6-6M868 636l6 6m-6 0l6-6M869 638l6 6m-6 0l6-6M869 635l6 6m-6 0l6-6M870 642l6 6m-6 0l6-6M870 636l6 6m-6 0l6-6M871 631l6 6m-6 0l6-6M871 634l6 6m-6 0l6-6M872 635l6 6m-6 0l6-6M872 634l6 6m-6 0l6-6M873 644l6 6m-6 0l6-6M873 632l6 6m-6 0l6-6M874 634l6 6m-6 0l6-6M874 630l6 6m-6 0l6-6M874 636l6 6m-6 0l6-6M875 629l6 6m-6 0l6-6M875 635l6 6m-6 0l6-6M876 629l6 6m-6 0l6-6M876 630l6 6m-6 0l6-6M877 631l6 6m-6 0l6-6M877 643l6 6m-6 0l6-6M878 631l6 6m-6 0l6-6M878 640l6 6m-6 0l6-6M879 635l6 6m-6 0l6-6M879 630l6 6m-6 0l6-6M879 634l6 6m-6 0l6-6M880 631l6 6m-6 0l6-6M880 637l6 6m-6 0l6-6M881 641l6 6m-6 0l6-6M881 646l6 6m-6 0l6-6M882 638l6 6m-6 0l6-6M882 638l6 6m-6 0l6-6M883 638l6 6m-6 0l6-6M883 641l6 6m-6 0l6-6M884 638l6 6m-6 0l6-6M884 649l6 6m-6 0l6-6M885 643l6 6m-6 0l6-6M885 643l6 6m-6 0l6-6M885 633l6 6m-6 0l6-6M886 641l6 6m-6 0l6-6M886 642l6 6m-6 0l6-6M887 657l6 6m-6 0l6-6M887 650l6 6m-6 0l6-6M888 648l6 6m-6 0l6-6M888 652l6 6m-6 0l6-6M889 659l6 6m-6 0l6-6M889 663l6 6m-6 0l6-6M890 653l6 6m-6 0l6-6M890 643l6 6m-6 0l6-6M890 649l6 6m-6 0l6-6M891 648l6 6m-6 0l6-6M891 654l6 6m-6 0l6-6M892 648l6 6m-6 0l6-6M892 647l6 6m-6 0l6-6M893 655l6 6m-6 0l6-6M893 657l6 6m-6 0l6-6M894 663l6 6m-6 0l6-6M894 666l6 6m-6 0l6-6M895 666l6 6m-6 0l6-6M895 662l6 6m-6 0l6-6M896 664l6 6m-6 0l6-6M896 657l6 6m-6 0l6-6M896 669l6 6m-6 0l6-6M897 662l6 6m-6 0l6-6M897 665l6 6m-6 0l6-6M898 669l6 6m-6 0l6-6M898 666l6 6m-6 0l6-6M899 670l6 6m-6 0l6-6M899 676l6 6m-6 0l6-6M900 680l6 6m-6 0l6-6M900 682l6 6m-6 0l6-6M901 679l6 6m-6 0l6-6M901 675l6 6m-6 0l6-6M901 679l6 6m-6 0l6-6M902 672l6 6m-6 0l6-6M902 669l6 6m-6 0l6-6M903 682l6 6m-6 0l6-6M903 678l6 6m-6 0l6-6M904 679l6 6m-6 0l6-6M904 676l6 6m-6 0l6-6M905 689l6 6m-6 0l6-6M905 683l6 6m-6 0l6-6M906 687l6 6m-6 0l6-6M906 682l6 6m-6 0l6-6M907 684l6 6m-6 0l6-6M907 685l6 6m-6 0l6-6M907 691l6 6m-6 0l6-6M908 677l6 6m-6 0l6-6M908 685l6 6m-6 0l6-6M909 684l6 6m-6 0l6-6M909 689l6 6m-6 0l6-6M910 685l6 6m-6 0l6-6M910 687l6 6m-6 0l6-6M911 685l6 6m-6 0l6-6M911 685l6 6m-6 0l6-6M912 691l6 6m-6 0l6-6M912 695l6 6m-6 0l6-6M912 692l6 6m-6 0l6-6M913 686l6 6m-6 0l6-6M913 688l6 6m-6 0l6-6M914 694l6 6m-6 0l6-6M914 689l6 6m-6 0l6-6M915 693l6 6m-6 0l6-6M915 691l6 6m-6 0l6-6M916 698l6 6m-6 0l6-6M916 689l6 6m-6 0l6-6M917 695l6 6m-6 0l6-6M917 698l6 6m-6 0l6-6M918 695l6 6m-6 0l6-6M918 689l6 6m-6 0l6-6M918 691l6 6m-6 0l6-6M919 693l6 6m-6 0l6-6M919 690l6 6m-6 0l6-6M920 693l6 6m-6 0l6-6M920 693l6 6m-6 0l6-6M921 696l6 6m-6 0l6-6M921 694l6 6m-6 0l6-6M922 693l6 6m-6 0l6-6M922 701l6 6m-6 0l6-6M923 702l6 6m-6 0l6-6M923 700l6 6m-6 0l6-6M923 706l6 6m-6 0l6-6M924 707l6 6m-6 0l6-6M924 701l6 6m-6 0l6-6M925 711l6 6m-6 0l6-6M925 709l6 6m-6 0l6-6M926 706l6 6m-6 0l6-6M926 702l6 6m-6 0l6-6M927 705l6 6m-6 0l6-6M927 703l6 6m-6 0l6-6M928 707l6 6m-6 0l6-6M928 703l6 6m-6 0l6-6M929 702l6 6m-6 0l6-6M929 707l6 6m-6 0l6-6M929 704l6 6m-6 0l6-6M930 701l6 6m-6 0l6-6M930 708l6 6m-6 0l6-6M931 710l6 6m-6 0l6-6M931 707l6 6m-6 0l6-6M932 705l6 6m-6 0l6-6M932 705l6 6m-6 0l6-6M933 705l6 6m-6 0l6-6M933 703l6 6m-6 0l6-6M934 709l6 6m-6 0l6-6M934 703l6 6m-6 0l6-6M934 708l6 6m-6 0l6-6M935 702l6 6m-6 0l6-6M935 702l6 6m-6 0l6-6M936 707l6 6m-6 0l6-6M936 717l6 6m-6 0l6-6M937 706l6 6m-6 0l6-6M937 701l6 6m-6 0l6-6M938 711l6 6m-6 0l6-6M938 705l6 6m-6 0l6-6M939 702l6 6m-6 0l6-6M939 699l6 6m-6 0l6-6M939 709l6 6m-6 0l6-6M940 703l6 6m-6 0l6-6M940 701l6 6m-6 0l6-6M941 703l6 6m-6 0l6-6M941 708l6 6m-6 0l6-6M942 711l6 6m-6 0l6-6M942 700l6 6m-6 0l6-6M943 698l6 6m-6 0l6-6M943 712l6 6m-6 0l6-6M944 707l6 6m-6 0l6-6M944 715l6 6m-6 0l6-6M945 709l6 6m-6 0l6-6M945 710l6 6m-6 0l6-6M945 708l6 6m-6 0l6-6M946 708l6 6m-6 0l6-6M946 710l6 6m-6 0l6-6M947 708l6 6m-6 0l6-6M947 716l6 6m-6 0l6-6M948 707l6 6m-6 0l6-6M948 707l6 6m-6 0l6-6M949 714l6 6m-6 0l6-6M949 705l6 6m-6 0l6-6M950 707l6 6m-6 0l6-6M950 710l6 6m-6 0l6-6M950 704l6 6m-6 0l6-6M951 712l6 6m-6 0l6-6M951 709l6 6m-6 0l6-6M952 712l6 6m-6 0l6-6M952 710l6 6m-6 0l6-6M953 703l6 6m-6 0l6-6M953 702l6 6m-6 0l6-6M954 706l6 6m-6 0l6-6M954 707l6 6m-6 0l6-6M955 708l6 6m-6 0l6-6M955 709l6 6m-6 0l6-6M956 712l6 6m-6 0l6-6M956 705l6 6m-6 0l6-6M956 708l6 6m-6 0l6-6M957 716l6 6m-6 0l6-6M957 710l6 6m-6 0l6-6M958 709l6 6m-6 0l6-6M958 713l6 6m-6 0l6-6M959 705l6 6m-6 0l6-6M959 712l6 6m-6 0l6-6M960 712l6 6m-6 0l6-6M960 712l6 6m-6 0l6-6M961 717l6 6m-6 0l6-6M961 724l6 6m-6 0l6-6M961 720l6 6m-6 0l6-6M962 725l6 6m-6 0l6-6M962 725l6 6m-6 0l6-6M963 721l6 6m-6 0l6-6M963 728l6 6m-6 0l6-6M964 725l6 6m-6 0l6-6M964 722l6 6m-6 0l6-6M965 718l6 6m-6 0l6-6M965 721l6 6m-6 0l6-6M966 726l6 6m-6 0l6-6M966 715l6 6m-6 0l6-6M967 731l6 6m-6 0l6-6M967 712l6 6m-6 0l6-6M967 722l6 6m-6 0l6-6M968 725l6 6m-6 0l6-6M968 716l6 6m-6 0l6-6M969 711l6 6m-6 0l6-6M969 717l6 6m-6 0l6-6M970 717l6 6m-6 0l6-6M970 721l6 6m-6 0l6-6M971 717l6 6m-6 0l6-6M971 718l6 6m-6 0l6-6M972 717l6 6m-6 0l6-6M972 721l6 6m-6 0l6-6M972 714l6 6m-6 0l6-6M973 715l6 6m-6 0l6-6M973 716l6 6m-6 0l6-6M974 724l6 6m-6 0l6-6M974 700l6 6m-6 0l6-6M975 703l6 6m-6 0l6-6M975 710l6 6m-6 0l6-6M976 707l6 6m-6 0l6-6M976 711l6 6m-6 0l6-6M977 714l6 6m-6 0l6-6M977 713l6 6m-6 0l6-6M978 709l6 6m-6 0l6-6M978 706l6 6m-6 0l6-6M978 709l6 6m-6 0l6-6M979 707l6 6m-6 0l6-6M979 717l6 6m-6 0l6-6M980 714l6 6m-6 0l6-6M980 709l6 6m-6 0l6-6M981 711l6 6m-6 0l6-6M981 705l6 6m-6 0l6-6M982 708l6 6m-6 0l6-6M982 710l6 6m-6 0l6-6M983 705l6 6m-6 0l6-6M983 710l6 6m-6 0l6-6M983 708l6 6m-6 0l6-6M984 713l6 6m-6 0l6-6M984 709l6 6m-6 0l6-6M985 711l6 6m-6 0l6-6M985 715l6 6m-6 0l6-6M986 720l6 6m-6 0l6-6M986 717l6 6m-6 0l6-6M987 717l6 6m-6 0l6-6M987 710l6 6m-6 0l6-6M988 713l6 6m-6 0l6-6M988 717l6 6m-6 0l6-6M989 716l6 6m-6 0l6-6M989 717l6 6m-6 0l6-6M989 721l6 6m-6 0l6-6M990 722l6 6m-6 0l6-6M990 715l6 6m-6 0l6-6M991 713l6 6m-6 0l6-6M991 711l6 6m-6 0l6-6M992 720l6 6m-6 0l6-6M992 723l6 6m-6 0l6-6M993 727l6 6m-6 0l6-6M993 720l6 6m-6 0l6-6M994 729l6 6m-6 0l6-6M994 729l6 6m-6 0l6-6M994 733l6 6m-6 0l6-6M995 732l6 6m-6 0l6-6M995 723l6 6m-6 0l6-6M996 726l6 6m-6 0l6-6M996 723l6 6m-6 0l6-6M997 727l6 6m-6 0l6-6M997 740l6 6m-6 0l6-6M998 731l6 6m-6 0l6-6M998 734l6 6m-6 0l6-6M999 736l6 6m-6 0l6-6M999 732l6 6m-6 0l6-6M1000 731l6 6m-6 0l6-6M1000 730l6 6m-6 0l6-6M1000 742l6 6m-6 0l6-6M1001 735l6 6m-6 0l6-6M1001 737l6 6m-6 0l6-6M1002 744l6 6m-6 0l6-6M1002 736l6 6m-6 0l6-6M1003 737l6 6m-6 0l6-6M1003 735l6 6m-6 0l6-6M1004 742l6 6m-6 0l6-6M1004 738l6 6m-6 0l6-6M1005 735l6 6m-6 0l6-6M1005 753l6 6m-6 0l6-6M1005 753l6 6m-6 0l6-6M1006 748l6 6m-6 0l6-6M1006 744l6 6m-6 0l6-6M1007 746l6 6m-6 0l6-6M1007 743l6 6m-6 0l6-6M1008 748l6 6m-6 0l6-6M1008 753l6 6m-6 0l6-6M1009 751l6 6m-6 0l6-6M1009 744l6 6m-6 0l6-6M1010 744l6 6m-6 0l6-6M1010 749l6 6m-6 0l6-6M1011 755l6 6m-6 0l6-6M1011 751l6 6m-6 0l6-6M1011 749l6 6m-6 0l6-6M1012 754l6 6m-6 0l6-6M1012 749l6 6m-6 0l6-6M1013 753l6 6m-6 0l6-6M1013 750l6 6m-6 0l6-6M1014 746l6 6m-6 0l6-6M1014 752l6 6m-6 0l6-6M1015 745l6 6m-6 0l6-6M1015 751l6 6m-6 0l6-6M1016 754l6 6m-6 0l6-6M1016 747l6 6m-6 0l6-6M1016 756l6 6m-6 0l6-6M1017 757l6 6m-6 0l6-6M1017 754l6 6m-6 0l6-6M1018 751l6 6m-6 0l6-6M1018 752l6 6m-6 0l6-6M1019 752l6 6m-6 0l6-6M1019 753l6 6m-6 0l6-6M1020 749l6 6m-6 0l6-6M1020 754l6 6m-6 0l6-6M1021 758l6 6m-6 0l6-6M1021 746l6 6m-6 0l6-6M1022 767l6 6m-6 0l6-6M1022 747l6 6m-6 0l6-6M1022 747l6 6m-6 0l6-6M1023 747l6 6m-6 0l6-6M1023 750l6 6m-6 0l6-6M1024 750l6 6m-6 0l6-6M1024 754l6 6m-6 0l6-6M1025 748l6 6m-6 0l6-6M1025 752l6 6m-6 0l6-6M1026 743l6 6m-6 0l6-6M1026 746l6 6m-6 0l6-6M1027 737l6 6m-6 0l6-6M1027 739l6 6m-6 0l6-6M1027 755l6 6m-6 0l6-6M1028 746l6 6m-6 0l6-6M1028 749l6 6m-6 0l6-6M1029 751l6 6m-6 0l6-6M1029 751l6 6m-6 0l6-6M1030 743l6 6m-6 0l6-6M1030 750l6 6m-6 0l6-6M1031 759l6 6m-6 0l6-6M1031 752l6 6m-6 0l6-6M1032 746l6 6m-6 0l6-6M1032 747l6 6m-6 0l6-6M1032 747l6 6m-6 0l6-6M1033 748l6 6m-6 0l6-6M1033 749l6 6m-6 0l6-6M1034 749l6 6m-6 0l6-6M1034 746l6 6m-6 0l6-6M1035 742l6 6m-6 0l6-6M1035 749l6 6m-6 0l6-6M1036 747l6 6m-6 0l6-6M1036 749l6 6m-6 0l6-6M1037 751l6 6m-6 0l6-6M1037 746l6 6m-6 0l6-6M1038 751l6 6m-6 0l6-6M1038 745l6 6m-6 0l6-6M1038 749l6 6m-6 0l6-6M1039 748l6 6m-6 0l6-6M1039 741l6 6m-6 0l6-6M1040 746l6 6m-6 0l6-6M1040 743l6 6m-6 0l6-6M1041 741l6 6m-6 0l6-6M1041 740l6 6m-6 0l6-6M1042 740l6 6m-6 0l6-6M1042 736l6 6m-6 0l6-6M1043 733l6 6m-6 0l6-6M1043 737l6 6m-6 0l6-6M1043 742l6 6m-6 0l6-6M1044 739l6 6m-6 0l6-6M1044 744l6 6m-6 0l6-6M1045 734l6 6m-6 0l6-6M1045 748l6 6m-6 0l6-6M1046 740l6 6m-6 0l6-6M1046 736l6 6m-6 0l6-6M1047 740l6 6m-6 0l6-6M1047 741l6 6m-6 0l6-6M1048 741l6 6m-6 0l6-6M1048 741l6 6m-6 0l6-6M1049 741l6 6m-6 0l6-6M1049 740l6 6m-6 0l6-6M1049 737l6 6m-6 0l6-6M1050 734l6 6m-6 0l6-6M1050 740l6 6m-6 0l6-6M1051 736l6 6m-6 0l6-6M1051 743l6 6m-6 0l6-6M1052 736l6 6m-6 0l6-6M1052 744l6 6m-6 0l6-6M1053 744l6 6m-6 0l6-6M1053 741l6 6m-6 0l6-6M1054 746l6 6m-6 0l6-6M1054 746l6 6m-6 0l6-6M1054 749l6 6m-6 0l6-6M1055 743l6 6m-6 0l6-6M1055 736l6 6m-6 0l6-6M1056 744l6 6m-6 0l6-6M1056 747l6 6m-6 0l6-6M1057 751l6 6m-6 0l6-6M1057 752l6 6m-6 0l6-6M1058 753l6 6m-6 0l6-6M1058 751l6 6m-6 0l6-6M1059 750l6 6m-6 0l6-6M1059 748l6 6m-6 0l6-6M1060 752l6 6m-6 0l6-6M1060 749l6 6m-6 0l6-6M1060 752l6 6m-6 0l6-6M1061 751l6 6m-6 0l6-6M1061 755l6 6m-6 0l6-6M1062 751l6 6m-6 0l6-6M1062 752l6 6m-6 0l6-6M1063 751l6 6m-6 0l6-6M1063 757l6 6m-6 0l6-6M1064 754l6 6m-6 0l6-6M1064 761l6 6m-6 0l6-6M1065 752l6 6m-6 0l6-6M1065 760l6 6m-6 0l6-6M1065 758l6 6m-6 0l6-6M1066 753l6 6m-6 0l6-6M1066 755l6 6m-6 0l6-6M1067 758l6 6m-6 0l6-6M1067 757l6 6m-6 0l6-6M1068 754l6 6m-6 0l6-6M1068 751l6 6m-6 0l6-6M1069 752l6 6m-6 0l6-6M1069 751l6 6m-6 0l6-6M1070 761l6 6m-6 0l6-6M1070 750l6 6m-6 0l6-6M1071 756l6 6m-6 0l6-6M1071 766l6 6m-6 0l6-6M1071 751l6 6m-6 0l6-6M1072 761l6 6m-6 0l6-6M1072 760l6 6m-6 0l6-6M1073 758l6 6m-6 0l6-6M1073 755l6 6m-6 0l6-6M1074 746l6 6m-6 0l6-6M1074 752l6 6m-6 0l6-6M1075 751l6 6m-6 0l6-6M1075 758l6 6m-6 0l6-6M1076 756l6 6m-6 0l6-6M1076 744l6 6m-6 0l6-6M1076 739l6 6m-6 0l6-6M1077 743l6 6m-6 0l6-6M1077 755l6 6m-6 0l6-6M1078 748l6 6m-6 0l6-6M1078 748l6 6m-6 0l6-6M1079 753l6 6m-6 0l6-6M1079 752l6 6m-6 0l6-6M1080 755l6 6m-6 0l6-6M1080 751l6 6m-6 0l6-6M1081 752l6 6m-6 0l6-6M1081 757l6 6m-6 0l6-6M1082 757l6 6m-6 0l6-6M1082 759l6 6m-6 0l6-6M1082 758l6 6m-6 0l6-6M1083 763l6 6m-6 0l6-6M1083 763l6 6m-6 0l6-6M1084 762l6 6m-6 0l6-6M1084 765l6 6m-6 0l6-6M1085 763l6 6m-6 0l6-6M1085 755l6 6m-6 0l6-6M1086 757l6 6m-6 0l6-6M1086 763l6 6m-6 0l6-6M1087 769l6 6m-6 0l6-6M1087 762l6 6m-6 0l6-6M1087 763l6 6m-6 0l6-6M1088 772l6 6m-6 0l6-6M1088 775l6 6m-6 0l6-6M1089 765l6 6m-6 0l6-6M1089 766l6 6m-6 0l6-6M1090 771l6 6m-6 0l6-6M1090 769l6 6m-6 0l6-6M1091 768l6 6m-6 0l6-6M1091 762l6 6m-6 0l6-6M1092 778l6 6m-6 0l6-6M1092 771l6 6m-6 0l6-6M1093 777l6 6m-6 0l6-6M1093 776l6 6m-6 0l6-6M1093 776l6 6m-6 0l6-6M1094 767l6 6m-6 0l6-6M1094 775l6 6m-6 0l6-6M1095 774l6 6m-6 0l6-6M1095 774l6 6m-6 0l6-6M1096 770l6 6m-6 0l6-6M1096 769l6 6m-6 0l6-6M1097 775l6 6m-6 0l6-6M1097 777l6 6m-6 0l6-6M1098 780l6 6m-6 0l6-6M1098 777l6 6m-6 0l6-6M1098 769l6 6m-6 0l6-6M1099 776l6 6m-6 0l6-6M1099 776l6 6m-6 0l6-6M1100 775l6 6m-6 0l6-6M1100 775l6 6m-6 0l6-6M1101 783l6 6m-6 0l6-6M1101 777l6 6m-6 0l6-6M1102 781l6 6m-6 0l6-6M1102 784l6 6m-6 0l6-6M1103 780l6 6m-6 0l6-6M1103 780l6 6m-6 0l6-6M1104 780l6 6m-6 0l6-6M1104 790l6 6m-6 0l6-6M1104 783l6 6m-6 0l6-6M1105 780l6 6m-6 0l6-6M1105 788l6 6m-6 0l6-6M1106 774l6 6m-6 0l6-6M1106 791l6 6m-6 0l6-6M1107 787l6 6m-6 0l6-6M1107 788l6 6m-6 0l6-6M1108 789l6 6m-6 0l6-6M1108 788l6 6m-6 0l6-6M1109 790l6 6m-6 0l6-6M1109 779l6 6m-6 0l6-6M1109 790l6 6m-6 0l6-6M1110 787l6 6m-6 0l6-6M1110 784l6 6m-6 0l6-6M1111 787l6 6m-6 0l6-6M1111 791l6 6m-6 0l6-6M1112 795l6 6m-6 0l6-6M1112 792l6 6m-6 0l6-6M1113 792l6 6m-6 0l6-6M1113 804l6 6m-6 0l6-6M1114 799l6 6m-6 0l6-6M1114 793l6 6m-6 0l6-6M1115 793l6 6m-6 0l6-6M1115 798l6 6m-6 0l6-6M1115 801l6 6m-6 0l6-6M1116 795l6 6m-6 0l6-6M1116 798l6 6m-6 0l6-6M1117 803l6 6m-6 0l6-6M1117 791l6 6m-6 0l6-6M1118 797l6 6m-6 0l6-6M1118 797l6 6m-6 0l6-6M1119 791l6 6m-6 0l6-6M1119 796l6 6m-6 0l6-6M1120 799l6 6m-6 0l6-6M1120 792l6 6m-6 0l6-6M1120 791l6 6m-6 0l6-6M1121 797l6 6m-6 0l6-6M1121 792l6 6m-6 0l6-6M1122 787l6 6m-6 0l6-6M1122 790l6 6m-6 0l6-6M1123 792l6 6m-6 0l6-6M1123 783l6 6m-6 0l6-6M1124 781l6 6m-6 0l6-6M1124 786l6 6m-6 0l6-6M1125 787l6 6m-6 0l6-6M1125 797l6 6m-6 0l6-6M1125 787l6 6m-6 0l6-6M1126 795l6 6m-6 0l6-6M1126 786l6 6m-6 0l6-6M1127 787l6 6m-6 0l6-6M1127 786l6 6m-6 0l6-6M1128 791l6 6m-6 0l6-6M1128 782l6 6m-6 0l6-6M1129 782l6 6m-6 0l6-6M1129 781l6 6m-6 0l6-6M1130 787l6 6m-6 0l6-6M1130 782l6 6m-6 0l6-6M1131 785l6 6m-6 0l6-6M1131 788l6 6m-6 0l6-6M1131 781l6 6m-6 0l6-6M1132 788l6 6m-6 0l6-6M1132 783l6 6m-6 0l6-6M1133 785l6 6m-6 0l6-6M1133 787l6 6m-6 0l6-6M1134 783l6 6m-6 0l6-6M1134 786l6 6m-6 0l6-6M1135 782l6 6m-6 0l6-6M1135 778l6 6m-6 0l6-6M1136 783l6 6m-6 0l6-6M1136 774l6 6m-6 0l6-6M1136 782l6 6m-6 0l6-6M1137 786l6 6m-6 0l6-6M1137 781l6 6m-6 0l6-6M1138 790l6 6m-6 0l6-6M1138 779l6 6m-6 0l6-6M1139 782l6 6m-6 0l6-6M1139 779l6 6m-6 0l6-6M1140 779l6 6m-6 0l6-6M1140 776l6 6m-6 0l6-6M1141 785l6 6m-6 0l6-6M1141 779l6 6m-6 0l6-6M1142 778l6 6m-6 0l6-6M1142 784l6 6m-6 0l6-6M1142 782l6 6m-6 0l6-6M1143 776l6 6m-6 0l6-6M1143 781l6 6m-6 0l6-6M1144 784l6 6m-6 0l6-6M1144 779l6 6m-6 0l6-6M1145 772l6 6m-6 0l6-6M1145 777l6 6m-6 0l6-6M1146 774l6 6m-6 0l6-6M1146 772l6 6m-6 0l6-6M1147 777l6 6m-6 0l6-6M1147 778l6 6m-6 0l6-6M1147 767l6 6m-6 0l6-6M1148 772l6 6m-6 0l6-6M1148 770l6 6m-6 0l6-6M1149 774l6 6m-6 0l6-6M1149 769l6 6m-6 0l6-6M1150 766l6 6m-6 0l6-6M1150 777l6 6m-6 0l6-6M1151 771l6 6m-6 0l6-6M1151 778l6 6m-6 0l6-6M1152 772l6 6m-6 0l6-6M1152 773l6 6m-6 0l6-6M1153 766l6 6m-6 0l6-6M1153 768l6 6m-6 0l6-6M1153 772l6 6m-6 0l6-6M1154 774l6 6m-6 0l6-6M1154 777l6 6m-6 0l6-6M1155 767l6 6m-6 0l6-6M1155 766l6 6m-6 0l6-6M1156 773l6 6m-6 0l6-6M1156 775l6 6m-6 0l6-6M1157 773l6 6m-6 0l6-6M1157 772l6 6m-6 0l6-6M1158 772l6 6m-6 0l6-6M1158 764l6 6m-6 0l6-6M1158 769l6 6m-6 0l6-6M1159 765l6 6m-6 0l6-6M1159 777l6 6m-6 0l6-6M1160 772l6 6m-6 0l6-6M1160 767l6 6m-6 0l6-6M1161 765l6 6m-6 0l6-6M1161 765l6 6m-6 0l6-6M1162 769l6 6m-6 0l6-6M1162 765l6 6m-6 0l6-6M1163 767l6 6m-6 0l6-6M1163 765l6 6m-6 0l6-6M1164 773l6 6m-6 0l6-6M1164 774l6 6m-6 0l6-6M1164 766l6 6m-6 0l6-6M1165 772l6 6m-6 0l6-6M1165 771l6 6m-6 0l6-6M1166 776l6 6m-6 0l6-6M1166 778l6 6m-6 0l6-6M1167 773l6 6m-6 0l6-6M1167 777l6 6m-6 0l6-6M1168 780l6 6m-6 0l6-6M1168 772l6 6m-6 0l6-6M1169 776l6 6m-6 0l6-6M1169 772l6 6m-6 0l6-6M1169 779l6 6m-6 0l6-6M1170 771l6 6m-6 0l6-6M1170 782l6 6m-6 0l6-6M1171 777l6 6m-6 0l6-6M1171 781l6 6m-6 0l6-6M1172 788l6 6m-6 0l6-6M1172 777l6 6m-6 0l6-6M1173 774l6 6m-6 0l6-6M1173 774l6 6m-6 0l6-6M1174 783l6 6m-6 0l6-6M1174 775l6 6m-6 0l6-6M1175 776l6 6m-6 0l6-6M1175 782l6 6m-6 0l6-6M1175 785l6 6m-6 0l6-6M1176 781l6 6m-6 0l6-6M1176 788l6 6m-6 0l6-6M1177 785l6 6m-6 0l6-6M1177 782l6 6m-6 0l6-6M1178 783l6 6m-6 0l6-6M1178 782l6 6m-6 0l6-6M1179 782l6 6m-6 0l6-6M1179 785l6 6m-6 0l6-6M1180 782l6 6m-6 0l6-6M1180 775l6 6m-6 0l6-6M1180 775l6 6m-6 0l6-6M1181 778l6 6m-6 0l6-6M1181 782l6 6m-6 0l6-6M1182 777l6 6m-6 0l6-6M1182 783l6 6m-6 0l6-6M1183 785l6 6m-6 0l6-6M1183 790l6 6m-6 0l6-6M1184 781l6 6m-6 0l6-6M1184 781l6 6m-6 0l6-6M1185 781l6 6m-6 0l6-6M1185 781l6 6m-6 0l6-6M1186 783l6 6m-6 0l6-6M1186 791l6 6m-6 0l6-6M1186 775l6 6m-6 0l6-6M1187 788l6 6m-6 0l6-6M1187 790l6 6m-6 0l6-6M1188 794l6 6m-6 0l6-6M1188 793l6 6m-6 0l6-6M1189 790l6 6m-6 0l6-6M1189 781l6 6m-6 0l6-6M1190 788l6 6m-6 0l6-6M1190 790l6 6m-6 0l6-6M1191 787l6 6m-6 0l6-6M1191 793l6 6m-6 0l6-6M1191 787l6 6m-6 0l6-6M1192 784l6 6m-6 0l6-6M1192 787l6 6m-6 0l6-6M1193 790l6 6m-6 0l6-6M1193 785l6 6m-6 0l6-6M1194 784l6 6m-6 0l6-6M1194 784l6 6m-6 0l6-6M1195 788l6 6m-6 0l6-6M1195 788l6 6m-6 0l6-6M1196 783l6 6m-6 0l6-6M1196 782l6 6m-6 0l6-6M1197 789l6 6m-6 0l6-6M1197 795l6 6m-6 0l6-6M1197 797l6 6m-6 0l6-6M1198 795l6 6m-6 0l6-6M1198 780l6 6m-6 0l6-6M1199 783l6 6m-6 0l6-6M1199 782l6 6m-6 0l6-6M1200 779l6 6m-6 0l6-6M1200 779l6 6m-6 0l6-6M1201 781l6 6m-6 0l6-6M1201 783l6 6m-6 0l6-6M1202 788l6 6m-6 0l6-6M1202 787l6 6m-6 0l6-6M1202 781l6 6m-6 0l6-6M1203 782l6 6m-6 0l6-6M1203 786l6 6m-6 0l6-6M1204 785l6 6m-6 0l6-6M1204 781l6 6m-6 0l6-6M1205 784l6 6m-6 0l6-6M1205 776l6 6m-6 0l6-6M1206 788l6 6m-6 0l6-6M1206 776l6 6m-6 0l6-6M1207 783l6 6m-6 0l6-6M1207 763l6 6m-6 0l6-6M1208 779l6 6m-6 0l6-6M1208 773l6 6m-6 0l6-6M1208 778l6 6m-6 0l6-6M1209 779l6 6m-6 0l6-6M1209 776l6 6m-6 0l6-6M1210 784l6 6m-6 0l6-6M1210 782l6 6m-6 0l6-6M1211 776l6 6m-6 0l6-6M1211 783l6 6m-6 0l6-6M1212 775l6 6m-6 0l6-6M1212 775l6 6m-6 0l6-6M1213 779l6 6m-6 0l6-6M1213 782l6 6m-6 0l6-6M1213 774l6 6m-6 0l6-6M1214 778l6 6m-6 0l6-6M1214 774l6 6m-6 0l6-6M1215 780l6 6m-6 0l6-6M1215 775l6 6m-6 0l6-6M1216 780l6 6m-6 0l6-6M1216 769l6 6m-6 0l6-6M1217 777l6 6m-6 0l6-6M1217 783l6 6m-6 0l6-6M1218 780l6 6m-6 0l6-6M1218 773l6 6m-6 0l6-6M1218 780l6 6m-6 0l6-6M1219 776l6 6m-6 0l6-6M1219 780l6 6m-6 0l6-6M1220 780l6 6m-6 0l6-6M1220 788l6 6m-6 0l6-6M1221 780l6 6m-6 0l6-6M1221 775l6 6m-6 0l6-6M1222 784l6 6m-6 0l6-6M1222 774l6 6m-6 0l6-6M1223 773l6 6m-6 0l6-6M1223 775l6 6m-6 0l6-6M1224 776l6 6m-6 0l6-6M1224 781l6 6m-6 0l6-6M1224 769l6 6m-6 0l6-6M1225 774l6 6m-6 0l6-6M1225 780l6 6m-6 0l6-6M1226 777l6 6m-6 0l6-6M1226 775l6 6m-6 0l6-6M1227 769l6 6m-6 0l6-6M1227 777l6 6m-6 0l6-6M1228 772l6 6m-6 0l6-6M1228 780l6 6m-6 0l6-6M1229 763l6 6m-6 0l6-6M1229 774l6 6m-6 0l6-6M1229 776l6 6m-6 0l6-6M1230 780l6 6m-6 0l6-6M1230 774l6 6m-6 0l6-6M1231 771l6 6m-6 0l6-6M1231 775l6 6m-6 0l6-6M1232 772l6 6m-6 0l6-6M1232 773l6 6m-6 0l6-6M1233 765l6 6m-6 0l6-6M1233 773l6 6m-6 0l6-6M1234 774l6 6m-6 0l6-6M1234 775l6 6m-6 0l6-6M1235 776l6 6m-6 0l6-6M1235 782l6 6m-6 0l6-6M1235 782l6 6m-6 0l6-6M1236 779l6 6m-6 0l6-6M1236 776l6 6m-6 0l6-6M1237 782l6 6m-6 0l6-6M1237 778l6 6m-6 0l6-6M1238 776l6 6m-6 0l6-6M1238 775l6 6m-6 0l6-6M1239 776l6 6m-6 0l6-6M1239 782l6 6m-6 0l6-6M1240 782l6 6m-6 0l6-6M1240 782l6 6m-6 0l6-6M1240 778l6 6m-6 0l6-6M1241 774l6 6m-6 0l6-6M1241 776l6 6m-6 0l6-6M1242 779l6 6m-6 0l6-6M1242 777l6 6m-6 0l6-6M1243 785l6 6m-6 0l6-6M1243 774l6 6m-6 0l6-6M1244 783l6 6m-6 0l6-6M1244 775l6 6m-6 0l6-6M1245 778l6 6m-6 0l6-6M1245 778l6 6m-6 0l6-6M1246 783l6 6m-6 0l6-6M1246 782l6 6m-6 0l6-6M1246 777l6 6m-6 0l6-6M1247 776l6 6m-6 0l6-6M1247 778l6 6m-6 0l6-6M1248 782l6 6m-6 0l6-6M1248 777l6 6m-6 0l6-6M1249 781l6 6m-6 0l6-6M1249 781l6 6m-6 0l6-6M1250 780l6 6m-6 0l6-6M1250 779l6 6m-6 0l6-6M1251 771l6 6m-6 0l6-6M1251 776l6 6m-6 0l6-6M1251 780l6 6m-6 0l6-6M1252 774l6 6m-6 0l6-6M1252 777l6 6m-6 0l6-6M1253 781l6 6m-6 0l6-6M1253 782l6 6m-6 0l6-6M1254 776l6 6m-6 0l6-6M1254 780l6 6m-6 0l6-6M1255 780l6 6m-6 0l6-6M1255 771l6 6m-6 0l6-6M1256 778l6 6m-6 0l6-6M1256 775l6 6m-6 0l6-6M1257 771l6 6m-6 0l6-6M1257 780l6 6m-6 0l6-6M1257 780l6 6m-6 0l6-6M1258 779l6 6m-6 0l6-6M1258 776l6 6m-6 0l6-6M1259 781l6 6m-6 0l6-6M1259 783l6 6m-6 0l6-6M1260 781l6 6m-6 0l6-6M1260 776l6 6m-6 0l6-6M1261 784l6 6m-6 0l6-6M1261 780l6 6m-6 0l6-6M1262 780l6 6m-6 0l6-6M1262 784l6 6m-6 0l6-6M1262 785l6 6m-6 0l6-6M1263 787l6 6m-6 0l6-6M1263 770l6 6m-6 0l6-6M1264 787l6 6m-6 0l6-6M1264 772l6 6m-6 0l6-6M1265 782l6 6m-6 0l6-6M1265 774l6 6m-6 0l6-6M1266 781l6 6m-6 0l6-6M1266 784l6 6m-6 0l6-6M1267 785l6 6m-6 0l6-6M1267 777l6 6m-6 0l6-6M1268 767l6 6m-6 0l6-6M1268 775l6 6m-6 0l6-6M1268 775l6 6m-6 0l6-6M1269 776l6 6m-6 0l6-6M1269 780l6 6m-6 0l6-6M1270 772l6 6m-6 0l6-6M1270 777l6 6m-6 0l6-6M1271 773l6 6m-6 0l6-6M1271 773l6 6m-6 0l6-6M1272 778l6 6m-6 0l6-6M1272 779l6 6m-6 0l6-6M1273 779l6 6m-6 0l6-6M1273 775l6 6m-6 0l6-6M1273 781l6 6m-6 0l6-6M1274 774l6 6m-6 0l6-6M1274 789l6 6m-6 0l6-6M1275 784l6 6m-6 0l6-6M1275 773l6 6m-6 0l6-6M1276 778l6 6m-6 0l6-6M1276 779l6 6m-6 0l6-6M1277 782l6 6m-6 0l6-6M1277 780l6 6m-6 0l6-6M1278 782l6 6m-6 0l6-6M1278 779l6 6m-6 0l6-6M1279 780l6 6m-6 0l6-6M1279 787l6 6m-6 0l6-6M1279 780l6 6m-6 0l6-6M1280 783l6 6m-6 0l6-6M1280 781l6 6m-6 0l6-6M1281 787l6 6m-6 0l6-6M1281 782l6 6m-6 0l6-6M1282 783l6 6m-6 0l6-6M1282 784l6 6m-6 0l6-6M1283 785l6 6m-6 0l6-6M1283 788l6 6m-6 0l6-6M1284 787l6 6m-6 0l6-6M1284 786l6 6m-6 0l6-6M1284 783l6 6m-6 0l6-6M1285 785l6 6m-6 0l6-6M1285 782l6 6m-6 0l6-6M1286 784l6 6m-6 0l6-6M1286 785l6 6m-6 0l6-6M1287 794l6 6m-6 0l6-6M1287 791l6 6m-6 0l6-6M1288 784l6 6m-6 0l6-6M1288 789l6 6m-6 0l6-6M1289 793l6 6m-6 0l6-6M1289 790l6 6m-6 0l6-6M1290 796l6 6m-6 0l6-6M1290 784l6 6m-6 0l6-6M1290 789l6 6m-6 0l6-6M1291 780l6 6m-6 0l6-6M1291 793l6 6m-6 0l6-6M1292 788l6 6m-6 0l6-6M1292 792l6 6m-6 0l6-6M1293 798l6 6m-6 0l6-6M1293 794l6 6m-6 0l6-6M1294 792l6 6m-6 0l6-6M1294 792l6 6m-6 0l6-6M1295 800l6 6m-6 0l6-6M1295 802l6 6m-6 0l6-6M1295 794l6 6m-6 0l6-6M1296 801l6 6m-6 0l6-6M1296 794l6 6m-6 0l6-6M1297 789l6 6m-6 0l6-6M1297 796l6 6m-6 0l6-6M1298 796l6 6m-6 0l6-6M1298 801l6 6m-6 0l6-6M1299 802l6 6m-6 0l6-6M1299 796l6 6m-6 0l6-6M1300 798l6 6m-6 0l6-6M1300 802l6 6m-6 0l6-6M1301 793l6 6m-6 0l6-6M1301 804l6 6m-6 0l6-6M1301 805l6 6m-6 0l6-6M1302 803l6 6m-6 0l6-6M1302 796l6 6m-6 0l6-6M1303 800l6 6m-6 0l6-6M1303 799l6 6m-6 0l6-6M1304 801l6 6m-6 0l6-6M1304 810l6 6m-6 0l6-6M1305 794l6 6m-6 0l6-6M1305 801l6 6m-6 0l6-6M1306 808l6 6m-6 0l6-6M1306 801l6 6m-6 0l6-6M1306 815l6 6m-6 0l6-6M1307 809l6 6m-6 0l6-6M1307 809l6 6m-6 0l6-6M1308 809l6 6m-6 0l6-6M1308 805l6 6m-6 0l6-6M1309 810l6 6m-6 0l6-6M1309 809l6 6m-6 0l6-6M1310 807l6 6m-6 0l6-6M1310 805l6 6m-6 0l6-6M1311 807l6 6m-6 0l6-6M1311 814l6 6m-6 0l6-6M1311 804l6 6m-6 0l6-6M1312 807l6 6m-6 0l6-6M1312 809l6 6m-6 0l6-6M1313 802l6 6m-6 0l6-6M1313 805l6 6m-6 0l6-6M1314 809l6 6m-6 0l6-6M1314 813l6 6m-6 0l6-6M1315 807l6 6m-6 0l6-6M1315 805l6 6m-6 0l6-6M1316 806l6 6m-6 0l6-6M1316 800l6 6m-6 0l6-6M1317 809l6 6m-6 0l6-6M1317 808l6 6m-6 0l6-6M1317 806l6 6m-6 0l6-6M1318 806l6 6m-6 0l6-6M1318 806l6 6m-6 0l6-6M1319 801l6 6m-6 0l6-6M1319 815l6 6m-6 0l6-6M1320 803l6 6m-6 0l6-6M1320 808l6 6m-6 0l6-6M1321 809l6 6m-6 0l6-6M1321 802l6 6m-6 0l6-6M1322 805l6 6m-6 0l6-6M1322 802l6 6m-6 0l6-6M1322 797l6 6m-6 0l6-6M1323 794l6 6m-6 0l6-6M1323 800l6 6m-6 0l6-6M1324 805l6 6m-6 0l6-6M1324 802l6 6m-6 0l6-6M1325 798l6 6m-6 0l6-6M1325 800l6 6m-6 0l6-6M1326 792l6 6m-6 0l6-6M1326 796l6 6m-6 0l6-6M1327 796l6 6m-6 0l6-6M1327 802l6 6m-6 0l6-6M1328 801l6 6m-6 0l6-6M1328 796l6 6m-6 0l6-6M1328 793l6 6m-6 0l6-6M1329 795l6 6m-6 0l6-6M1329 801l6 6m-6 0l6-6M1330 792l6 6m-6 0l6-6M1330 794l6 6m-6 0l6-6M1331 796l6 6m-6 0l6-6M1331 798l6 6m-6 0l6-6M1332 785l6 6m-6 0l6-6M1332 792l6 6m-6 0l6-6M1333 787l6 6m-6 0l6-6M1333 789l6 6m-6 0l6-6M1333 794l6 6m-6 0l6-6M1334 784l6 6m-6 0l6-6M1334 792l6 6m-6 0l6-6M1335 793l6 6m-6 0l6-6M1335 797l6 6m-6 0l6-6M1336 795l6 6m-6 0l6-6M1336 790l6 6m-6 0l6-6M1337 791l6 6m-6 0l6-6M1337 796l6 6m-6 0l6-6M1338 794l6 6m-6 0l6-6M1338 791l6 6m-6 0l6-6M1339 777l6 6m-6 0l6-6M1339 793l6 6m-6 0l6-6M1339 789l6 6m-6 0l6-6M1340 795l6 6m-6 0l6-6M1340 794l6 6m-6 0l6-6M1341 796l6 6m-6 0l6-6M1341 792l6 6m-6 0l6-6M1342 794l6 6m-6 0l6-6M1342 793l6 6m-6 0l6-6M1343 789l6 6m-6 0l6-6M1343 795l6 6m-6 0l6-6M1344 793l6 6m-6 0l6-6M1344 797l6 6m-6 0l6-6M1344 801l6 6m-6 0l6-6M1345 802l6 6m-6 0l6-6M1345 800l6 6m-6 0l6-6M1346 800l6 6m-6 0l6-6M1346 799l6 6m-6 0l6-6M1347 795l6 6m-6 0l6-6M1347 801l6 6m-6 0l6-6M1348 800l6 6m-6 0l6-6M1348 796l6 6m-6 0l6-6M1349 799l6 6m-6 0l6-6M1349 793l6 6m-6 0l6-6M1350 799l6 6m-6 0l6-6M1350 796l6 6m-6 0l6-6M1350 796l6 6m-6 0l6-6M1351 797l6 6m-6 0l6-6M1351 799l6 6m-6 0l6-6M1352 802l6 6m-6 0l6-6M1352 802l6 6m-6 0l6-6M1353 801l6 6m-6 0l6-6M1353 813l6 6m-6 0l6-6M1354 796l6 6m-6 0l6-6M1354 801l6 6m-6 0l6-6M1355 808l6 6m-6 0l6-6M1355 810l6 6m-6 0l6-6M1355 803l6 6m-6 0l6-6M1356 806l6 6m-6 0l6-6M1356 802l6 6m-6 0l6-6M1357 807l6 6m-6 0l6-6M1357 806l6 6m-6 0l6-6M1358 803l6 6m-6 0l6-6M1358 809l6 6m-6 0l6-6M1359 809l6 6m-6 0l6-6M1359 810l6 6m-6 0l6-6M1360 795l6 6m-6 0l6-6M1360 802l6 6m-6 0l6-6M1361 808l6 6m-6 0l6-6M1361 805l6 6m-6 0l6-6M1361 802l6 6m-6 0l6-6M1362 805l6 6m-6 0l6-6M1362 805l6 6m-6 0l6-6M1363 804l6 6m-6 0l6-6M1363 799l6 6m-6 0l6-6M1364 797l6 6m-6 0l6-6M1364 797l6 6m-6 0l6-6M1365 794l6 6m-6 0l6-6M1365 795l6 6m-6 0l6-6M1366 799l6 6m-6 0l6-6M1366 793l6 6m-6 0l6-6M1366 787l6 6m-6 0l6-6M1367 799l6 6m-6 0l6-6M1367 794l6 6m-6 0l6-6M1368 792l6 6m-6 0l6-6M1368 794l6 6m-6 0l6-6M1369 791l6 6m-6 0l6-6M1369 800l6 6m-6 0l6-6M1370 794l6 6m-6 0l6-6M1370 793l6 6m-6 0l6-6M1371 792l6 6m-6 0l6-6M1371 795l6 6m-6 0l6-6M1372 792l6 6m-6 0l6-6M1372 790l6 6m-6 0l6-6M1372 791l6 6m-6 0l6-6M1373 787l6 6m-6 0l6-6M1373 793l6 6m-6 0l6-6M1374 795l6 6m-6 0l6-6M1374 786l6 6m-6 0l6-6M1375 789l6 6m-6 0l6-6M1375 792l6 6m-6 0l6-6M1376 786l6 6m-6 0l6-6M1376 788l6 6m-6 0l6-6M1377 792l6 6m-6 0l6-6M1377 790l6 6m-6 0l6-6M1377 790l6 6m-6 0l6-6M1378 781l6 6m-6 0l6-6M1378 794l6 6m-6 0l6-6M1379 789l6 6m-6 0l6-6M1379 790l6 6m-6 0l6-6M1380 799l6 6m-6 0l6-6M1380 795l6 6m-6 0l6-6M1381 784l6 6m-6 0l6-6M1381 796l6 6m-6 0l6-6M1382 777l6 6m-6 0l6-6M1382 787l6 6m-6 0l6-6M1383 783l6 6m-6 0l6-6M1383 793l6 6m-6 0l6-6M1383 787l6 6m-6 0l6-6M1384 789l6 6m-6 0l6-6M1384 792l6 6m-6 0l6-6M1385 789l6 6m-6 0l6-6M1385 781l6 6m-6 0l6-6M1386 794l6 6m-6 0l6-6M1386 787l6 6m-6 0l6-6M1387 782l6 6m-6 0l6-6M1387 787l6 6m-6 0l6-6M1388 786l6 6m-6 0l6-6M1388 783l6 6m-6 0l6-6M1388 786l6 6m-6 0l6-6M1389 788l6 6m-6 0l6-6M1389 793l6 6m-6 0l6-6M1390 789l6 6m-6 0l6-6M1390 786l6 6m-6 0l6-6M1391 795l6 6m-6 0l6-6M1391 787l6 6m-6 0l6-6M1392 795l6 6m-6 0l6-6M1392 785l6 6m-6 0l6-6M1393 777l6 6m-6 0l6-6M1393 787l6 6m-6 0l6-6M1394 781l6 6m-6 0l6-6M1394 781l6 6m-6 0l6-6M1394 783l6 6m-6 0l6-6M1395 782l6 6m-6 0l6-6M1395 781l6 6m-6 0l6-6M1396 779l6 6m-6 0l6-6M1396 774l6 6m-6 0l6-6M1397 780l6 6m-6 0l6-6M1397 781l6 6m-6 0l6-6M1398 776l6 6m-6 0l6-6M1398 777l6 6m-6 0l6-6M1399 776l6 6m-6 0l6-6M1399 765l6 6m-6 0l6-6M1399 764l6 6m-6 0l6-6M1400 769l6 6m-6 0l6-6M1400 775l6 6m-6 0l6-6M1401 764l6 6m-6 0l6-6M1401 775l6 6m-6 0l6-6M1402 768l6 6m-6 0l6-6M1402 769l6 6m-6 0l6-6M1403 766l6 6m-6 0l6-6M1403 765l6 6m-6 0l6-6M1404 766l6 6m-6 0l6-6M1404 763l6 6m-6 0l6-6M1404 761l6 6m-6 0l6-6M1405 762l6 6m-6 0l6-6M1405 762l6 6m-6 0l6-6M1406 762l6 6m-6 0l6-6M1406 760l6 6m-6 0l6-6M1407 762l6 6m-6 0l6-6M1407 762l6 6m-6 0l6-6M1408 766l6 6m-6 0l6-6M1408 766l6 6m-6 0l6-6M1409 763l6 6m-6 0l6-6M1409 762l6 6m-6 0l6-6M1410 755l6 6m-6 0l6-6M1410 757l6 6m-6 0l6-6M1410 762l6 6m-6 0l6-6M1411 760l6 6m-6 0l6-6M1411 765l6 6m-6 0l6-6M1412 766l6 6m-6 0l6-6M1412 765l6 6m-6 0l6-6M1413 756l6 6m-6 0l6-6M1413 757l6 6m-6 0l6-6M1414 758l6 6m-6 0l6-6M1414 765l6 6m-6 0l6-6M1415 762l6 6m-6 0l6-6M1415 760l6 6m-6 0l6-6M1415 757l6 6m-6 0l6-6M1416 761l6 6m-6 0l6-6M1416 760l6 6m-6 0l6-6M1417 767l6 6m-6 0l6-6M1417 770l6 6m-6 0l6-6M1418 755l6 6m-6 0l6-6M1418 755l6 6m-6 0l6-6M1419 763l6 6m-6 0l6-6"/>
<path fill="none" stroke="#000" stroke-width="1" shape-rendering="crispEdges" d="M160 1151l6 6m-6 0l6-6M160 1190l6 6m-6 0l6-6M160 1264l6 6m-6 0l6-6M161 1217l6 6m-6 0l6-6M161 1257l6 6m-6 0l6-6M162 1201l6 6m-6 0l6-6M162 1118l6 6m-6 0l6-6M163 1169l6 6m-6 0l6-6M163 1144l6 6m-6 0l6-6M164 1180l6 6m-6 0l6-6M164 1159l6 6m-6 0l6-6M165 1163l6 6m-6 0l6-6M165 1212l6 6m-6 0l6-6M166 1214l6 6m-6 0l6-6M166 1270l6 6m-6 0l6-6M167 1173l6 6m-6 0l6-6M167 1187l6 6m-6 0l6-6M168 1218l6 6m-6 0l6-6M168 1190l6 6m-6 0l6-6M168 1160l6 6m-6 0l6-6M169 1172l6 6m-6 0l6-6M169 1104l6 6m-6 0l6-6M170 1143l6 6m-6 0l6-6M170 1190l6 6m-6 0l6-6M171 1183l6 6m-6 0l6-6M171 1147l6 6m-6 0l6-6M172 1169l6 6m-6 0l6-6M172 1196l6 6m-6 0l6-6M173 1239l6 6m-6 0l6-6M173 1191l6 6m-6 0l6-6M174 1133l6 6m-6 0l6-6M174 1228l6 6m-6 0l6-6M175 1137l6 6m-6 0l6-6M175 1073l6 6m-6 0l6-6M176 1205l6 6m-6 0l6-6M176 1270l6 6m-6 0l6-6M176 1103l6 6m-6 0l6-6M177 1090l6 6m-6 0l6-6M177 1147l6 6m-6 0l6-6M178 1208l6 6m-6 0l6-6M178 1164l6 6m-6 0l6-6M179 1161l6 6m-6 0l6-6M179 1149l6 6m-6 0l6-6M180 1204l6 6m-6 0l6-6M180 1230l6 6m-6 0l6-6M181 1171l6 6m-6 0l6-6M181 1245l6 6m-6 0l6-6M182 1169l6 6m-6 0l6-6M182 1202l6 6m-6 0l6-6M183 1180l6 6m-6 0l6-6M183 1162l6 6m-6 0l6-6M184 1172l6 6m-6 0l6-6M184 1075l6 6m-6 0l6-6M184 1185l6 6m-6 0l6-6M185 1267l6 6m-6 0l6-6M185 1250l6 6m-6 0l6-6M186 1218l6 6m-6 0l6-6M186 1202l6 6m-6 0l6-6M187 1122l6 6m-6 0l6-6M187 1208l6 6m-6 0l6-6M188 1120l6 6m-6 0l6-6M188 1201l6 6m-6 0l6-6M189 1230l6 6m-6 0l6-6M189 1101l6 6m-6 0l6-6M190 1161l6 6m-6 0l6-6M190 1222l6 6m-6 0l6-6M191 1193l6 6m-6 0l6-6M191 1178l6 6m-6 0l6-6M192 1243l6 6m-6 0l6-6M192 1250l6 6m-6 0l6-6M192 1158l6 6m-6 0l6-6M193 1099l6 6m-6 0l6-6M193 1158l6 6m-6 0l6-6M194 1188l6 6m-6 0l6-6M194 1143l6 6m-6 0l6-6M195 1234l6 6m-6 0l6-6M195 1154l6 6m-6 0l6-6M196 1236l6 6m-6 0l6-6M196 1154l6 6m-6 0l6-6M197 1145l6 6m-6 0l6-6M197 1145l6 6m-6 0l6-6M198 1178l6 6m-6 0l6-6M198 1212l6 6m-6 0l6-6M199 1202l6 6m-6 0l6-6M199 1139l6 6m-6 0l6-6M200 1181l6 6m-6 0l6-6M200 1072l6 6m-6 0l6-6M200 1142l6 6m-6 0l6-6M201 1073l6 6m-6 0l6-6M201 1164l6 6m-6 0l6-6M202 1268l6 6m-6 0l6-6M202 1213l6 6m-6 0l6-6M203 1129l6 6m-6 0l6-6M203 1205l6 6m-6 0l6-6M204 1201l6 6m-6 0l6-6M204 1149l6 6m-6 0l6-6M205 1169l6 6m-6 0l6-6M205 1117l6 6m-6 0l6-6M206 1246l6 6m-6 0l6-6M206 1172l6 6m-6 0l6-6M207 1116l6 6m-6 0l6-6M207 1095l6 6m-6 0l6-6M208 1242l6 6m-6 0l6-6M208 1101l6 6m-6 0l6-6M208 1159l6 6m-6 0l6-6M209 1136l6 6m-6 0l6-6M209 1148l6 6m-6 0l6-6M210 1184l6 6m-6 0l6-6M210 1205l6 6m-6 0l6-6M211 1150l6 6m-6 0l6-6M211 1153l6 6m-6 0l6-6M212 1202l6 6m-6 0l6-6M212 1188l6 6m-6 0l6-6M213 1222l6 6m-6 0l6-6M213 1108l6 6m-6 0l6-6M214 1226l6 6m-6 0l6-6M214 1234l6 6m-6 0l6-6M215 1119l6 6m-6 0l6-6M215 1175l6 6m-6 0l6-6M216 1197l6 6m-6 0l6-6M216 1187l6 6m-6 0l6-6M216 1225l6 6m-6 0l6-6M217 1243l6 6m-6 0l6-6M217 1237l6 6m-6 0l6-6M218 1128l6 6m-6 0l6-6M218 1250l6 6m-6 0l6-6M219 1225l6 6m-6 0l6-6M219 1141l6 6m-6 0l6-6M220 1134l6 6m-6 0l6-6M220 1208l6 6m-6 0l6-6M221 1151l6 6m-6 0l6-6M221 1151l6 6m-6 0l6-6M222 1130l6 6m-6 0l6-6M222 1231l6 6m-6 0l6-6M223 1160l6 6m-6 0l6-6M223 1232l6 6m-6 0l6-6M224 1120l6 6m-6 0l6-6M224 1144l6 6m-6 0l6-6M224 1190l6 6m-6 0l6-6M225 1218l6 6m-6 0l6-6M225 1275l6 6m-6 0l6-6M226 1187l6 6m-6 0l6-6M226 1164l6 6m-6 0l6-6M227 1124l6 6m-6 0l6-6M227 1247l6 6m-6 0l6-6M228 1188l6 6m-6 0l6-6M228 1196l6 6m-6 0l6-6M229 1193l6 6m-6 0l6-6M229 1195l6 6m-6 0l6-6M230 1177l6 6m-6 0l6-6M230 1192l6 6m-6 0l6-6M231 1194l6 6m-6 0l6-6M231 1191l6 6m-6 0l6-6M232 1224l6 6m-6 0l6-6M232 1202l6 6m-6 0l6-6M232 1113l6 6m-6 0l6-6M233 1121l6 6m-6 0l6-6M233 1145l6 6m-6 0l6-6M234 1186l6 6m-6 0l6-6M234 1213l6 6m-6 0l6-6M235 1223l6 6m-6 0l6-6M235 1204l6 6m-6 0l6-6M236 1180l6 6m-6 0l6-6M236 1127l6 6m-6 0l6-6M237 1195l6 6m-6 0l6-6M237 1202l6 6m-6 0l6-6M238 1137l6 6m-6 0l6-6M238 1206l6 6m-6 0l6-6M239 1199l6 6m-6 0l6-6M239 1145l6 6m-6 0l6-6M240 1198l6 6m-6 0l6-6M240 1197l6 6m-6 0l6-6M240 1153l6 6m-6 0l6-6M241 1176l6 6m-6 0l6-6M241 1185l6 6m-6 0l6-6M242 1168l6 6m-6 0l6-6M242 1098l6 6m-6 0l6-6M243 1191l6 6m-6 0l6-6M243 1111l6 6m-6 0l6-6M244 1215l6 6m-6 0l6-6M244 1196l6 6m-6 0l6-6M245 1230l6 6m-6 0l6-6M245 1188l6 6m-6 0l6-6M246 1160l6 6m-6 0l6-6M246 1177l6 6m-6 0l6-6M247 1128l6 6m-6 0l6-6M247 1217l6 6m-6 0l6-6M248 1201l6 6m-6 0l6-6M248 1180l6 6m-6 0l6-6M248 1241l6 6m-6 0l6-6M249 1116l6 6m-6 0l6-6M249 1189l6 6m-6 0l6-6M250 1132l6 6m-6 0l6-6M250 1099l6 6m-6 0l6-6M251 1162l6 6m-6 0l6-6M251 1138l6 6m-6 0l6-6M252 1250l6 6m-6 0l6-6M252 1154l6 6m-6 0l6-6M253 1106l6 6m-6 0l6-6M253 1259l6 6m-6 0l6-6M254 1210l6 6m-6 0l6-6M254 1222l6 6m-6 0l6-6M255 1200l6 6m-6 0l6-6M255 1203l6 6m-6 0l6-6M256 1240l6 6m-6 0l6-6M256 1239l6 6m-6 0l6-6M256 1162l6 6m-6 0l6-6M257 1238l6 6m-6 0l6-6M257 1064l6 6m-6 0l6-6M258 1168l6 6m-6 0l6-6M258 1165l6 6m-6 0l6-6M259 1172l6 6m-6 0l6-6M259 1198l6 6m-6 0l6-6M260 1186l6 6m-6 0l6-6M260 1251l6 6m-6 0l6-6M261 1088l6 6m-6 0l6-6M261 1146l6 6m-6 0l6-6M262 1203l6 6m-6 0l6-6M262 1198l6 6m-6 0l6-6M263 1127l6 6m-6 0l6-6M263 1165l6 6m-6 0l6-6M264 1156l6 6m-6 0l6-6M264 1177l6 6m-6 0l6-6M264 1173l6 6m-6 0l6-6M265 1117l6 6m-6 0l6-6M265 1141l6 6m-6 0l6-6M266 1118l6 6m-6 0l6-6M266 1175l6 6m-6 0l6-6M267 1230l6 6m-6 0l6-6M267 1245l6 6m-6 0l6-6M268 1222l6 6m-6 0l6-6M268 1188l6 6m-6 0l6-6M269 1093l6 6m-6 0l6-6M269 1187l6 6m-6 0l6-6M270 1103l6 6m-6 0l6-6M270 1126l6 6m-6 0l6-6M271 1141l6 6m-6 0l6-6M271 1181l6 6m-6 0l6-6M272 1178l6 6m-6 0l6-6M272 1112l6 6m-6 0l6-6M272 1086l6 6m-6 0l6-6M273 1189l6 6m-6 0l6-6M273 1171l6 6m-6 0l6-6M274 1100l6 6m-6 0l6-6M274 1196l6 6m-6 0l6-6M275 1122l6 6m-6 0l6-6M275 1208l6 6m-6 0l6-6M276 1222l6 6m-6 0l6-6M276 1262l6 6m-6 0l6-6M277 1187l6 6m-6 0l6-6M277 1115l6 6m-6 0l6-6M278 1271l6 6m-6 0l6-6M278 1096l6 6m-6 0l6-6M279 1167l6 6m-6 0l6-6M279 1137l6 6m-6 0l6-6M280 1180l6 6m-6 0l6-6M280 1216l6 6m-6 0l6-6M281 1226l6 6m-6 0l6-6M281 1118l6 6m-6 0l6-6M281 1151l6 6m-6 0l6-6M282 1211l6 6m-6 0l6-6M282 1224l6 6m-6 0l6-6M283 1191l6 6m-6 0l6-6M283 1226l6 6m-6 0l6-6M284 1150l6 6m-6 0l6-6M284 1156l6 6m-6 0l6-6M285 1093l6 6m-6 0l6-6M285 1195l6 6m-6 0l6-6M286 1135l6 6m-6 0l6-6M286 1199l6 6m-6 0l6-6M287 1136l6 6m-6 0l6-6M287 1120l6 6m-6 0l6-6M288 1069l6 6m-6 0l6-6M288 1158l6 6m-6 0l6-6M289 1144l6 6m-6 0l6-6M289 1186l6 6m-6 0l6-6M289 1111l6 6m-6 0l6-6M290 1179l6 6m-6 0l6-6M290 1137l6 6m-6 0l6-6M291 1154l6 6m-6 0l6-6M291 1121l6 6m-6 0l6-6M292 1144l6 6m-6 0l6-6M292 1183l6 6m-6 0l6-6M293 1227l6 6m-6 0l6-6M293 1142l6 6m-6 0l6-6M294 1173l6 6m-6 0l6-6M294 1215l6 6m-6 0l6-6M295 1153l6 6m-6 0l6-6M295 1240l6 6m-6 0l6-6M296 1154l6 6m-6 0l6-6M296 1172l6 6m-6 0l6-6M297 1205l6 6m-6 0l6-6M297 1182l6 6m-6 0l6-6M297 1214l6 6m-6 0l6-6M298 1223l6 6m-6 0l6-6M298 1209l6 6m-6 0l6-6M299 1181l6 6m-6 0l6-6M299 1113l6 6m-6 0l6-6M300 1167l6 6m-6 0l6-6M300 1192l6 6m-6 0l6-6M301 1141l6 6m-6 0l6-6M301 1201l6 6m-6 0l6-6M302 1180l6 6m-6 0l6-6M302 1178l6 6m-6 0l6-6M303 1155l6 6m-6 0l6-6M303 1177l6 6m-6 0l6-6M304 1187l6 6m-6 0l6-6M304 1159l6 6m-6 0l6-6M305 1192l6 6m-6 0l6-6M305 1115l6 6m-6 0l6-6M305 1173l6 6m-6 0l6-6M306 1194l6 6m-6 0l6-6M306 1097l6 6m-6 0l6-6M307 1160l6 6m-6 0l6-6M307 1172l6 6m-6 0l6-6M308 1141l6 6m-6 0l6-6M308 1202l6 6m-6 0l6-6M309 1253l6 6m-6 0l6-6M309 1234l6 6m-6 0l6-6M310 1185l6 6m-6 0l6-6M310 1209l6 6m-6 0l6-6M311 1261l6 6m-6 0l6-6M311 1167l6 6m-6 0l6-6M312 1185l6 6m-6 0l6-6M312 1202l6 6m-6 0l6-6M313 1221l6 6m-6 0l6-6M313 1150l6 6m-6 0l6-6M313 1201l6 6m-6 0l6-6M314 1085l6 6m-6 0l6-6M314 1197l6 6m-6 0l6-6M315 1153l6 6m-6 0l6-6M315 1169l6 6m-6 0l6-6M316 1125l6 6m-6 0l6-6M316 1168l6 6m-6 0l6-6M317 1094l6 6m-6 0l6-6M317 1188l6 6m-6 0l6-6M318 1205l6 6m-6 0l6-6M318 1160l6 6m-6 0l6-6M319 1169l6 6m-6 0l6-6M319 1195l6 6m-6 0l6-6M320 1188l6 6m-6 0l6-6M320 1116l6 6m-6 0l6-6M321 1138l6 6m-6 0l6-6M321 1190l6 6m-6 0l6-6M321 1190l6 6m-6 0l6-6M322 1176l6 6m-6 0l6-6M322 1230l6 6m-6 0l6-6M323 1212l6 6m-6 0l6-6M323 1151l6 6m-6 0l6-6M324 1203l6 6m-6 0l6-6M324 1218l6 6m-6 0l6-6M325 1115l6 6m-6 0l6-6M325 1154l6 6m-6 0l6-6M326 1174l6 6m-6 0l6-6M326 1092l6 6m-6 0l6-6M327 1230l6 6m-6 0l6-6M327 1233l6 6m-6 0l6-6M328 1222l6 6m-6 0l6-6M328 1128l6 6m-6 0l6-6M329 1231l6 6m-6 0l6-6M329 1260l6 6m-6 0l6-6M329 1196l6 6m-6 0l6-6M330 1254l6 6m-6 0l6-6M330 1198l6 6m-6 0l6-6M331 1183l6 6m-6 0l6-6M331 1250l6 6m-6 0l6-6M332 1143l6 6m-6 0l6-6M332 1149l6 6m-6 0l6-6M333 1168l6 6m-6 0l6-6M333 1161l6 6m-6 0l6-6M334 1117l6 6m-6 0l6-6M334 1125l6 6m-6 0l6-6M335 1258l6 6m-6 0l6-6M335 1173l6 6m-6 0l6-6M336 1145l6 6m-6 0l6-6M336 1108l6 6m-6 0l6-6M337 1127l6 6m-6 0l6-6M337 1160l6 6m-6 0l6-6M337 1109l6 6m-6 0l6-6M338 1221l6 6m-6 0l6-6M338 1148l6 6m-6 0l6-6M339 1196l6 6m-6 0l6-6M339 1137l6 6m-6 0l6-6M340 1166l6 6m-6 0l6-6M340 1090l6 6m-6 0l6-6M341 1129l6 6m-6 0l6-6M341 1140l6 6m-6 0l6-6M342 1200l6 6m-6 0l6-6M342 1122l6 6m-6 0l6-6M343 1226l6 6m-6 0l6-6M343 1126l6 6m-6 0l6-6M344 1167l6 6m-6 0l6-6M344 1182l6 6m-6 0l6-6M345 1157l6 6m-6 0l6-6M345 1129l6 6m-6 0l6-6M345 1126l6 6m-6 0l6-6M346 1177l6 6m-6 0l6-6M346 1128l6 6m-6 0l6-6M347 1248l6 6m-6 0l6-6M347 1197l6 6m-6 0l6-6M348 1151l6 6m-6 0l6-6M348 1106l6 6m-6 0l6-6M349 1212l6 6m-6 0l6-6M349 1260l6 6m-6 0l6-6M350 1127l6 6m-6 0l6-6M350 1090l6 6m-6 0l6-6M351 1202l6 6m-6 0l6-6M351 1254l6 6m-6 0l6-6M352 1195l6 6m-6 0l6-6M352 1120l6 6m-6 0l6-6M353 1145l6 6m-6 0l6-6M353 1201l6 6m-6 0l6-6M353 1123l6 6m-6 0l6-6M354 1183l6 6m-6 0l6-6M354 1196l6 6m-6 0l6-6M355 1219l6 6m-6 0l6-6M355 1123l6 6m-6 0l6-6M356 1174l6 6m-6 0l6-6M356 1201l6 6m-6 0l6-6M357 1163l6 6m-6 0l6-6M357 1204l6 6m-6 0l6-6M358 1156l6 6m-6 0l6-6M358 1124l6 6m-6 0l6-6M359 1105l6 6m-6 0l6-6M359 1151l6 6m-6 0l6-6M360 1162l6 6m-6 0l6-6M360 1213l6 6m-6 0l6-6M361 1179l6 6m-6 0l6-6M361 1119l6 6m-6 0l6-6M361 1191l6 6m-6 0l6-6M362 1252l6 6m-6 0l6-6M362 1132l6 6m-6 0l6-6M363 1181l6 6m-6 0l6-6M363 1081l6 6m-6 0l6-6M364 1274l6 6m-6 0l6-6M364 1208l6 6m-6 0l6-6M365 1229l6 6m-6 0l6-6M365 1176l6 6m-6 0l6-6M366 1186l6 6m-6 0l6-6M366 1163l6 6m-6 0l6-6M367 1141l6 6m-6 0l6-6M367 1255l6 6m-6 0l6-6M368 1222l6 6m-6 0l6-6M368 1145l6 6m-6 0l6-6M369 1154l6 6m-6 0l6-6M369 1177l6 6m-6 0l6-6M369 1189l6 6m-6 0l6-6M370 1251l6 6m-6 0l6-6M370 1095l6 6m-6 0l6-6M371 1138l6 6m-6 0l6-6M371 1080l6 6m-6 0l6-6M372 1141l6 6m-6 0l6-6M372 1173l6 6m-6 0l6-6M373 1251l6 6m-6 0l6-6M373 1217l6 6m-6 0l6-6M374 1214l6 6m-6 0l6-6M374 1155l6 6m-6 0l6-6M375 1266l6 6m-6 0l6-6M375 1231l6 6m-6 0l6-6M376 1160l6 6m-6 0l6-6M376 1150l6 6m-6 0l6-6M377 1208l6 6m-6 0l6-6M377 1123l6 6m-6 0l6-6M377 1138l6 6m-6 0l6-6M378 1203l6 6m-6 0l6-6M378 1178l6 6m-6 0l6-6M379 1155l6 6m-6 0l6-6M379 1174l6 6m-6 0l6-6M380 1168l6 6m-6 0l6-6M380 1165l6 6m-6 0l6-6M381 1187l6 6m-6 0l6-6M381 1098l6 6m-6 0l6-6M382 1213l6 6m-6 0l6-6M382 1164l6 6m-6 0l6-6M383 1167l6 6m-6 0l6-6M383 1177l6 6m-6 0l6-6M384 1201l6 6m-6 0l6-6M384 1200l6 6m-6 0l6-6M385 1142l6 6m-6 0l6-6M385 1137l6 6m-6 0l6-6M385 1167l6 6m-6 0l6-6M386 1154l6 6m-6 0l6-6M386 1100l6 6m-6 0l6-6M387 1157l6 6m-6 0l6-6M387 1151l6 6m-6 0l6-6M388 1245l6 6m-6 0l6-6M388 1216l6 6m-6 0l6-6M389 1087l6 6m-6 0l6-6M389 1077l6 6m-6 0l6-6M390 1257l6 6m-6 0l6-6M390 1163l6 6m-6 0l6-6M391 1087l6 6m-6 0l6-6M391 1149l6 6m-6 0l6-6M392 1237l6 6m-6 0l6-6M392 1195l6 6m-6 0l6-6M393 1271l6 6m-6 0l6-6M393 1251l6 6m-6 0l6-6M394 1163l6 6m-6 0l6-6M394 1223l6 6m-6 0l6-6M394 1114l6 6m-6 0l6-6M395 1204l6 6m-6 0l6-6M395 1198l6 6m-6 0l6-6M396 1191l6 6m-6 0l6-6M396 1201l6 6m-6 0l6-6M397 1276l6 6m-6 0l6-6M397 1138l6 6m-6 0l6-6M398 1151l6 6m-6 0l6-6M398 1183l6 6m-6 0l6-6M399 1167l6 6m-6 0l6-6M399 1218l6 6m-6 0l6-6M400 1185l6 6m-6 0l6-6M400 1117l6 6m-6 0l6-6M401 1198l6 6m-6 0l6-6M401 1160l6 6m-6 0l6-6M402 1119l6 6m-6 0l6-6M402 1219l6 6m-6 0l6-6M402 1142l6 6m-6 0l6-6M403 1160l6 6m-6 0l6-6M403 1211l6 6m-6 0l6-6M404 1146l6 6m-6 0l6-6M404 1141l6 6m-6 0l6-6M405 1154l6 6m-6 0l6-6M405 1188l6 6m-6 0l6-6M406 1175l6 6m-6 0l6-6M406 1230l6 6m-6 0l6-6M407 1141l6 6m-6 0l6-6M407 1235l6 6m-6 0l6-6M408 1206l6 6m-6 0l6-6M408 1212l6 6m-6 0l6-6M409 1178l6 6m-6 0l6-6M409 1116l6 6m-6 0l6-6M410 1166l6 6m-6 0l6-6M410 1210l6 6m-6 0l6-6M410 1230l6 6m-6 0l6-6M411 1155l6 6m-6 0l6-6M411 1177l6 6m-6 0l6-6M412 1199l6 6m-6 0l6-6M412 1218l6 6m-6 0l6-6M413 1190l6 6m-6 0l6-6M413 1125l6 6m-6 0l6-6M414 1132l6 6m-6 0l6-6M414 1186l6 6m-6 0l6-6M415 1156l6 6m-6 0l6-6M415 1262l6 6m-6 0l6-6M416 1124l6 6m-6 0l6-6M416 1186l6 6m-6 0l6-6M417 1148l6 6m-6 0l6-6M417 1201l6 6m-6 0l6-6M418 1265l6 6m-6 0l6-6M418 1086l6 6m-6 0l6-6M418 1167l6 6m-6 0l6-6M419 1157l6 6m-6 0l6-6M419 1202l6 6m-6 0l6-6M420 1151l6 6m-6 0l6-6M420 1186l6 6m-6 0l6-6M421 1132l6 6m-6 0l6-6M421 1227l6 6m-6 0l6-6M422 1226l6 6m-6 0l6-6M422 1156l6 6m-6 0l6-6M423 1076l6 6m-6 0l6-6M423 1163l6 6m-6 0l6-6M424 1173l6 6m-6 0l6-6M424 1130l6 6m-6 0l6-6M425 1244l6 6m-6 0l6-6M425 1104l6 6m-6 0l6-6M426 1271l6 6m-6 0l6-6M426 1191l6 6m-6 0l6-6M426 1213l6 6m-6 0l6-6M427 1132l6 6m-6 0l6-6M427 1121l6 6m-6 0l6-6M428 1198l6 6m-6 0l6-6M428 1270l6 6m-6 0l6-6M429 1169l6 6m-6 0l6-6M429 1245l6 6m-6 0l6-6M430 1198l6 6m-6 0l6-6M430 1143l6 6m-6 0l6-6M431 1203l6 6m-6 0l6-6M431 1222l6 6m-6 0l6-6M432 1176l6 6m-6 0l6-6M432 1212l6 6m-6 0l6-6M433 1200l6 6m-6 0l6-6M433 1247l6 6m-6 0l6-6M434 1165l6 6m-6 0l6-6M434 1165l6 6m-6 0l6-6M434 1217l6 6m-6 0l6-6M435 1106l6 6m-6 0l6-6M435 1178l6 6m-6 0l6-6M436 1160l6 6m-6 0l6-6M436 1160l6 6m-6 0l6-6M437 1226l6 6m-6 0l6-6M437 1193l6 6m-6 0l6-6M438 1179l6 6m-6 0l6-6M438 1223l6 6m-6 0l6-6M439 1122l6 6m-6 0l6-6M439 1216l6 6m-6 0l6-6M440 1152l6 6m-6 0l6-6M440 1201l6 6m-6 0l6-6M441 1257l6 6m-6 0l6-6M441 1185l6 6m-6 0l6-6M442 1142l6 6m-6 0l6-6M442 1112l6 6m-6 0l6-6M442 1150l6 6m-6 0l6-6M443 1146l6 6m-6 0l6-6M443 1131l6 6m-6 0l6-6M444 1128l6 6m-6 0l6-6M444 1148l6 6m-6 0l6-6M445 1144l6 6m-6 0l6-6M445 1169l6 6m-6 0l6-6M446 1161l6 6m-6 0l6-6M446 1243l6 6m-6 0l6-6M447 1161l6 6m-6 0l6-6M447 1163l6 6m-6 0l6-6M448 1188l6 6m-6 0l6-6M448 1188l6 6m-6 0l6-6M449 1146l6 6m-6 0l6-6M449 1137l6 6m-6 0l6-6M450 1156l6 6m-6 0l6-6M450 1148l6 6m-6 0l6-6M450 1227l6 6m-6 0l6-6M451 1130l6 6m-6 0l6-6M451 1156l6 6m-6 0l6-6M452 1180l6 6m-6 0l6-6M452 1199l6 6m-6 0l6-6M453 1245l6 6m-6 0l6-6M453 1162l6 6m-6 0l6-6M454 1167l6 6m-6 0l6-6M454 1243l6 6m-6 0l6-6M455 1238l6 6m-6 0l6-6M455 1172l6 6m-6 0l6-6M456 1128l6 6m-6 0l6-6M456 1200l6 6m-6 0l6-6M457 1115l6 6m-6 0l6-6M457 1241l6 6m-6 0l6-6M458 1213l6 6m-6 0l6-6M458 1121l6 6m-6 0l6-6M458 1220l6 6m-6 0l6-6M459 1135l6 6m-6 0l6-6M459 1159l6 6m-6 0l6-6M460 1234l6 6m-6 0l6-6M460 1121l6 6m-6 0l6-6M461 1087l6 6m-6 0l6-6M461 1122l6 6m-6 0l6-6M462 1192l6 6m-6 0l6-6M462 1184l6 6m-6 0l6-6M463 1139l6 6m-6 0l6-6M463 1084l6 6m-6 0l6-6M464 1157l6 6m-6 0l6-6M464 1128l6 6m-6 0l6-6M465 1208l6 6m-6 0l6-6M465 1087l6 6m-6 0l6-6M466 1208l6 6m-6 0l6-6M466 1164l6 6m-6 0l6-6M466 1185l6 6m-6 0l6-6M467 1195l6 6m-6 0l6-6M467 1197l6 6m-6 0l6-6M468 1124l6 6m-6 0l6-6M468 1210l6 6m-6 0l6-6M469 1118l6 6m-6 0l6-6M469 1210l6 6m-6 0l6-6M470 1177l6 6m-6 0l6-6M470 1153l6 6m-6 0l6-6M471 1176l6 6m-6 0l6-6M471 1188l6 6m-6 0l6-6M472 1183l6 6m-6 0l6-6M472 1219l6 6m-6 0l6-6M473 1188l6 6m-6 0l6-6M473 1169l6 6m-6 0l6-6M474 1195l6 6m-6 0l6-6M474 1145l6 6m-6 0l6-6M474 1129l6 6m-6 0l6-6M475 1203l6 6m-6 0l6-6M475 1233l6 6m-6 0l6-6M476 1231l6 6m-6 0l6-6M476 1232l6 6m-6 0l6-6M477 1243l6 6m-6 0l6-6M477 1149l6 6m-6 0l6-6M478 1223l6 6m-6 0l6-6M478 1130l6 6m-6 0l6-6M479 1197l6 6m-6 0l6-6M479 1141l6 6m-6 0l6-6M480 1195l6 6m-6 0l6-6M480 1204l6 6m-6 0l6-6M481 1204l6 6m-6 0l6-6M481 1170l6 6m-6 0l6-6M482 1153l6 6m-6 0l6-6M482 1233l6 6m-6 0l6-6M482 1249l6 6m-6 0l6-6M483 1167l6 6m-6 0l6-6M483 1095l6 6m-6 0l6-6M484 1183l6 6m-6 0l6-6M484 1226l6 6m-6 0l6-6M485 1170l6 6m-6 0l6-6M485 1163l6 6m-6 0l6-6M486 1219l6 6m-6 0l6-6M486 1241l6 6m-6 0l6-6M487 1141l6 6m-6 0l6-6M487 1132l6 6m-6 0l6-6M488 1165l6 6m-6 0l6-6M488 1117l6 6m-6 0l6-6M489 1203l6 6m-6 0l6-6M489 1119l6 6m-6 0l6-6M490 1243l6 6m-6 0l6-6M490 1162l6 6m-6 0l6-6M490 1167l6 6m-6 0l6-6M491 1220l6 6m-6 0l6-6M491 1210l6 6m-6 0l6-6M492 1197l6 6m-6 0l6-6M492 1209l6 6m-6 0l6-6M493 1151l6 6m-6 0l6-6M493 1272l6 6m-6 0l6-6M494 1118l6 6m-6 0l6-6M494 1156l6 6m-6 0l6-6M495 1136l6 6m-6 0l6-6M495 1135l6 6m-6 0l6-6M496 1232l6 6m-6 0l6-6M496 1242l6 6m-6 0l6-6M497 1241l6 6m-6 0l6-6M497 1198l6 6m-6 0l6-6M498 1103l6 6m-6 0l6-6M498 1108l6 6m-6 0l6-6M498 1131l6 6m-6 0l6-6M499 1142l6 6m-6 0l6-6M499 1197l6 6m-6 0l6-6M500 1198l6 6m-6 0l6-6M500 1174l6 6m-6 0l6-6M501 1105l6 6m-6 0l6-6M501 1209l6 6m-6 0l6-6M502 1179l6 6m-6 0l6-6M502 1098l6 6m-6 0l6-6M503 1196l6 6m-6 0l6-6M503 1141l6 6m-6 0l6-6M504 1269l6 6m-6 0l6-6M504 1116l6 6m-6 0l6-6M505 1208l6 6m-6 0l6-6M505 1162l6 6m-6 0l6-6M506 1080l6 6m-6 0l6-6M506 1111l6 6m-6 0l6-6M507 1112l6 6m-6 0l6-6M507 1162l6 6m-6 0l6-6M507 1232l6 6m-6 0l6-6M508 1197l6 6m-6 0l6-6M508 1250l6 6m-6 0l6-6M509 1212l6 6m-6 0l6-6M509 1237l6 6m-6 0l6-6M510 1185l6 6m-6 0l6-6M510 1206l6 6m-6 0l6-6M511 1210l6 6m-6 0l6-6M511 1162l6 6m-6 0l6-6M512 1186l6 6m-6 0l6-6M512 1145l6 6m-6 0l6-6M513 1167l6 6m-6 0l6-6M513 1136l6 6m-6 0l6-6M514 1164l6 6m-6 0l6-6M514 1159l6 6m-6 0l6-6M515 1224l6 6m-6 0l6-6M515 1146l6 6m-6 0l6-6M515 1140l6 6m-6 0l6-6M516 1189l6 6m-6 0l6-6M516 1154l6 6m-6 0l6-6M517 1153l6 6m-6 0l6-6M517 1183l6 6m-6 0l6-6M518 1192l6 6m-6 0l6-6M518 1181l6 6m-6 0l6-6M519 1228l6 6m-6 0l6-6M519 1257l6 6m-6 0l6-6M520 1228l6 6m-6 0l6-6M520 1165l6 6m-6 0l6-6M521 1119l6 6m-6 0l6-6M521 1124l6 6m-6 0l6-6M522 1180l6 6m-6 0l6-6M522 1108l6 6m-6 0l6-6M523 1191l6 6m-6 0l6-6M523 1152l6 6m-6 0l6-6M523 1172l6 6m-6 0l6-6M524 1201l6 6m-6 0l6-6M524 1184l6 6m-6 0l6-6M525 1082l6 6m-6 0l6-6M525 1098l6 6m-6 0l6-6M526 1240l6 6m-6 0l6-6M526 1166l6 6m-6 0l6-6M527 1239l6 6m-6 0l6-6M527 1166l6 6m-6 0l6-6M528 1188l6 6m-6 0l6-6M528 1146l6 6m-6 0l6-6M529 1197l6 6m-6 0l6-6M529 1213l6 6m-6 0l6-6M530 1185l6 6m-6 0l6-6M530 1216l6 6m-6 0l6-6M531 1186l6 6m-6 0l6-6M531 1081l6 6m-6 0l6-6M531 1203l6 6m-6 0l6-6M532 1215l6 6m-6 0l6-6M532 1138l6 6m-6 0l6-6M533 1218l6 6m-6 0l6-6M533 1120l6 6m-6 0l6-6M534 1165l6 6m-6 0l6-6M534 1194l6 6m-6 0l6-6M535 1150l6 6m-6 0l6-6M535 1199l6 6m-6 0l6-6M536 1175l6 6m-6 0l6-6M536 1215l6 6m-6 0l6-6M537 1152l6 6m-6 0l6-6M537 1171l6 6m-6 0l6-6M538 1173l6 6m-6 0l6-6M538 1175l6 6m-6 0l6-6M539 1130l6 6m-6 0l6-6M539 1234l6 6m-6 0l6-6M539 1113l6 6m-6 0l6-6M540 1157l6 6m-6 0l6-6M540 1190l6 6m-6 0l6-6M541 1138l6 6m-6 0l6-6M541 1218l6 6m-6 0l6-6M542 1151l6 6m-6 0l6-6M542 1144l6 6m-6 0l6-6M543 1196l6 6m-6 0l6-6M543 1261l6 6m-6 0l6-6M544 1168l6 6m-6 0l6-6M544 1226l6 6m-6 0l6-6M545 1147l6 6m-6 0l6-6M545 1172l6 6m-6 0l6-6M546 1177l6 6m-6 0l6-6M546 1209l6 6m-6 0l6-6M547 1197l6 6m-6 0l6-6M547 1139l6 6m-6 0l6-6M547 1148l6 6m-6 0l6-6M548 1167l6 6m-6 0l6-6M548 1199l6 6m-6 0l6-6M549 1141l6 6m-6 0l6-6M549 1175l6 6m-6 0l6-6M550 1258l6 6m-6 0l6-6M550 1272l6 6m-6 0l6-6M551 1156l6 6m-6 0l6-6M551 1134l6 6m-6 0l6-6M552 1226l6 6m-6 0l6-6M552 1109l6 6m-6 0l6-6M553 1242l6 6m-6 0l6-6M553 1172l6 6m-6 0l6-6M554 1212l6 6m-6 0l6-6M554 1194l6 6m-6 0l6-6M555 1097l6 6m-6 0l6-6M555 1223l6 6m-6 0l6-6M555 1194l6 6m-6 0l6-6M556 1066l6 6m-6 0l6-6M556 1091l6 6m-6 0l6-6M557 1185l6 6m-6 0l6-6M557 1180l6 6m-6 0l6-6M558 1172l6 6m-6 0l6-6M558 1179l6 6m-6 0l6-6M559 1128l6 6m-6 0l6-6M559 1151l6 6m-6 0l6-6M560 1234l6 6m-6 0l6-6M560 1066l6 6m-6 0l6-6M561 1126l6 6m-6 0l6-6M561 1235l6 6m-6 0l6-6M562 1199l6 6m-6 0l6-6M562 1252l6 6m-6 0l6-6M563 1213l6 6m-6 0l6-6M563 1226l6 6m-6 0l6-6M563 1190l6 6m-6 0l6-6M564 1112l6 6m-6 0l6-6M564 1131l6 6m-6 0l6-6M565 1219l6 6m-6 0l6-6M565 1186l6 6m-6 0l6-6M566 1213l6 6m-6 0l6-6M566 1250l6 6m-6 0l6-6M567 1174l6 6m-6 0l6-6M567 1275l6 6m-6 0l6-6M568 1153l6 6m-6 0l6-6M568 1175l6 6m-6 0l6-6M569 1210l6 6m-6 0l6-6M569 1215l6 6m-6 0l6-6M570 1164l6 6m-6 0l6-6M570 1219l6 6m-6 0l6-6M571 1101l6 6m-6 0l6-6M571 1195l6 6m-6 0l6-6M571 1223l6 6m-6 0l6-6M572 1184l6 6m-6 0l6-6M572 1178l6 6m-6 0l6-6M573 1186l6 6m-6 0l6-6M573 1136l6 6m-6 0l6-6M574 1269l6 6m-6 0l6-6M574 1189l6 6m-6 0l6-6M575 1170l6 6m-6 0l6-6M575 1180l6 6m-6 0l6-6M576 1199l6 6m-6 0l6-6M576 1154l6 6m-6 0l6-6M577 1120l6 6m-6 0l6-6M577 1226l6 6m-6 0l6-6M578 1151l6 6m-6 0l6-6M578 1159l6 6m-6 0l6-6M579 1092l6 6m-6 0l6-6M579 1200l6 6m-6 0l6-6M579 1219l6 6m-6 0l6-6M580 1208l6 6m-6 0l6-6M580 1198l6 6m-6 0l6-6M581 1093l6 6m-6 0l6-6M581 1258l6 6m-6 0l6-6M582 1208l6 6m-6 0l6-6M582 1159l6 6m-6 0l6-6M583 1216l6 6m-6 0l6-6M583 1192l6 6m-6 0l6-6M584 1197l6 6m-6 0l6-6M584 1154l6 6m-6 0l6-6M585 1184l6 6m-6 0l6-6M585 1163l6 6m-6 0l6-6M586 1205l6 6m-6 0l6-6M586 1169l6 6m-6 0l6-6M587 1196l6 6m-6 0l6-6M587 1179l6 6m-6 0l6-6M587 1209l6 6m-6 0l6-6M588 1220l6 6m-6 0l6-6M588 1190l6 6m-6 0l6-6M589 1232l6 6m-6 0l6-6M589 1184l6 6m-6 0l6-6M590 1128l6 6m-6 0l6-6M590 1238l6 6m-6 0l6-6M591 1240l6 6m-6 0l6-6M591 1116l6 6m-6 0l6-6M592 1163l6 6m-6 0l6-6M592 1185l6 6m-6 0l6-6M593 1206l6 6m-6 0l6-6M593 1201l6 6m-6 0l6-6M594 1206l6 6m-6 0l6-6M594 1132l6 6m-6 0l6-6M595 1277l6 6m-6 0l6-6M595 1197l6 6m-6 0l6-6M595 1212l6 6m-6 0l6-6M596 1187l6 6m-6 0l6-6M596 1187l6 6m-6 0l6-6M597 1182l6 6m-6 0l6-6M597 1260l6 6m-6 0l6-6M598 1163l6 6m-6 0l6-6M598 1207l6 6m-6 0l6-6M599 1241l6 6m-6 0l6-6M599 1120l6 6m-6 0l6-6M600 1140l6 6m-6 0l6-6M600 1131l6 6m-6 0l6-6M601 1202l6 6m-6 0l6-6M601 1103l6 6m-6 0l6-6M602 1164l6 6m-6 0l6-6M602 1177l6 6m-6 0l6-6M603 1161l6 6m-6 0l6-6M603 1096l6 6m-6 0l6-6M603 1258l6 6m-6 0l6-6M604 1140l6 6m-6 0l6-6M604 1146l6 6m-6 0l6-6M605 1228l6 6m-6 0l6-6M605 1151l6 6m-6 0l6-6M606 1151l6 6m-6 0l6-6M606 1132l6 6m-6 0l6-6M607 1157l6 6m-6 0l6-6M607 1185l6 6m-6 0l6-6M608 1231l6 6m-6 0l6-6M608 1171l6 6m-6 0l6-6M609 1184l6 6m-6 0l6-6M609 1085l6 6m-6 0l6-6M610 1185l6 6m-6 0l6-6M610 1214l6 6m-6 0l6-6M611 1223l6 6m-6 0l6-6M611 1093l6 6m-6 0l6-6M611 1130l6 6m-6 0l6-6M612 1094l6 6m-6 0l6-6M612 1167l6 6m-6 0l6-6M613 1232l6 6m-6 0l6-6M613 1099l6 6m-6 0l6-6M614 1192l6 6m-6 0l6-6M614 1142l6 6m-6 0l6-6M615 1223l6 6m-6 0l6-6M615 1144l6 6m-6 0l6-6M616 1086l6 6m-6 0l6-6M616 1144l6 6m-6 0l6-6M617 1159l6 6m-6 0l6-6M617 1146l6 6m-6 0l6-6M618 1131l6 6m-6 0l6-6M618 1195l6 6m-6 0l6-6M619 1191l6 6m-6 0l6-6M619 1154l6 6m-6 0l6-6M620 1199l6 6m-6 0l6-6M620 1184l6 6m-6 0l6-6M620 1234l6 6m-6 0l6-6M621 1257l6 6m-6 0l6-6M621 1262l6 6m-6 0l6-6M622 1153l6 6m-6 0l6-6M622 1204l6 6m-6 0l6-6M623 1165l6 6m-6 0l6-6M623 1196l6 6m-6 0l6-6M624 1203l6 6m-6 0l6-6M624 1171l6 6m-6 0l6-6M625 1168l6 6m-6 0l6-6M625 1214l6 6m-6 0l6-6M626 1155l6 6m-6 0l6-6M626 1144l6 6m-6 0l6-6M627 1124l6 6m-6 0l6-6M627 1115l6 6m-6 0l6-6M628 1210l6 6m-6 0l6-6M628 1225l6 6m-6 0l6-6M628 1164l6 6m-6 0l6-6M629 1142l6 6m-6 0l6-6M629 1242l6 6m-6 0l6-6M630 1161l6 6m-6 0l6-6M630 1143l6 6m-6 0l6-6M631 1155l6 6m-6 0l6-6M631 1207l6 6m-6 0l6-6M632 1178l6 6m-6 0l6-6M632 1245l6 6m-6 0l6-6M633 1216l6 6m-6 0l6-6M633 1185l6 6m-6 0l6-6M634 1092l6 6m-6 0l6-6M634 1131l6 6m-6 0l6-6M635 1246l6 6m-6 0l6-6M635 1234l6 6m-6 0l6-6M636 1208l6 6m-6 0l6-6M636 1210l6 6m-6 0l6-6M636 1183l6 6m-6 0l6-6M637 1176l6 6m-6 0l6-6M637 1130l6 6m-6 0l6-6M638 1210l6 6m-6 0l6-6M638 1198l6 6m-6 0l6-6M639 1123l6 6m-6 0l6-6M639 1117l6 6m-6 0l6-6M640 1192l6 6m-6 0l6-6M640 1143l6 6m-6 0l6-6M641 1250l6 6m-6 0l6-6M641 1180l6 6m-6 0l6-6M642 1124l6 6m-6 0l6-6M642 1152l6 6m-6 0l6-6M643 1140l6 6m-6 0l6-6M643 1140l6 6m-6 0l6-6M644 1206l6 6m-6 0l6-6M644 1139l6 6m-6 0l6-6M644 1123l6 6m-6 0l6-6M645 1065l6 6m-6 0l6-6M645 1201l6 6m-6 0l6-6M646 1186l6 6m-6 0l6-6M646 1073l6 6m-6 0l6-6M647 1229l6 6m-6 0l6-6M647 1155l6 6m-6 0l6-6M648 1258l6 6m-6 0l6-6M648 1181l6 6m-6 0l6-6M649 1145l6 6m-6 0l6-6M649 1205l6 6m-6 0l6-6M650 1226l6 6m-6 0l6-6M650 1117l6 6m-6 0l6-6M651 1187l6 6m-6 0l6-6M651 1202l6 6m-6 0l6-6M652 1160l6 6m-6 0l6-6M652 1124l6 6m-6 0l6-6M652 1146l6 6m-6 0l6-6M653 1222l6 6m-6 0l6-6M653 1220l6 6m-6 0l6-6M654 1189l6 6m-6 0l6-6M654 1262l6 6m-6 0l6-6M655 1208l6 6m-6 0l6-6M655 1224l6 6m-6 0l6-6M656 1213l6 6m-6 0l6-6M656 1191l6 6m-6 0l6-6M657 1176l6 6m-6 0l6-6M657 1211l6 6m-6 0l6-6M658 1158l6 6m-6 0l6-6M658 1177l6 6m-6 0l6-6M659 1183l6 6m-6 0l6-6M659 1121l6 6m-6 0l6-6M660 1112l6 6m-6 0l6-6M660 1262l6 6m-6 0l6-6M660 1081l6 6m-6 0l6-6M661 1186l6 6m-6 0l6-6M661 1220l6 6m-6 0l6-6M662 1158l6 6m-6 0l6-6M662 1165l6 6m-6 0l6-6M663 1185l6 6m-6 0l6-6M663 1081l6 6m-6 0l6-6M664 1169l6 6m-6 0l6-6M664 1235l6 6m-6 0l6-6M665 1212l6 6m-6 0l6-6M665 1175l6 6m-6 0l6-6M666 1174l6 6m-6 0l6-6M666 1223l6 6m-6 0l6-6M667 1135l6 6m-6 0l6-6M667 1188l6 6m-6 0l6-6M668 1229l6 6m-6 0l6-6M668 1119l6 6m-6 0l6-6M668 1166l6 6m-6 0l6-6M669 1212l6 6m-6 0l6-6M669 1273l6 6m-6 0l6-6M670 1125l6 6m-6 0l6-6M670 1221l6 6m-6 0l6-6M671 1262l6 6m-6 0l6-6M671 1207l6 6m-6 0l6-6M672 1178l6 6m-6 0l6-6M672 1175l6 6m-6 0l6-6M673 1117l6 6m-6 0l6-6M673 1241l6 6m-6 0l6-6M674 1108l6 6m-6 0l6-6M674 1170l6 6m-6 0l6-6M675 1154l6 6m-6 0l6-6M675 1193l6 6m-6 0l6-6M676 1153l6 6m-6 0l6-6M676 1236l6 6m-6 0l6-6M676 1089l6 6m-6 0l6-6M677 1077l6 6m-6 0l6-6M677 1171l6 6m-6 0l6-6M678 1106l6 6m-6 0l6-6M678 1204l6 6m-6 0l6-6M679 1204l6 6m-6 0l6-6M679 1210l6 6m-6 0l6-6M680 1122l6 6m-6 0l6-6M680 1137l6 6m-6 0l6-6M681 1150l6 6m-6 0l6-6M681 1181l6 6m-6 0l6-6M682 1173l6 6m-6 0l6-6M682 1207l6 6m-6 0l6-6M683 1148l6 6m-6 0l6-6M683 1266l6 6m-6 0l6-6M684 1187l6 6m-6 0l6-6M684 1195l6 6m-6 0l6-6M684 1077l6 6m-6 0l6-6M685 1130l6 6m-6 0l6-6M685 1219l6 6m-6 0l6-6M686 1147l6 6m-6 0l6-6M686 1146l6 6m-6 0l6-6M687 1118l6 6m-6 0l6-6M687 1163l6 6m-6 0l6-6M688 1209l6 6m-6 0l6-6M688 1175l6 6m-6 0l6-6M689 1229l6 6m-6 0l6-6M689 1130l6 6m-6 0l6-6M690 1202l6 6m-6 0l6-6M690 1182l6 6m-6 0l6-6M691 1182l6 6m-6 0l6-6M691 1106l6 6m-6 0l6-6M692 1173l6 6m-6 0l6-6M692 1185l6 6m-6 0l6-6M692 1100l6 6m-6 0l6-6M693 1257l6 6m-6 0l6-6M693 1172l6 6m-6 0l6-6M694 1112l6 6m-6 0l6-6M694 1229l6 6m-6 0l6-6M695 1121l6 6m-6 0l6-6M695 1190l6 6m-6 0l6-6M696 1096l6 6m-6 0l6-6M696 1227l6 6m-6 0l6-6M697 1191l6 6m-6 0l6-6M697 1170l6 6m-6 0l6-6M698 1134l6 6m-6 0l6-6M698 1119l6 6m-6 0l6-6M699 1241l6 6m-6 0l6-6M699 1161l6 6m-6 0l6-6M700 1229l6 6m-6 0l6-6M700 1126l6 6m-6 0l6-6M700 1174l6 6m-6 0l6-6M701 1120l6 6m-6 0l6-6M701 1194l6 6m-6 0l6-6M702 1080l6 6m-6 0l6-6M702 1210l6 6m-6 0l6-6M703 1112l6 6m-6 0l6-6M703 1192l6 6m-6 0l6-6M704 1178l6 6m-6 0l6-6M704 1169l6 6m-6 0l6-6M705 1170l6 6m-6 0l6-6M705 1253l6 6m-6 0l6-6M706 1122l6 6m-6 0l6-6M706 1138l6 6m-6 0l6-6M707 1225l6 6m-6 0l6-6M707 1203l6 6m-6 0l6-6M708 1236l6 6m-6 0l6-6M708 1189l6 6m-6 0l6-6M708 1152l6 6m-6 0l6-6M709 1170l6 6m-6 0l6-6M709 1195l6 6m-6 0l6-6M710 1209l6 6m-6 0l6-6M710 1185l6 6m-6 0l6-6M711 1136l6 6m-6 0l6-6M711 1163l6 6m-6 0l6-6M712 1251l6 6m-6 0l6-6M712 1137l6 6m-6 0l6-6M713 1239l6 6m-6 0l6-6M713 1106l6 6m-6 0l6-6M714 1130l6 6m-6 0l6-6M714 1101l6 6m-6 0l6-6M715 1219l6 6m-6 0l6-6M715 1153l6 6m-6 0l6-6M716 1165l6 6m-6 0l6-6M716 1236l6 6m-6 0l6-6M716 1194l6 6m-6 0l6-6M717 1108l6 6m-6 0l6-6M717 1123l6 6m-6 0l6-6M718 1092l6 6m-6 0l6-6M718 1211l6 6m-6 0l6-6M719 1167l6 6m-6 0l6-6M719 1128l6 6m-6 0l6-6M720 1170l6 6m-6 0l6-6M720 1201l6 6m-6 0l6-6M721 1217l6 6m-6 0l6-6M721 1118l6 6m-6 0l6-6M722 1140l6 6m-6 0l6-6M722 1216l6 6m-6 0l6-6M723 1221l6 6m-6 0l6-6M723 1191l6 6m-6 0l6-6M724 1094l6 6m-6 0l6-6M724 1109l6 6m-6 0l6-6M724 1264l6 6m-6 0l6-6M725 1135l6 6m-6 0l6-6M725 1185l6 6m-6 0l6-6M726 1134l6 6m-6 0l6-6M726 1269l6 6m-6 0l6-6M727 1218l6 6m-6 0l6-6M727 1135l6 6m-6 0l6-6M728 1120l6 6m-6 0l6-6M728 1209l6 6m-6 0l6-6M729 1230l6 6m-6 0l6-6M729 1161l6 6m-6 0l6-6M730 1215l6 6m-6 0l6-6M730 1184l6 6m-6 0l6-6M731 1184l6 6m-6 0l6-6M731 1188l6 6m-6 0l6-6M732 1109l6 6m-6 0l6-6M732 1141l6 6m-6 0l6-6M733 1192l6 6m-6 0l6-6M733 1176l6 6m-6 0l6-6M733 1247l6 6m-6 0l6-6M734 1112l6 6m-6 0l6-6M734 1197l6 6m-6 0l6-6M735 1220l6 6m-6 0l6-6M735 1204l6 6m-6 0l6-6M736 1217l6 6m-6 0l6-6M736 1158l6 6m-6 0l6-6M737 1160l6 6m-6 0l6-6M737 1199l6 6m-6 0l6-6M738 1137l6 6m-6 0l6-6M738 1120l6 6m-6 0l6-6M739 1111l6 6m-6 0l6-6M739 1115l6 6m-6 0l6-6M740 1227l6 6m-6 0l6-6M740 1214l6 6m-6 0l6-6M741 1226l6 6m-6 0l6-6M741 1187l6 6m-6 0l6-6M741 1191l6 6m-6 0l6-6M742 1119l6 6m-6 0l6-6M742 1169l6 6m-6 0l6-6M743 1210l6 6m-6 0l6-6M743 1143l6 6m-6 0l6-6M744 1093l6 6m-6 0l6-6M744 1201l6 6m-6 0l6-6M745 1120l6 6m-6 0l6-6M745 1209l6 6m-6 0l6-6M746 1159l6 6m-6 0l6-6M746 1143l6 6m-6 0l6-6M747 1145l6 6m-6 0l6-6M747 1151l6 6m-6 0l6-6M748 1202l6 6m-6 0l6-6M748 1203l6 6m-6 0l6-6M749 1217l6 6m-6 0l6-6M749 1188l6 6m-6 0l6-6M749 1175l6 6m-6 0l6-6M750 1200l6 6m-6 0l6-6M750 1154l6 6m-6 0l6-6M751 1137l6 6m-6 0l6-6M751 1163l6 6m-6 0l6-6M752 1150l6 6m-6 0l6-6M752 1091l6 6m-6 0l6-6M753 1115l6 6m-6 0l6-6M753 1195l6 6m-6 0l6-6M754 1170l6 6m-6 0l6-6M754 1154l6 6m-6 0l6-6M755 1185l6 6m-6 0l6-6M755 1190l6 6m-6 0l6-6M756 1228l6 6m-6 0l6-6M756 1206l6 6m-6 0l6-6M757 1176l6 6m-6 0l6-6M757 1190l6 6m-6 0l6-6M757 1186l6 6m-6 0l6-6M758 1086l6 6m-6 0l6-6M758 1255l6 6m-6 0l6-6M759 1124l6 6m-6 0l6-6M759 1206l6 6m-6 0l6-6M760 1151l6 6m-6 0l6-6M760 1136l6 6m-6 0l6-6M761 1230l6 6m-6 0l6-6M761 1133l6 6m-6 0l6-6M762 1151l6 6m-6 0l6-6M762 1184l6 6m-6 0l6-6M763 1199l6 6m-6 0l6-6M763 1148l6 6m-6 0l6-6M764 1130l6 6m-6 0l6-6M764 1215l6 6m-6 0l6-6M765 1164l6 6m-6 0l6-6M765 1164l6 6m-6 0l6-6M765 1199l6 6m-6 0l6-6M766 1120l6 6m-6 0l6-6M766 1132l6 6m-6 0l6-6M767 1129l6 6m-6 0l6-6M767 1090l6 6m-6 0l6-6M768 1140l6 6m-6 0l6-6M768 1164l6 6m-6 0l6-6M769 1211l6 6m-6 0l6-6M769 1231l6 6m-6 0l6-6M770 1141l6 6m-6 0l6-6M770 1255l6 6m-6 0l6-6M771 1163l6 6m-6 0l6-6M771 1236l6 6m-6 0l6-6M772 1186l6 6m-6 0l6-6M772 1177l6 6m-6 0l6-6M773 1219l6 6m-6 0l6-6M773 1229l6 6m-6 0l6-6M773 1100l6 6m-6 0l6-6M774 1202l6 6m-6 0l6-6M774 1090l6 6m-6 0l6-6M775 1078l6 6m-6 0l6-6M775 1096l6 6m-6 0l6-6M776 1106l6 6m-6 0l6-6M776 1118l6 6m-6 0l6-6M777 1184l6 6m-6 0l6-6M777 1195l6 6m-6 0l6-6M778 1196l6 6m-6 0l6-6M778 1224l6 6m-6 0l6-6M779 1204l6 6m-6 0l6-6M779 1195l6 6m-6 0l6-6M780 1177l6 6m-6 0l6-6M780 1236l6 6m-6 0l6-6M781 1172l6 6m-6 0l6-6M781 1082l6 6m-6 0l6-6M781 1132l6 6m-6 0l6-6M782 1234l6 6m-6 0l6-6M782 1161l6 6m-6 0l6-6M783 1148l6 6m-6 0l6-6M783 1228l6 6m-6 0l6-6M784 1180l6 6m-6 0l6-6M784 1179l6 6m-6 0l6-6M785 1175l6 6m-6 0l6-6M785 1244l6 6m-6 0l6-6M786 1189l6 6m-6 0l6-6M786 1182l6 6m-6 0l6-6M787 1186l6 6m-6 0l6-6M787 1149l6 6m-6 0l6-6M788 1166l6 6m-6 0l6-6M788 1262l6 6m-6 0l6-6M789 1179l6 6m-6 0l6-6M789 1236l6 6m-6 0l6-6M789 1147l6 6m-6 0l6-6M790 1159l6 6m-6 0l6-6M790 1140l6 6m-6 0l6-6M791 1178l6 6m-6 0l6-6M791 1226l6 6m-6 0l6-6M792 1156l6 6m-6 0l6-6M792 1161l6 6m-6 0l6-6M793 1108l6 6m-6 0l6-6M793 1216l6 6m-6 0l6-6M794 1212l6 6m-6 0l6-6M794 1183l6 6m-6 0l6-6M795 1230l6 6m-6 0l6-6M795 1206l6 6m-6 0l6-6M796 1167l6 6m-6 0l6-6M796 1096l6 6m-6 0l6-6M797 1167l6 6m-6 0l6-6M797 1130l6 6m-6 0l6-6M797 1191l6 6m-6 0l6-6M798 1218l6 6m-6 0l6-6M798 1157l6 6m-6 0l6-6M799 1093l6 6m-6 0l6-6M799 1228l6 6m-6 0l6-6M800 1212l6 6m-6 0l6-6M800 1217l6 6m-6 0l6-6M801 1114l6 6m-6 0l6-6M801 1156l6 6m-6 0l6-6M802 1214l6 6m-6 0l6-6M802 1223l6 6m-6 0l6-6M803 1216l6 6m-6 0l6-6M803 1078l6 6m-6 0l6-6M804 1253l6 6m-6 0l6-6M804 1143l6 6m-6 0l6-6M805 1143l6 6m-6 0l6-6M805 1212l6 6m-6 0l6-6M805 1153l6 6m-6 0l6-6M806 1150l6 6m-6 0l6-6M806 1180l6 6m-6 0l6-6M807 1169l6 6m-6 0l6-6M807 1174l6 6m-6 0l6-6M808 1154l6 6m-6 0l6-6M808 1126l6 6m-6 0l6-6M809 1150l6 6m-6 0l6-6M809 1160l6 6m-6 0l6-6M810 1158l6 6m-6 0l6-6M810 1199l6 6m-6 0l6-6M811 1259l6 6m-6 0l6-6M811 1116l6 6m-6 0l6-6M812 1181l6 6m-6 0l6-6M812 1191l6 6m-6 0l6-6M813 1124l6 6m-6 0l6-6M813 1152l6 6m-6 0l6-6M813 1156l6 6m-6 0l6-6M814 1166l6 6m-6 0l6-6M814 1158l6 6m-6 0l6-6M815 1155l6 6m-6 0l6-6M815 1211l6 6m-6 0l6-6M816 1108l6 6m-6 0l6-6M816 1200l6 6m-6 0l6-6M817 1211l6 6m-6 0l6-6M817 1199l6 6m-6 0l6-6M818 1109l6 6m-6 0l6-6M818 1104l6 6m-6 0l6-6M819 1155l6 6m-6 0l6-6M819 1139l6 6m-6 0l6-6M820 1132l6 6m-6 0l6-6M820 1231l6 6m-6 0l6-6M821 1130l6 6m-6 0l6-6M821 1212l6 6m-6 0l6-6M821 1236l6 6m-6 0l6-6M822 1242l6 6m-6 0l6-6M822 1268l6 6m-6 0l6-6M823 1225l6 6m-6 0l6-6M823 1185l6 6m-6 0l6-6M824 1109l6 6m-6 0l6-6M824 1166l6 6m-6 0l6-6M825 1156l6 6m-6 0l6-6M825 1256l6 6m-6 0l6-6M826 1212l6 6m-6 0l6-6M826 1177l6 6m-6 0l6-6M827 1114l6 6m-6 0l6-6M827 1120l6 6m-6 0l6-6M828 1159l6 6m-6 0l6-6M828 1187l6 6m-6 0l6-6M829 1221l6 6m-6 0l6-6M829 1196l6 6m-6 0l6-6M829 1180l6 6m-6 0l6-6M830 1216l6 6m-6 0l6-6M830 1124l6 6m-6 0l6-6M831 1146l6 6m-6 0l6-6M831 1144l6 6m-6 0l6-6M832 1182l6 6m-6 0l6-6M832 1199l6 6m-6 0l6-6M833 1158l6 6m-6 0l6-6M833 1095l6 6m-6 0l6-6M834 1179l6 6m-6 0l6-6M834 1120l6 6m-6 0l6-6M835 1197l6 6m-6 0l6-6M835 1069l6 6m-6 0l6-6M836 1264l6 6m-6 0l6-6M836 1127l6 6m-6 0l6-6M837 1254l6 6m-6 0l6-6M837 1205l6 6m-6 0l6-6M837 1239l6 6m-6 0l6-6M838 1224l6 6m-6 0l6-6M838 1140l6 6m-6 0l6-6M839 1146l6 6m-6 0l6-6M839 1137l6 6m-6 0l6-6M840 1125l6 6m-6 0l6-6M840 1228l6 6m-6 0l6-6M841 1128l6 6m-6 0l6-6M841 1152l6 6m-6 0l6-6M842 1083l6 6m-6 0l6-6M842 1185l6 6m-6 0l6-6M843 1100l6 6m-6 0l6-6M843 1153l6 6m-6 0l6-6M844 1166l6 6m-6 0l6-6M844 1162l6 6m-6 0l6-6M845 1190l6 6m-6 0l6-6M845 1133l6 6m-6 0l6-6M845 1149l6 6m-6 0l6-6M846 1171l6 6m-6 0l6-6M846 1180l6 6m-6 0l6-6M847 1200l6 6m-6 0l6-6M847 1169l6 6m-6 0l6-6M848 1073l6 6m-6 0l6-6M848 1153l6 6m-6 0l6-6M849 1131l6 6m-6 0l6-6M849 1154l6 6m-6 0l6-6M850 1178l6 6m-6 0l6-6M850 1165l6 6m-6 0l6-6M851 1267l6 6m-6 0l6-6M851 1153l6 6m-6 0l6-6M852 1129l6 6m-6 0l6-6M852 1169l6 6m-6 0l6-6M853 1176l6 6m-6 0l6-6M853 1237l6 6m-6 0l6-6M854 1137l6 6m-6 0l6-6M854 1198l6 6m-6 0l6-6M854 1189l6 6m-6 0l6-6M855 1179l6 6m-6 0l6-6M855 1177l6 6m-6 0l6-6M856 1180l6 6m-6 0l6-6M856 1111l6 6m-6 0l6-6M857 1142l6 6m-6 0l6-6M857 1181l6 6m-6 0l6-6M858 1242l6 6m-6 0l6-6M858 1213l6 6m-6 0l6-6M859 1184l6 6m-6 0l6-6M859 1184l6 6m-6 0l6-6M860 1186l6 6m-6 0l6-6M860 1196l6 6m-6 0l6-6M861 1213l6 6m-6 0l6-6M861 1100l6 6m-6 0l6-6M862 1156l6 6m-6 0l6-6M862 1276l6 6m-6 0l6-6M862 1211l6 6m-6 0l6-6M863 1162l6 6m-6 0l6-6M863 1145l6 6m-6 0l6-6M864 1175l6 6m-6 0l6-6M864 1110l6 6m-6 0l6-6M865 1139l6 6m-6 0l6-6M865 1210l6 6m-6 0l6-6M866 1213l6 6m-6 0l6-6M866 1187l6 6m-6 0l6-6M867 1181l6 6m-6 0l6-6M867 1160l6 6m-6 0l6-6M868 1115l6 6m-6 0l6-6M868 1130l6 6m-6 0l6-6M869 1147l6 6m-6 0l6-6M869 1168l6 6m-6 0l6-6M870 1124l6 6m-6 0l6-6M870 1127l6 6m-6 0l6-6M870 1234l6 6m-6 0l6-6M871 1162l6 6m-6 0l6-6M871 1216l6 6m-6 0l6-6M872 1172l6 6m-6 0l6-6M872 1135l6 6m-6 0l6-6M873 1158l6 6m-6 0l6-6M873 1112l6 6m-6 0l6-6M874 1214l6 6m-6 0l6-6M874 1211l6 6m-6 0l6-6M875 1209l6 6m-6 0l6-6M875 1185l6 6m-6 0l6-6M876 1154l6 6m-6 0l6-6M876 1137l6 6m-6 0l6-6M877 1209l6 6m-6 0l6-6M877 1166l6 6m-6 0l6-6M878 1153l6 6m-6 0l6-6M878 1155l6 6m-6 0l6-6M878 1175l6 6m-6 0l6-6M879 1146l6 6m-6 0l6-6M879 1174l6 6m-6 0l6-6M880 1211l6 6m-6 0l6-6M880 1218l6 6m-6 0l6-6M881 1144l6 6m-6 0l6-6M881 1190l6 6m-6 0l6-6M882 1164l6 6m-6 0l6-6M882 1124l6 6m-6 0l6-6M883 1101l6 6m-6 0l6-6M883 1200l6 6m-6 0l6-6M884 1263l6 6m-6 0l6-6M884 1203l6 6m-6 0l6-6M885 1240l6 6m-6 0l6-6M885 1268l6 6m-6 0l6-6M886 1247l6 6m-6 0l6-6M886 1135l6 6m-6 0l6-6M886 1189l6 6m-6 0l6-6M887 1157l6 6m-6 0l6-6M887 1094l6 6m-6 0l6-6M888 1219l6 6m-6 0l6-6M888 1148l6 6m-6 0l6-6M889 1235l6 6m-6 0l6-6M889 1160l6 6m-6 0l6-6M890 1174l6 6m-6 0l6-6M890 1153l6 6m-6 0l6-6M891 1172l6 6m-6 0l6-6M891 1217l6 6m-6 0l6-6M892 1186l6 6m-6 0l6-6M892 1187l6 6m-6 0l6-6M893 1166l6 6m-6 0l6-6M893 1203l6 6m-6 0l6-6M894 1127l6 6m-6 0l6-6M894 1184l6 6m-6 0l6-6M894 1198l6 6m-6 0l6-6M895 1148l6 6m-6 0l6-6M895 1235l6 6m-6 0l6-6M896 1181l6 6m-6 0l6-6M896 1110l6 6m-6 0l6-6M897 1162l6 6m-6 0l6-6M897 1202l6 6m-6 0l6-6M898 1178l6 6m-6 0l6-6M898 1093l6 6m-6 0l6-6M899 1197l6 6m-6 0l6-6M899 1143l6 6m-6 0l6-6M900 1175l6 6m-6 0l6-6M900 1070l6 6m-6 0l6-6M901 1253l6 6m-6 0l6-6M901 1252l6 6m-6 0l6-6M902 1173l6 6m-6 0l6-6M902 1098l6 6m-6 0l6-6M902 1190l6 6m-6 0l6-6M903 1270l6 6m-6 0l6-6M903 1230l6 6m-6 0l6-6M904 1195l6 6m-6 0l6-6M904 1106l6 6m-6 0l6-6M905 1237l6 6m-6 0l6-6M905 1157l6 6m-6 0l6-6M906 1156l6 6m-6 0l6-6M906 1209l6 6m-6 0l6-6M907 1181l6 6m-6 0l6-6M907 1122l6 6m-6 0l6-6M908 1075l6 6m-6 0l6-6M908 1156l6 6m-6 0l6-6M909 1137l6 6m-6 0l6-6M909 1258l6 6m-6 0l6-6M910 1133l6 6m-6 0l6-6M910 1241l6 6m-6 0l6-6M910 1147l6 6m-6 0l6-6M911 1242l6 6m-6 0l6-6M911 1213l6 6m-6 0l6-6M912 1246l6 6m-6 0l6-6M912 1196l6 6m-6 0l6-6M913 1218l6 6m-6 0l6-6M913 1164l6 6m-6 0l6-6M914 1125l6 6m-6 0l6-6M914 1253l6 6m-6 0l6-6M915 1267l6 6m-6 0l6-6M915 1204l6 6m-6 0l6-6M916 1170l6 6m-6 0l6-6M916 1130l6 6m-6 0l6-6M917 1174l6 6m-6 0l6-6M917 1147l6 6m-6 0l6-6M918 1205l6 6m-6 0l6-6M918 1122l6 6m-6 0l6-6M918 1189l6 6m-6 0l6-6M919 1210l6 6m-6 0l6-6M919 1249l6 6m-6 0l6-6M920 1187l6 6m-6 0l6-6M920 1167l6 6m-6 0l6-6M921 1130l6 6m-6 0l6-6M921 1202l6 6m-6 0l6-6M922 1263l6 6m-6 0l6-6M922 1112l6 6m-6 0l6-6M923 1169l6 6m-6 0l6-6M923 1186l6 6m-6 0l6-6M924 1239l6 6m-6 0l6-6M924 1217l6 6m-6 0l6-6M925 1126l6 6m-6 0l6-6M925 1151l6 6m-6 0l6-6M926 1163l6 6m-6 0l6-6M926 1224l6 6m-6 0l6-6M926 1251l6 6m-6 0l6-6M927 1177l6 6m-6 0l6-6M927 1129l6 6m-6 0l6-6M928 1114l6 6m-6 0l6-6M928 1207l6 6m-6 0l6-6M929 1235l6 6m-6 0l6-6M929 1155l6 6m-6 0l6-6M930 1121l6 6m-6 0l6-6M930 1126l6 6m-6 0l6-6M931 1183l6 6m-6 0l6-6M931 1089l6 6m-6 0l6-6M932 1141l6 6m-6 0l6-6M932 1171l6 6m-6 0l6-6M933 1088l6 6m-6 0l6-6M933 1189l6 6m-6 0l6-6M934 1130l6 6m-6 0l6-6M934 1217l6 6m-6 0l6-6M934 1076l6 6m-6 0l6-6M935 1223l6 6m-6 0l6-6M935 1101l6 6m-6 0l6-6M936 1178l6 6m-6 0l6-6M936 1207l6 6m-6 0l6-6M937 1155l6 6m-6 0l6-6M937 1184l6 6m-6 0l6-6M938 1173l6 6m-6 0l6-6M938 1164l6 6m-6 0l6-6M939 1232l6 6m-6 0l6-6M939 1121l6 6m-6 0l6-6M940 1210l6 6m-6 0l6-6M940 1255l6 6m-6 0l6-6M941 1212l6 6m-6 0l6-6M941 1132l6 6m-6 0l6-6M942 1194l6 6m-6 0l6-6M942 1208l6 6m-6 0l6-6M942 1213l6 6m-6 0l6-6M943 1085l6 6m-6 0l6-6M943 1076l6 6m-6 0l6-6M944 1245l6 6m-6 0l6-6M944 1207l6 6m-6 0l6-6M945 1189l6 6m-6 0l6-6M945 1165l6 6m-6 0l6-6M946 1214l6 6m-6 0l6-6M946 1245l6 6m-6 0l6-6M947 1212l6 6m-6 0l6-6M947 1142l6 6m-6 0l6-6M948 1188l6 6m-6 0l6-6M948 1271l6 6m-6 0l6-6M949 1174l6 6m-6 0l6-6M949 1135l6 6m-6 0l6-6M950 1228l6 6m-6 0l6-6M950 1153l6 6m-6 0l6-6M950 1182l6 6m-6 0l6-6M951 1261l6 6m-6 0l6-6M951 1234l6 6m-6 0l6-6M952 1132l6 6m-6 0l6-6M952 1221l6 6m-6 0l6-6M953 1233l6 6m-6 0l6-6M953 1248l6 6m-6 0l6-6M954 1180l6 6m-6 0l6-6M954 1187l6 6m-6 0l6-6M955 1268l6 6m-6 0l6-6M955 1100l6 6m-6 0l6-6M956 1134l6 6m-6 0l6-6M956 1136l6 6m-6 0l6-6M957 1218l6 6m-6 0l6-6M957 1217l6 6m-6 0l6-6M958 1186l6 6m-6 0l6-6M958 1228l6 6m-6 0l6-6M958 1152l6 6m-6 0l6-6M959 1142l6 6m-6 0l6-6M959 1167l6 6m-6 0l6-6M960 1089l6 6m-6 0l6-6M960 1115l6 6m-6 0l6-6M961 1189l6 6m-6 0l6-6M961 1168l6 6m-6 0l6-6M962 1143l6 6m-6 0l6-6M962 1229l6 6m-6 0l6-6M963 1204l6 6m-6 0l6-6M963 1181l6 6m-6 0l6-6M964 1180l6 6m-6 0l6-6M964 1231l6 6m-6 0l6-6M965 1201l6 6m-6 0l6-6M965 1138l6 6m-6 0l6-6M966 1171l6 6m-6 0l6-6M966 1153l6 6m-6 0l6-6M967 1196l6 6m-6 0l6-6M967 1122l6 6m-6 0l6-6M967 1170l6 6m-6 0l6-6M968 1254l6 6m-6 0l6-6M968 1166l6 6m-6 0l6-6M969 1128l6 6m-6 0l6-6M969 1201l6 6m-6 0l6-6M970 1213l6 6m-6 0l6-6M970 1149l6 6m-6 0l6-6M971 1240l6 6m-6 0l6-6M971 1183l6 6m-6 0l6-6M972 1240l6 6m-6 0l6-6M972 1214l6 6m-6 0l6-6M973 1178l6 6m-6 0l6-6M973 1161l6 6m-6 0l6-6M974 1215l6 6m-6 0l6-6M974 1136l6 6m-6 0l6-6M975 1112l6 6m-6 0l6-6M975 1259l6 6m-6 0l6-6M975 1118l6 6m-6 0l6-6M976 1155l6 6m-6 0l6-6M976 1156l6 6m-6 0l6-6M977 1175l6 6m-6 0l6-6M977 1115l6 6m-6 0l6-6M978 1131l6 6m-6 0l6-6M978 1208l6 6m-6 0l6-6M979 1190l6 6m-6 0l6-6M979 1088l6 6m-6 0l6-6M980 1217l6 6m-6 0l6-6M980 1207l6 6m-6 0l6-6M981 1168l6 6m-6 0l6-6M981 1115l6 6m-6 0l6-6M982 1251l6 6m-6 0l6-6M982 1214l6 6m-6 0l6-6M983 1151l6 6m-6 0l6-6M983 1086l6 6m-6 0l6-6M983 1216l6 6m-6 0l6-6M984 1187l6 6m-6 0l6-6M984 1203l6 6m-6 0l6-6M985 1200l6 6m-6 0l6-6M985 1138l6 6m-6 0l6-6M986 1161l6 6m-6 0l6-6M986 1155l6 6m-6 0l6-6M987 1190l6 6m-6 0l6-6M987 1157l6 6m-6 0l6-6M988 1243l6 6m-6 0l6-6M988 1171l6 6m-6 0l6-6M989 1240l6 6m-6 0l6-6M989 1118l6 6m-6 0l6-6M990 1181l6 6m-6 0l6-6M990 1187l6 6m-6 0l6-6M991 1138l6 6m-6 0l6-6M991 1199l6 6m-6 0l6-6M991 1171l6 6m-6 0l6-6M992 1256l6 6m-6 0l6-6M992 1238l6 6m-6 0l6-6M993 1185l6 6m-6 0l6-6M993 1154l6 6m-6 0l6-6M994 1179l6 6m-6 0l6-6M994 1242l6 6m-6 0l6-6M995 1194l6 6m-6 0l6-6M995 1169l6 6m-6 0l6-6M996 1156l6 6m-6 0l6-6M996 1087l6 6m-6 0l6-6M997 1225l6 6m-6 0l6-6M997 1147l6 6m-6 0l6-6M998 1182l6 6m-6 0l6-6M998 1194l6 6m-6 0l6-6M999 1142l6 6m-6 0l6-6M999 1162l6 6m-6 0l6-6M999 1192l6 6m-6 0l6-6M1000 1247l6 6m-6 0l6-6M1000 1171l6 6m-6 0l6-6M1001 1167l6 6m-6 0l6-6M1001 1174l6 6m-6 0l6-6M1002 1157l6 6m-6 0l6-6M1002 1219l6 6m-6 0l6-6M1003 1122l6 6m-6 0l6-6M1003 1171l6 6m-6 0l6-6M1004 1176l6 6m-6 0l6-6M1004 1216l6 6m-6 0l6-6M1005 1201l6 6m-6 0l6-6M1005 1144l6 6m-6 0l6-6M1006 1157l6 6m-6 0l6-6M1006 1118l6 6m-6 0l6-6M1007 1169l6 6m-6 0l6-6M1007 1168l6 6m-6 0l6-6M1007 1105l6 6m-6 0l6-6M1008 1185l6 6m-6 0l6-6M1008 1162l6 6m-6 0l6-6M1009 1190l6 6m-6 0l6-6M1009 1152l6 6m-6 0l6-6M1010 1147l6 6m-6 0l6-6M1010 1236l6 6m-6 0l6-6M1011 1173l6 6m-6 0l6-6M1011 1144l6 6m-6 0l6-6M1012 1102l6 6m-6 0l6-6M1012 1221l6 6m-6 0l6-6M1013 1066l6 6m-6 0l6-6M1013 1190l6 6m-6 0l6-6M1014 1137l6 6m-6 0l6-6M1014 1227l6 6m-6 0l6-6M1015 1169l6 6m-6 0l6-6M1015 1149l6 6m-6 0l6-6M1015 1232l6 6m-6 0l6-6M1016 1110l6 6m-6 0l6-6M1016 1214l6 6m-6 0l6-6M1017 1210l6 6m-6 0l6-6M1017 1194l6 6m-6 0l6-6M1018 1126l6 6m-6 0l6-6M1018 1128l6 6m-6 0l6-6M1019 1151l6 6m-6 0l6-6M1019 1178l6 6m-6 0l6-6M1020 1163l6 6m-6 0l6-6M1020 1203l6 6m-6 0l6-6M1021 1150l6 6m-6 0l6-6M1021 1100l6 6m-6 0l6-6M1022 1180l6 6m-6 0l6-6M1022 1118l6 6m-6 0l6-6M1023 1137l6 6m-6 0l6-6M1023 1131l6 6m-6 0l6-6M1023 1198l6 6m-6 0l6-6M1024 1168l6 6m-6 0l6-6M1024 1091l6 6m-6 0l6-6M1025 1132l6 6m-6 0l6-6M1025 1149l6 6m-6 0l6-6M1026 1226l6 6m-6 0l6-6M1026 1204l6 6m-6 0l6-6M1027 1157l6 6m-6 0l6-6M1027 1193l6 6m-6 0l6-6M1028 1222l6 6m-6 0l6-6M1028 1119l6 6m-6 0l6-6M1029 1257l6 6m-6 0l6-6M1029 1131l6 6m-6 0l6-6M1030 1212l6 6m-6 0l6-6M1030 1255l6 6m-6 0l6-6M1031 1180l6 6m-6 0l6-6M1031 1207l6 6m-6 0l6-6M1031 1126l6 6m-6 0l6-6M1032 1240l6 6m-6 0l6-6M1032 1220l6 6m-6 0l6-6M1033 1274l6 6m-6 0l6-6M1033 1223l6 6m-6 0l6-6M1034 1146l6 6m-6 0l6-6M1034 1135l6 6m-6 0l6-6M1035 1133l6 6m-6 0l6-6M1035 1139l6 6m-6 0l6-6M1036 1236l6 6m-6 0l6-6M1036 1096l6 6m-6 0l6-6M1037 1108l6 6m-6 0l6-6M1037 1128l6 6m-6 0l6-6M1038 1096l6 6m-6 0l6-6M1038 1121l6 6m-6 0l6-6M1039 1217l6 6m-6 0l6-6M1039 1148l6 6m-6 0l6-6M1039 1178l6 6m-6 0l6-6M1040 1156l6 6m-6 0l6-6M1040 1193l6 6m-6 0l6-6M1041 1223l6 6m-6 0l6-6M1041 1196l6 6m-6 0l6-6M1042 1179l6 6m-6 0l6-6M1042 1135l6 6m-6 0l6-6M1043 1110l6 6m-6 0l6-6M1043 1183l6 6m-6 0l6-6M1044 1195l6 6m-6 0l6-6M1044 1214l6 6m-6 0l6-6M1045 1180l6 6m-6 0l6-6M1045 1133l6 6m-6 0l6-6M1046 1133l6 6m-6 0l6-6M1046 1198l6 6m-6 0l6-6M1047 1147l6 6m-6 0l6-6M1047 1123l6 6m-6 0l6-6M1047 1100l6 6m-6 0l6-6M1048 1127l6 6m-6 0l6-6M1048 1204l6 6m-6 0l6-6M1049 1195l6 6m-6 0l6-6M1049 1244l6 6m-6 0l6-6M1050 1195l6 6m-6 0l6-6M1050 1186l6 6m-6 0l6-6M1051 1225l6 6m-6 0l6-6M1051 1230l6 6m-6 0l6-6M1052 1162l6 6m-6 0l6-6M1052 1161l6 6m-6 0l6-6M1053 1161l6 6m-6 0l6-6M1053 1131l6 6m-6 0l6-6M1054 1231l6 6m-6 0l6-6M1054 1180l6 6m-6 0l6-6M1055 1134l6 6m-6 0l6-6M1055 1101l6 6m-6 0l6-6M1055 1192l6 6m-6 0l6-6M1056 1221l6 6m-6 0l6-6M1056 1094l6 6m-6 0l6-6M1057 1183l6 6m-6 0l6-6M1057 1133l6 6m-6 0l6-6M1058 1179l6 6m-6 0l6-6M1058 1270l6 6m-6 0l6-6M1059 1101l6 6m-6 0l6-6M1059 1192l6 6m-6 0l6-6M1060 1254l6 6m-6 0l6-6M1060 1163l6 6m-6 0l6-6M1061 1108l6 6m-6 0l6-6M1061 1163l6 6m-6 0l6-6M1062 1122l6 6m-6 0l6-6M1062 1182l6 6m-6 0l6-6M1063 1117l6 6m-6 0l6-6M1063 1233l6 6m-6 0l6-6M1063 1125l6 6m-6 0l6-6M1064 1097l6 6m-6 0l6-6M1064 1188l6 6m-6 0l6-6M1065 1166l6 6m-6 0l6-6M1065 1196l6 6m-6 0l6-6M1066 1183l6 6m-6 0l6-6M1066 1126l6 6m-6 0l6-6M1067 1140l6 6m-6 0l6-6M1067 1233l6 6m-6 0l6-6M1068 1175l6 6m-6 0l6-6M1068 1220l6 6m-6 0l6-6M1069 1182l6 6m-6 0l6-6M1069 1224l6 6m-6 0l6-6M1070 1191l6 6m-6 0l6-6M1070 1147l6 6m-6 0l6-6M1071 1107l6 6m-6 0l6-6M1071 1217l6 6m-6 0l6-6M1071 1142l6 6m-6 0l6-6M1072 1084l6 6m-6 0l6-6M1072 1230l6 6m-6 0l6-6M1073 1180l6 6m-6 0l6-6M1073 1175l6 6m-6 0l6-6M1074 1105l6 6m-6 0l6-6M1074 1201l6 6m-6 0l6-6M1075 1160l6 6m-6 0l6-6M1075 1103l6 6m-6 0l6-6M1076 1135l6 6m-6 0l6-6M1076 1109l6 6m-6 0l6-6M1077 1241l6 6m-6 0l6-6M1077 1143l6 6m-6 0l6-6M1078 1186l6 6m-6 0l6-6M1078 1225l6 6m-6 0l6-6M1079 1264l6 6m-6 0l6-6M1079 1140l6 6m-6 0l6-6M1080 1115l6 6m-6 0l6-6M1080 1213l6 6m-6 0l6-6M1080 1206l6 6m-6 0l6-6M1081 1153l6 6m-6 0l6-6M1081 1152l6 6m-6 0l6-6M1082 1249l6 6m-6 0l6-6M1082 1224l6 6m-6 0l6-6M1083 1179l6 6m-6 0l6-6M1083 1142l6 6m-6 0l6-6M1084 1176l6 6m-6 0l6-6M1084 1156l6 6m-6 0l6-6M1085 1068l6 6m-6 0l6-6M1085 1209l6 6m-6 0l6-6M1086 1133l6 6m-6 0l6-6M1086 1119l6 6m-6 0l6-6M1087 1157l6 6m-6 0l6-6M1087 1225l6 6m-6 0l6-6M1088 1264l6 6m-6 0l6-6M1088 1221l6 6m-6 0l6-6M1088 1195l6 6m-6 0l6-6M1089 1184l6 6m-6 0l6-6M1089 1092l6 6m-6 0l6-6M1090 1119l6 6m-6 0l6-6M1090 1163l6 6m-6 0l6-6M1091 1168l6 6m-6 0l6-6M1091 1136l6 6m-6 0l6-6M1092 1251l6 6m-6 0l6-6M1092 1235l6 6m-6 0l6-6M1093 1134l6 6m-6 0l6-6M1093 1222l6 6m-6 0l6-6M1094 1180l6 6m-6 0l6-6M1094 1193l6 6m-6 0l6-6M1095 1229l6 6m-6 0l6-6M1095 1216l6 6m-6 0l6-6M1096 1202l6 6m-6 0l6-6M1096 1224l6 6m-6 0l6-6M1096 1178l6 6m-6 0l6-6M1097 1265l6 6m-6 0l6-6M1097 1171l6 6m-6 0l6-6M1098 1096l6 6m-6 0l6-6M1098 1172l6 6m-6 0l6-6M1099 1211l6 6m-6 0l6-6M1099 1102l6 6m-6 0l6-6M1100 1093l6 6m-6 0l6-6M1100 1161l6 6m-6 0l6-6M1101 1235l6 6m-6 0l6-6M1101 1209l6 6m-6 0l6-6M1102 1237l6 6m-6 0l6-6M1102 1205l6 6m-6 0l6-6M1103 1153l6 6m-6 0l6-6M1103 1133l6 6m-6 0l6-6M1104 1175l6 6m-6 0l6-6M1104 1153l6 6m-6 0l6-6M1104 1108l6 6m-6 0l6-6M1105 1161l6 6m-6 0l6-6M1105 1064l6 6m-6 0l6-6M1106 1199l6 6m-6 0l6-6M1106 1190l6 6m-6 0l6-6M1107 1186l6 6m-6 0l6-6M1107 1194l6 6m-6 0l6-6M1108 1111l6 6m-6 0l6-6M1108 1167l6 6m-6 0l6-6M1109 1160l6 6m-6 0l6-6M1109 1126l6 6m-6 0l6-6M1110 1209l6 6m-6 0l6-6M1110 1202l6 6m-6 0l6-6M1111 1122l6 6m-6 0l6-6M1111 1176l6 6m-6 0l6-6M1112 1193l6 6m-6 0l6-6M1112 1183l6 6m-6 0l6-6M1112 1200l6 6m-6 0l6-6M1113 1173l6 6m-6 0l6-6M1113 1158l6 6m-6 0l6-6M1114 1105l6 6m-6 0l6-6M1114 1130l6 6m-6 0l6-6M1115 1175l6 6m-6 0l6-6M1115 1174l6 6m-6 0l6-6M1116 1108l6 6m-6 0l6-6M1116 1161l6 6m-6 0l6-6M1117 1196l6 6m-6 0l6-6M1117 1235l6 6m-6 0l6-6M1118 1199l6 6m-6 0l6-6M1118 1168l6 6m-6 0l6-6M1119 1210l6 6m-6 0l6-6M1119 1093l6 6m-6 0l6-6M1120 1183l6 6m-6 0l6-6M1120 1131l6 6m-6 0l6-6M1120 1258l6 6m-6 0l6-6M1121 1114l6 6m-6 0l6-6M1121 1203l6 6m-6 0l6-6M1122 1266l6 6m-6 0l6-6M1122 1147l6 6m-6 0l6-6M1123 1138l6 6m-6 0l6-6M1123 1168l6 6m-6 0l6-6M1124 1155l6 6m-6 0l6-6M1124 1121l6 6m-6 0l6-6M1125 1136l6 6m-6 0l6-6M1125 1207l6 6m-6 0l6-6M1126 1200l6 6m-6 0l6-6M1126 1123l6 6m-6 0l6-6M1127 1117l6 6m-6 0l6-6M1127 1177l6 6m-6 0l6-6M1128 1189l6 6m-6 0l6-6M1128 1174l6 6m-6 0l6-6M1128 1177l6 6m-6 0l6-6M1129 1266l6 6m-6 0l6-6M1129 1227l6 6m-6 0l6-6M1130 1205l6 6m-6 0l6-6M1130 1143l6 6m-6 0l6-6M1131 1255l6 6m-6 0l6-6M1131 1165l6 6m-6 0l6-6M1132 1184l6 6m-6 0l6-6M1132 1274l6 6m-6 0l6-6M1133 1216l6 6m-6 0l6-6M1133 1091l6 6m-6 0l6-6M1134 1142l6 6m-6 0l6-6M1134 1225l6 6m-6 0l6-6M1135 1160l6 6m-6 0l6-6M1135 1134l6 6m-6 0l6-6M1136 1210l6 6m-6 0l6-6M1136 1224l6 6m-6 0l6-6M1136 1185l6 6m-6 0l6-6M1137 1208l6 6m-6 0l6-6M1137 1122l6 6m-6 0l6-6M1138 1180l6 6m-6 0l6-6M1138 1150l6 6m-6 0l6-6M1139 1076l6 6m-6 0l6-6M1139 1186l6 6m-6 0l6-6M1140 1148l6 6m-6 0l6-6M1140 1153l6 6m-6 0l6-6M1141 1174l6 6m-6 0l6-6M1141 1161l6 6m-6 0l6-6M1142 1210l6 6m-6 0l6-6M1142 1145l6 6m-6 0l6-6M1143 1200l6 6m-6 0l6-6M1143 1144l6 6m-6 0l6-6M1144 1195l6 6m-6 0l6-6M1144 1170l6 6m-6 0l6-6M1144 1210l6 6m-6 0l6-6M1145 1166l6 6m-6 0l6-6M1145 1175l6 6m-6 0l6-6M1146 1206l6 6m-6 0l6-6M1146 1127l6 6m-6 0l6-6M1147 1150l6 6m-6 0l6-6M1147 1188l6 6m-6 0l6-6M1148 1231l6 6m-6 0l6-6M1148 1118l6 6m-6 0l6-6M1149 1163l6 6m-6 0l6-6M1149 1235l6 6m-6 0l6-6M1150 1088l6 6m-6 0l6-6M1150 1197l6 6m-6 0l6-6M1151 1161l6 6m-6 0l6-6M1151 1264l6 6m-6 0l6-6M1152 1162l6 6m-6 0l6-6M1152 1125l6 6m-6 0l6-6M1152 1243l6 6m-6 0l6-6M1153 1247l6 6m-6 0l6-6M1153 1198l6 6m-6 0l6-6M1154 1266l6 6m-6 0l6-6M1154 1157l6 6m-6 0l6-6M1155 1181l6 6m-6 0l6-6M1155 1140l6 6m-6 0l6-6M1156 1131l6 6m-6 0l6-6M1156 1189l6 6m-6 0l6-6M1157 1159l6 6m-6 0l6-6M1157 1260l6 6m-6 0l6-6M1158 1140l6 6m-6 0l6-6M1158 1183l6 6m-6 0l6-6M1159 1066l6 6m-6 0l6-6M1159 1182l6 6m-6 0l6-6M1160 1148l6 6m-6 0l6-6M1160 1146l6 6m-6 0l6-6M1160 1182l6 6m-6 0l6-6M1161 1160l6 6m-6 0l6-6M1161 1118l6 6m-6 0l6-6M1162 1205l6 6m-6 0l6-6M1162 1177l6 6m-6 0l6-6M1163 1143l6 6m-6 0l6-6M1163 1245l6 6m-6 0l6-6M1164 1169l6 6m-6 0l6-6M1164 1214l6 6m-6 0l6-6M1165 1215l6 6m-6 0l6-6M1165 1155l6 6m-6 0l6-6M1166 1188l6 6m-6 0l6-6M1166 1164l6 6m-6 0l6-6M1167 1130l6 6m-6 0l6-6M1167 1154l6 6m-6 0l6-6M1168 1256l6 6m-6 0l6-6M1168 1177l6 6m-6 0l6-6M1168 1253l6 6m-6 0l6-6M1169 1210l6 6m-6 0l6-6M1169 1102l6 6m-6 0l6-6M1170 1165l6 6m-6 0l6-6M1170 1209l6 6m-6 0l6-6M1171 1177l6 6m-6 0l6-6M1171 1193l6 6m-6 0l6-6M1172 1188l6 6m-6 0l6-6M1172 1138l6 6m-6 0l6-6M1173 1218l6 6m-6 0l6-6M1173 1266l6 6m-6 0l6-6M1174 1152l6 6m-6 0l6-6M1174 1160l6 6m-6 0l6-6M1175 1184l6 6m-6 0l6-6M1175 1215l6 6m-6 0l6-6M1176 1161l6 6m-6 0l6-6M1176 1224l6 6m-6 0l6-6M1176 1160l6 6m-6 0l6-6M1177 1143l6 6m-6 0l6-6M1177 1082l6 6m-6 0l6-6M1178 1196l6 6m-6 0l6-6M1178 1219l6 6m-6 0l6-6M1179 1136l6 6m-6 0l6-6M1179 1179l6 6m-6 0l6-6M1180 1138l6 6m-6 0l6-6M1180 1134l6 6m-6 0l6-6M1181 1252l6 6m-6 0l6-6M1181 1224l6 6m-6 0l6-6M1182 1079l6 6m-6 0l6-6M1182 1215l6 6m-6 0l6-6M1183 1188l6 6m-6 0l6-6M1183 1261l6 6m-6 0l6-6M1184 1190l6 6m-6 0l6-6M1184 1185l6 6m-6 0l6-6M1184 1134l6 6m-6 0l6-6M1185 1164l6 6m-6 0l6-6M1185 1158l6 6m-6 0l6-6M1186 1100l6 6m-6 0l6-6M1186 1210l6 6m-6 0l6-6M1187 1147l6 6m-6 0l6-6M1187 1180l6 6m-6 0l6-6M1188 1203l6 6m-6 0l6-6M1188 1081l6 6m-6 0l6-6M1189 1150l6 6m-6 0l6-6M1189 1131l6 6m-6 0l6-6M1190 1138l6 6m-6 0l6-6M1190 1107l6 6m-6 0l6-6M1191 1172l6 6m-6 0l6-6M1191 1100l6 6m-6 0l6-6M1192 1136l6 6m-6 0l6-6M1192 1136l6 6m-6 0l6-6M1193 1137l6 6m-6 0l6-6M1193 1153l6 6m-6 0l6-6M1193 1162l6 6m-6 0l6-6M1194 1178l6 6m-6 0l6-6M1194 1263l6 6m-6 0l6-6M1195 1132l6 6m-6 0l6-6M1195 1154l6 6m-6 0l6-6M1196 1132l6 6m-6 0l6-6M1196 1250l6 6m-6 0l6-6M1197 1079l6 6m-6 0l6-6M1197 1111l6 6m-6 0l6-6M1198 1206l6 6m-6 0l6-6M1198 1182l6 6m-6 0l6-6M1199 1095l6 6m-6 0l6-6M1199 1219l6 6m-6 0l6-6M1200 1116l6 6m-6 0l6-6M1200 1118l6 6m-6 0l6-6M1201 1231l6 6m-6 0l6-6M1201 1231l6 6m-6 0l6-6M1201 1212l6 6m-6 0l6-6M1202 1178l6 6m-6 0l6-6M1202 1205l6 6m-6 0l6-6M1203 1129l6 6m-6 0l6-6M1203 1262l6 6m-6 0l6-6M1204 1084l6 6m-6 0l6-6M1204 1198l6 6m-6 0l6-6M1205 1234l6 6m-6 0l6-6M1205 1121l6 6m-6 0l6-6M1206 1154l6 6m-6 0l6-6M1206 1187l6 6m-6 0l6-6M1207 1255l6 6m-6 0l6-6M1207 1219l6 6m-6 0l6-6M1208 1227l6 6m-6 0l6-6M1208 1168l6 6m-6 0l6-6M1209 1196l6 6m-6 0l6-6M1209 1200l6 6m-6 0l6-6M1209 1245l6 6m-6 0l6-6M1210 1106l6 6m-6 0l6-6M1210 1179l6 6m-6 0l6-6M1211 1168l6 6m-6 0l6-6M1211 1151l6 6m-6 0l6-6M1212 1262l6 6m-6 0l6-6M1212 1136l6 6m-6 0l6-6M1213 1200l6 6m-6 0l6-6M1213 1181l6 6m-6 0l6-6M1214 1203l6 6m-6 0l6-6M1214 1135l6 6m-6 0l6-6M1215 1113l6 6m-6 0l6-6M1215 1274l6 6m-6 0l6-6M1216 1225l6 6m-6 0l6-6M1216 1165l6 6m-6 0l6-6M1217 1136l6 6m-6 0l6-6M1217 1178l6 6m-6 0l6-6M1217 1170l6 6m-6 0l6-6M1218 1152l6 6m-6 0l6-6M1218 1209l6 6m-6 0l6-6M1219 1186l6 6m-6 0l6-6M1219 1165l6 6m-6 0l6-6M1220 1185l6 6m-6 0l6-6M1220 1142l6 6m-6 0l6-6M1221 1201l6 6m-6 0l6-6M1221 1188l6 6m-6 0l6-6M1222 1076l6 6m-6 0l6-6M1222 1205l6 6m-6 0l6-6M1223 1150l6 6m-6 0l6-6M1223 1164l6 6m-6 0l6-6M1224 1204l6 6m-6 0l6-6M1224 1172l6 6m-6 0l6-6M1225 1192l6 6m-6 0l6-6M1225 1107l6 6m-6 0l6-6M1225 1229l6 6m-6 0l6-6M1226 1161l6 6m-6 0l6-6M1226 1229l6 6m-6 0l6-6M1227 1182l6 6m-6 0l6-6M1227 1185l6 6m-6 0l6-6M1228 1230l6 6m-6 0l6-6M1228 1212l6 6m-6 0l6-6M1229 1177l6 6m-6 0l6-6M1229 1200l6 6m-6 0l6-6M1230 1274l6 6m-6 0l6-6M1230 1179l6 6m-6 0l6-6M1231 1160l6 6m-6 0l6-6M1231 1209l6 6m-6 0l6-6M1232 1114l6 6m-6 0l6-6M1232 1194l6 6m-6 0l6-6M1233 1166l6 6m-6 0l6-6M1233 1193l6 6m-6 0l6-6M1233 1065l6 6m-6 0l6-6M1234 1223l6 6m-6 0l6-6M1234 1187l6 6m-6 0l6-6M1235 1139l6 6m-6 0l6-6M1235 1221l6 6m-6 0l6-6M1236 1152l6 6m-6 0l6-6M1236 1109l6 6m-6 0l6-6M1237 1116l6 6m-6 0l6-6M1237 1162l6 6m-6 0l6-6M1238 1151l6 6m-6 0l6-6M1238 1169l6 6m-6 0l6-6M1239 1148l6 6m-6 0l6-6M1239 1195l6 6m-6 0l6-6M1240 1208l6 6m-6 0l6-6M1240 1127l6 6m-6 0l6-6M1241 1231l6 6m-6 0l6-6M1241 1130l6 6m-6 0l6-6M1241 1209l6 6m-6 0l6-6M1242 1216l6 6m-6 0l6-6M1242 1171l6 6m-6 0l6-6M1243 1150l6 6m-6 0l6-6M1243 1123l6 6m-6 0l6-6M1244 1270l6 6m-6 0l6-6M1244 1100l6 6m-6 0l6-6M1245 1167l6 6m-6 0l6-6M1245 1170l6 6m-6 0l6-6M1246 1228l6 6m-6 0l6-6M1246 1211l6 6m-6 0l6-6M1247 1164l6 6m-6 0l6-6M1247 1141l6 6m-6 0l6-6M1248 1276l6 6m-6 0l6-6M1248 1164l6 6m-6 0l6-6M1249 1136l6 6m-6 0l6-6M1249 1253l6 6m-6 0l6-6M1249 1161l6 6m-6 0l6-6M1250 1119l6 6m-6 0l6-6M1250 1200l6 6m-6 0l6-6M1251 1155l6 6m-6 0l6-6M1251 1066l6 6m-6 0l6-6M1252 1156l6 6m-6 0l6-6M1252 1189l6 6m-6 0l6-6M1253 1097l6 6m-6 0l6-6M1253 1165l6 6m-6 0l6-6M1254 1230l6 6m-6 0l6-6M1254 1153l6 6m-6 0l6-6M1255 1118l6 6m-6 0l6-6M1255 1131l6 6m-6 0l6-6M1256 1210l6 6m-6 0l6-6M1256 1146l6 6m-6 0l6-6M1257 1194l6 6m-6 0l6-6M1257 1166l6 6m-6 0l6-6M1257 1131l6 6m-6 0l6-6M1258 1216l6 6m-6 0l6-6M1258 1258l6 6m-6 0l6-6M1259 1119l6 6m-6 0l6-6M1259 1188l6 6m-6 0l6-6M1260 1191l6 6m-6 0l6-6M1260 1187l6 6m-6 0l6-6M1261 1181l6 6m-6 0l6-6M1261 1254l6 6m-6 0l6-6M1262 1238l6 6m-6 0l6-6M1262 1189l6 6m-6 0l6-6M1263 1174l6 6m-6 0l6-6M1263 1221l6 6m-6 0l6-6M1264 1145l6 6m-6 0l6-6M1264 1145l6 6m-6 0l6-6M1265 1206l6 6m-6 0l6-6M1265 1228l6 6m-6 0l6-6M1265 1191l6 6m-6 0l6-6M1266 1205l6 6m-6 0l6-6M1266 1071l6 6m-6 0l6-6M1267 1131l6 6m-6 0l6-6M1267 1171l6 6m-6 0l6-6M1268 1212l6 6m-6 0l6-6M1268 1124l6 6m-6 0l6-6M1269 1199l6 6m-6 0l6-6M1269 1174l6 6m-6 0l6-6M1270 1200l6 6m-6 0l6-6M1270 1163l6 6m-6 0l6-6M1271 1228l6 6m-6 0l6-6M1271 1144l6 6m-6 0l6-6M1272 1249l6 6m-6 0l6-6M1272 1156l6 6m-6 0l6-6M1273 1202l6 6m-6 0l6-6M1273 1122l6 6m-6 0l6-6M1273 1142l6 6m-6 0l6-6M1274 1194l6 6m-6 0l6-6M1274 1068l6 6m-6 0l6-6M1275 1180l6 6m-6 0l6-6M1275 1179l6 6m-6 0l6-6M1276 1207l6 6m-6 0l6-6M1276 1176l6 6m-6 0l6-6M1277 1263l6 6m-6 0l6-6M1277 1176l6 6m-6 0l6-6M1278 1151l6 6m-6 0l6-6M1278 1239l6 6m-6 0l6-6M1279 1204l6 6m-6 0l6-6M1279 1260l6 6m-6 0l6-6M1280 1122l6 6m-6 0l6-6M1280 1109l6 6m-6 0l6-6M1281 1234l6 6m-6 0l6-6M1281 1243l6 6m-6 0l6-6M1281 1237l6 6m-6 0l6-6M1282 1177l6 6m-6 0l6-6M1282 1237l6 6m-6 0l6-6M1283 1184l6 6m-6 0l6-6M1283 1155l6 6m-6 0l6-6M1284 1179l6 6m-6 0l6-6M1284 1097l6 6m-6 0l6-6M1285 1224l6 6m-6 0l6-6M1285 1223l6 6m-6 0l6-6M1286 1143l6 6m-6 0l6-6M1286 1108l6 6m-6 0l6-6M1287 1201l6 6m-6 0l6-6M1287 1240l6 6m-6 0l6-6M1288 1072l6 6m-6 0l6-6M1288 1169l6 6m-6 0l6-6M1289 1154l6 6m-6 0l6-6M1289 1254l6 6m-6 0l6-6M1289 1260l6 6m-6 0l6-6M1290 1116l6 6m-6 0l6-6M1290 1149l6 6m-6 0l6-6M1291 1091l6 6m-6 0l6-6M1291 1181l6 6m-6 0l6-6M1292 1195l6 6m-6 0l6-6M1292 1239l6 6m-6 0l6-6M1293 1085l6 6m-6 0l6-6M1293 1092l6 6m-6 0l6-6M1294 1192l6 6m-6 0l6-6M1294 1190l6 6m-6 0l6-6M1295 1143l6 6m-6 0l6-6M1295 1176l6 6m-6 0l6-6M1296 1201l6 6m-6 0l6-6M1296 1168l6 6m-6 0l6-6M1297 1260l6 6m-6 0l6-6M1297 1265l6 6m-6 0l6-6M1297 1201l6 6m-6 0l6-6M1298 1168l6 6m-6 0l6-6M1298 1118l6 6m-6 0l6-6M1299 1160l6 6m-6 0l6-6M1299 1156l6 6m-6 0l6-6M1300 1148l6 6m-6 0l6-6M1300 1169l6 6m-6 0l6-6M1301 1191l6 6m-6 0l6-6M1301 1173l6 6m-6 0l6-6M1302 1097l6 6m-6 0l6-6M1302 1101l6 6m-6 0l6-6M1303 1198l6 6m-6 0l6-6M1303 1216l6 6m-6 0l6-6M1304 1131l6 6m-6 0l6-6M1304 1100l6 6m-6 0l6-6M1305 1142l6 6m-6 0l6-6M1305 1177l6 6m-6 0l6-6M1306 1270l6 6m-6 0l6-6M1306 1216l6 6m-6 0l6-6M1306 1195l6 6m-6 0l6-6M1307 1147l6 6m-6 0l6-6M1307 1173l6 6m-6 0l6-6M1308 1124l6 6m-6 0l6-6M1308 1219l6 6m-6 0l6-6M1309 1183l6 6m-6 0l6-6M1309 1130l6 6m-6 0l6-6M1310 1181l6 6m-6 0l6-6M1310 1260l6 6m-6 0l6-6M1311 1143l6 6m-6 0l6-6M1311 1123l6 6m-6 0l6-6M1312 1162l6 6m-6 0l6-6M1312 1174l6 6m-6 0l6-6M1313 1194l6 6m-6 0l6-6M1313 1173l6 6m-6 0l6-6M1314 1216l6 6m-6 0l6-6M1314 1179l6 6m-6 0l6-6M1314 1196l6 6m-6 0l6-6M1315 1263l6 6m-6 0l6-6M1315 1118l6 6m-6 0l6-6M1316 1127l6 6m-6 0l6-6M1316 1185l6 6m-6 0l6-6M1317 1129l6 6m-6 0l6-6M1317 1146l6 6m-6 0l6-6M1318 1173l6 6m-6 0l6-6M1318 1129l6 6m-6 0l6-6M1319 1135l6 6m-6 0l6-6M1319 1203l6 6m-6 0l6-6M1320 1181l6 6m-6 0l6-6M1320 1093l6 6m-6 0l6-6M1321 1193l6 6m-6 0l6-6M1321 1246l6 6m-6 0l6-6M1322 1169l6 6m-6 0l6-6M1322 1201l6 6m-6 0l6-6M1322 1172l6 6m-6 0l6-6M1323 1129l6 6m-6 0l6-6M1323 1133l6 6m-6 0l6-6M1324 1209l6 6m-6 0l6-6M1324 1198l6 6m-6 0l6-6M1325 1094l6 6m-6 0l6-6M1325 1222l6 6m-6 0l6-6M1326 1193l6 6m-6 0l6-6M1326 1205l6 6m-6 0l6-6M1327 1225l6 6m-6 0l6-6M1327 1093l6 6m-6 0l6-6M1328 1156l6 6m-6 0l6-6M1328 1141l6 6m-6 0l6-6M1329 1136l6 6m-6 0l6-6M1329 1169l6 6m-6 0l6-6M1330 1198l6 6m-6 0l6-6M1330 1164l6 6m-6 0l6-6M1330 1276l6 6m-6 0l6-6M1331 1122l6 6m-6 0l6-6M1331 1099l6 6m-6 0l6-6M1332 1187l6 6m-6 0l6-6M1332 1269l6 6m-6 0l6-6M1333 1200l6 6m-6 0l6-6M1333 1137l6 6m-6 0l6-6M1334 1168l6 6m-6 0l6-6M1334 1150l6 6m-6 0l6-6M1335 1212l6 6m-6 0l6-6M1335 1190l6 6m-6 0l6-6M1336 1118l6 6m-6 0l6-6M1336 1200l6 6m-6 0l6-6M1337 1227l6 6m-6 0l6-6M1337 1095l6 6m-6 0l6-6M1338 1134l6 6m-6 0l6-6M1338 1156l6 6m-6 0l6-6M1338 1182l6 6m-6 0l6-6M1339 1184l6 6m-6 0l6-6M1339 1155l6 6m-6 0l6-6M1340 1260l6 6m-6 0l6-6M1340 1102l6 6m-6 0l6-6M1341 1201l6 6m-6 0l6-6M1341 1183l6 6m-6 0l6-6M1342 1239l6 6m-6 0l6-6M1342 1156l6 6m-6 0l6-6M1343 1171l6 6m-6 0l6-6M1343 1273l6 6m-6 0l6-6M1344 1189l6 6m-6 0l6-6M1344 1174l6 6m-6 0l6-6M1345 1166l6 6m-6 0l6-6M1345 1156l6 6m-6 0l6-6M1346 1109l6 6m-6 0l6-6M1346 1109l6 6m-6 0l6-6M1346 1150l6 6m-6 0l6-6M1347 1175l6 6m-6 0l6-6M1347 1216l6 6m-6 0l6-6M1348 1156l6 6m-6 0l6-6M1348 1154l6 6m-6 0l6-6M1349 1175l6 6m-6 0l6-6M1349 1145l6 6m-6 0l6-6M1350 1172l6 6m-6 0l6-6M1350 1230l6 6m-6 0l6-6M1351 1133l6 6m-6 0l6-6M1351 1112l6 6m-6 0l6-6M1352 1147l6 6m-6 0l6-6M1352 1174l6 6m-6 0l6-6M1353 1123l6 6m-6 0l6-6M1353 1208l6 6m-6 0l6-6M1354 1275l6 6m-6 0l6-6M1354 1225l6 6m-6 0l6-6M1354 1244l6 6m-6 0l6-6M1355 1253l6 6m-6 0l6-6M1355 1218l6 6m-6 0l6-6M1356 1185l6 6m-6 0l6-6M1356 1187l6 6m-6 0l6-6M1357 1102l6 6m-6 0l6-6M1357 1113l6 6m-6 0l6-6M1358 1144l6 6m-6 0l6-6M1358 1122l6 6m-6 0l6-6M1359 1139l6 6m-6 0l6-6M1359 1198l6 6m-6 0l6-6M1360 1171l6 6m-6 0l6-6M1360 1161l6 6m-6 0l6-6M1361 1273l6 6m-6 0l6-6M1361 1152l6 6m-6 0l6-6M1362 1169l6 6m-6 0l6-6M1362 1225l6 6m-6 0l6-6M1362 1164l6 6m-6 0l6-6M1363 1232l6 6m-6 0l6-6M1363 1138l6 6m-6 0l6-6M1364 1247l6 6m-6 0l6-6M1364 1195l6 6m-6 0l6-6M1365 1092l6 6m-6 0l6-6M1365 1168l6 6m-6 0l6-6M1366 1203l6 6m-6 0l6-6M1366 1156l6 6m-6 0l6-6M1367 1197l6 6m-6 0l6-6M1367 1154l6 6m-6 0l6-6M1368 1204l6 6m-6 0l6-6M1368 1166l6 6m-6 0l6-6M1369 1231l6 6m-6 0l6-6M1369 1204l6 6m-6 0l6-6M1370 1228l6 6m-6 0l6-6M1370 1223l6 6m-6 0l6-6M1370 1158l6 6m-6 0l6-6M1371 1167l6 6m-6 0l6-6M1371 1198l6 6m-6 0l6-6M1372 1237l6 6m-6 0l6-6M1372 1206l6 6m-6 0l6-6M1373 1118l6 6m-6 0l6-6M1373 1240l6 6m-6 0l6-6M1374 1199l6 6m-6 0l6-6M1374 1243l6 6m-6 0l6-6M1375 1135l6 6m-6 0l6-6M1375 1155l6 6m-6 0l6-6M1376 1148l6 6m-6 0l6-6M1376 1121l6 6m-6 0l6-6M1377 1249l6 6m-6 0l6-6M1377 1169l6 6m-6 0l6-6M1378 1140l6 6m-6 0l6-6M1378 1113l6 6m-6 0l6-6M1378 1146l6 6m-6 0l6-6M1379 1216l6 6m-6 0l6-6M1379 1240l6 6m-6 0l6-6M1380 1211l6 6m-6 0l6-6M1380 1162l6 6m-6 0l6-6M1381 1187l6 6m-6 0l6-6M1381 1091l6 6m-6 0l6-6M1382 1109l6 6m-6 0l6-6M1382 1169l6 6m-6 0l6-6M1383 1192l6 6m-6 0l6-6M1383 1170l6 6m-6 0l6-6M1384 1187l6 6m-6 0l6-6M1384 1149l6 6m-6 0l6-6M1385 1161l6 6m-6 0l6-6M1385 1182l6 6m-6 0l6-6M1386 1158l6 6m-6 0l6-6M1386 1152l6 6m-6 0l6-6M1386 1163l6 6m-6 0l6-6M1387 1256l6 6m-6 0l6-6M1387 1128l6 6m-6 0l6-6M1388 1269l6 6m-6 0l6-6M1388 1134l6 6m-6 0l6-6M1389 1220l6 6m-6 0l6-6M1389 1236l6 6m-6 0l6-6M1390 1246l6 6m-6 0l6-6M1390 1161l6 6m-6 0l6-6M1391 1192l6 6m-6 0l6-6M1391 1132l6 6m-6 0l6-6M1392 1190l6 6m-6 0l6-6M1392 1266l6 6m-6 0l6-6M1393 1162l6 6m-6 0l6-6M1393 1199l6 6m-6 0l6-6M1394 1202l6 6m-6 0l6-6M1394 1266l6 6m-6 0l6-6M1394 1214l6 6m-6 0l6-6M1395 1262l6 6m-6 0l6-6M1395 1149l6 6m-6 0l6-6M1396 1103l6 6m-6 0l6-6M1396 1176l6 6m-6 0l6-6M1397 1136l6 6m-6 0l6-6M1397 1216l6 6m-6 0l6-6M1398 1177l6 6m-6 0l6-6M1398 1227l6 6m-6 0l6-6M1399 1129l6 6m-6 0l6-6M1399 1151l6 6m-6 0l6-6M1400 1157l6 6m-6 0l6-6M1400 1234l6 6m-6 0l6-6M1401 1166l6 6m-6 0l6-6M1401 1174l6 6m-6 0l6-6M1402 1253l6 6m-6 0l6-6M1402 1149l6 6m-6 0l6-6M1402 1156l6 6m-6 0l6-6M1403 1257l6 6m-6 0l6-6M1403 1064l6 6m-6 0l6-6M1404 1236l6 6m-6 0l6-6M1404 1162l6 6m-6 0l6-6M1405 1170l6 6m-6 0l6-6M1405 1181l6 6m-6 0l6-6M1406 1190l6 6m-6 0l6-6M1406 1175l6 6m-6 0l6-6M1407 1249l6 6m-6 0l6-6M1407 1074l6 6m-6 0l6-6M1408 1067l6 6m-6 0l6-6M1408 1186l6 6m-6 0l6-6M1409 1105l6 6m-6 0l6-6M1409 1161l6 6m-6 0l6-6M1410 1154l6 6m-6 0l6-6M1410 1166l6 6m-6 0l6-6M1410 1199l6 6m-6 0l6-6M1411 1178l6 6m-6 0l6-6M1411 1127l6 6m-6 0l6-6M1412 1250l6 6m-6 0l6-6M1412 1148l6 6m-6 0l6-6M1413 1144l6 6m-6 0l6-6M1413 1167l6 6m-6 0l6-6M1414 1189l6 6m-6 0l6-6M1414 1127l6 6m-6 0l6-6M1415 1199l6 6m-6 0l6-6M1415 1202l6 6m-6 0l6-6M1416 1116l6 6m-6 0l6-6M1416 1211l6 6m-6 0l6-6M1417 1159l6 6m-6 0l6-6M1417 1078l6 6m-6 0l6-6M1418 1211l6 6m-6 0l6-6M1418 1210l6 6m-6 0l6-6M1418 1199l6 6m-6 0l6-6M227 1054l6 6m-6 0l6-6M310 1036l6 6m-6 0l6-6M464 1024l6 6m-6 0l6-6M600 1053l6 6m-6 0l6-6M639 1051l6 6m-6 0l6-6M643 1056l6 6m-6 0l6-6M704 1011l6 6m-6 0l6-6M703 1057l6 6m-6 0l6-6M720 1042l6 6m-6 0l6-6M743 1047l6 6m-6 0l6-6M756 1052l6 6m-6 0l6-6M775 1034l6 6m-6 0l6-6M786 1046l6 6m-6 0l6-6M787 1046l6 6m-6 0l6-6M820 1063l6 6m-6 0l6-6M862 1023l6 6m-6 0l6-6M973 1046l6 6m-6 0l6-6M986 1052l6 6m-6 0l6-6M1025 1030l6 6m-6 0l6-6M1090 1062l6 6m-6 0l6-6M1171 1053l6 6m-6 0l6-6M1211 1061l6 6m-6 0l6-6M1249 1032l6 6m-6 0l6-6M1339 1051l6 6m-6 0l6-6M181 1315l6 6m-6 0l6-6M215 1338l6 6m-6 0l6-6M235 1294l6 6m-6 0l6-6M255 1282l6 6m-6 0l6-6M295 1309l6 6m-6 0l6-6M339 1301l6 6m-6 0l6-6M355 1320l6 6m-6 0l6-6M371 1298l6 6m-6 0l6-6M373 1286l6 6m-6 0l6-6M399 1290l6 6m-6 0l6-6M401 1279l6 6m-6 0l6-6M416 1284l6 6m-6 0l6-6M535 1278l6 6m-6 0l6-6M568 1283l6 6m-6 0l6-6M570 1281l6 6m-6 0l6-6M606 1287l6 6m-6 0l6-6M646 1295l6 6m-6 0l6-6M646 1280l6 6m-6 0l6-6M677 1279l6 6m-6 0l6-6M710 1285l6 6m-6 0l6-6M731 1305l6 6m-6 0l6-6M794 1280l6 6m-6 0l6-6M810 1316l6 6m-6 0l6-6M829 1285l6 6m-6 0l6-6M834 1283l6 6m-6 0l6-6M842 1322l6 6m-6 0l6-6M872 1285l6 6m-6 0l6-6M928 1288l6 6m-6 0l6-6M945 1316l6 6m-6 0l6-6M966 1287l6 6m-6 0l6-6M967 1311l6 6m-6 0l6-6M999 1285l6 6m-6 0l6-6M999 1296l6 6m-6 0l6-6M1026 1321l6 6m-6 0l6-6M1039 1291l6 6m-6 0l6-6M1069 1296l6 6m-6 0l6-6M1081 1284l6 6m-6 0l6-6M1122 1284l6 6m-6 0l6-6M1124 1293l6 6m-6 0l6-6M1144 1296l6 6m-6 0l6-6M1158 1296l6 6m-6 0l6-6M1164 1282l6 6m-6 0l6-6M1196 1304l6 6m-6 0l6-6M1202 1318l6 6m-6 0l6-6M1235 1298l6 6m-6 0l6-6M1259 1306l6 6m-6 0l6-6M1264 1278l6 6m-6 0l6-6M1299 1281l6 6m-6 0l6-6M1325 1280l6 6m-6 0l6-6M1343 1300l6 6m-6 0l6-6M1392 1278l6 6m-6 0l6-6"/>
<clipPath id="cl"><rect x="169.5" y="1511" width="540" height="450.5"/></clipPath>
<clipPath id="cr"><rect x="853.5" y="1511" width="540" height="450.5"/></clipPath>
<g clip-path="url(#cl)">
<circle cx="169.23" cy="1621" r="6.5"/>
<text transform="translate(169.23 1613.6)" font-size="19.6" font-weight="bold" text-anchor="middle" fill="#ff0000">1079.9</text>
<circle cx="223.42" cy="1651.5" r="6.5"/>
<text transform="translate(223.42 1644.1)" font-size="19.6" font-weight="bold" text-anchor="middle" fill="#ff0000">425.4</text>
<circle cx="277.6" cy="1680" r="6.5"/>
<text transform="translate(277.6 1672.6)" font-size="19.6" font-weight="bold" text-anchor="middle" fill="#ff0000">174.9</text>
<circle cx="331.79" cy="1705" r="6.5"/>
<text transform="translate(331.79 1697.6)" font-size="19.6" font-weight="bold" text-anchor="middle" fill="#ff0000">82.5</text>
<circle cx="385.98" cy="1729.5" r="6.5"/>
<text transform="translate(385.98 1722.1)" font-size="19.6" font-weight="bold" text-anchor="middle" fill="#ff0000">38.4</text>
<circle cx="440.16" cy="1768.25" r="6.5"/>
<text transform="translate(440.16 1760.85)" font-size="19.6" font-weight="bold" text-anchor="middle" fill="#ff0000">11.7</text>
<circle cx="494.35" cy="1805.5" r="6.5"/>
<text transform="translate(494.35 1798.1)" font-size="19.6" font-weight="bold" text-anchor="middle" fill="#ff0000">3.7</text>
<circle cx="548.53" cy="1841.75" r="6.5"/>
<text transform="translate(548.53 1834.35)" font-size="19.6" font-weight="bold" text-anchor="middle" fill="#ff0000">1.2</text>
<circle cx="602.72" cy="1871.75" r="6.5"/>
<text transform="translate(602.72 1864.35)" font-size="19.6" font-weight="bold" text-anchor="middle" fill="#ff0000">0.5</text>
<circle cx="656.9" cy="1894.25" r="6.5"/>
<text transform="translate(656.9 1886.85)" font-size="19.6" font-weight="bold" text-anchor="middle" fill="#ff0000">0.2</text>
<circle cx="214.95" cy="1963.4" r="6.5"/>
<text transform="translate(214.95 1953.7)" font-size="19.6" font-weight="bold" text-anchor="middle" fill="#ff0000">h/2</text>
<circle cx="269.13" cy="1963.4" r="6.5"/>
<text transform="translate(269.13 1953.7)" font-size="19.6" font-weight="bold" text-anchor="middle" fill="#ff0000">h</text>
<circle cx="355.02" cy="1963.4" r="6.5"/>
<text transform="translate(355.02 1953.7)" font-size="19.6" font-weight="bold" text-anchor="middle" fill="#ff0000">d/8</text>
<circle cx="409.2" cy="1963.4" r="6.5"/>
<text transform="translate(409.2 1953.7)" font-size="19.6" font-weight="bold" text-anchor="middle" fill="#ff0000">d/4</text>
<circle cx="463.39" cy="1963.4" r="6.5"/>
<text transform="translate(463.39 1953.7)" font-size="19.6" font-weight="bold" text-anchor="middle" fill="#ff0000">d/2</text>
<circle cx="517.57" cy="1963.4" r="6.5"/>
<text transform="translate(517.57 1953.7)" font-size="19.6" font-weight="bold" text-anchor="middle" fill="#ff0000">day</text>
<circle cx="603.45" cy="1963.4" r="6.5"/>
<text transform="translate(603.45 1953.7)" font-size="19.6" font-weight="bold" text-anchor="middle" fill="#ff0000">ddd</text>
<circle cx="669.69" cy="1963.4" r="6.5"/>
<text transform="translate(669.69 1953.7)" font-size="19.6" font-weight="bold" text-anchor="middle" fill="#ff0000">wk</text>
</g>
<g clip-path="url(#cr)">
<circle cx="895.22" cy="1637.9" r="6.1"/>
<text transform="translate(895.22 1620)" font-size="17.2" font-weight="bold" text-anchor="middle" fill="#ff0000">6.3</text>
<circle cx="945.19" cy="1656.3" r="6.1"/>
<text transform="translate(945.19 1638.4)" font-size="17.2" font-weight="bold" text-anchor="middle" fill="#ff0000">4.9</text>
<circle cx="995.16" cy="1671.25" r="6.1"/>
<text transform="translate(995.16 1653.35)" font-size="17.2" font-weight="bold" text-anchor="middle" fill="#ff0000">4.1</text>
<circle cx="1045.13" cy="1676" r="6.1"/>
<text transform="translate(1045.13 1658.1)" font-size="17.2" font-weight="bold" text-anchor="middle" fill="#ff0000">3.8</text>
<circle cx="1095.1" cy="1681.75" r="6.1"/>
<text transform="translate(1095.1 1663.85)" font-size="17.2" font-weight="bold" text-anchor="middle" fill="#ff0000">3.6</text>
<circle cx="1145.07" cy="1720.5" r="6.1"/>
<text transform="translate(1145.07 1702.6)" font-size="17.2" font-weight="bold" text-anchor="middle" fill="#ff0000">2.2</text>
<circle cx="1195.04" cy="1756" r="6.1"/>
<text transform="translate(1195.04 1738.1)" font-size="17.2" font-weight="bold" text-anchor="middle" fill="#ff0000">1.4</text>
<circle cx="1245.01" cy="1788" r="6.1"/>
<text transform="translate(1245.01 1770.1)" font-size="17.2" font-weight="bold" text-anchor="middle" fill="#ff0000">0.9</text>
<circle cx="1294.98" cy="1806.25" r="6.1"/>
<text transform="translate(1294.98 1788.35)" font-size="17.2" font-weight="bold" text-anchor="middle" fill="#ff0000">0.7</text>
<circle cx="1344.95" cy="1805.75" r="6.1"/>
<text transform="translate(1344.95 1787.85)" font-size="17.2" font-weight="bold" text-anchor="middle" fill="#ff0000">0.7</text>
<circle cx="937.38" cy="1959.6" r="6.4"/>
<text transform="translate(937.38 1943)" font-size="19.6" font-weight="bold" text-anchor="middle" fill="#ff0000">h/2</text>
<circle cx="987.35" cy="1959.6" r="6.4"/>
<text transform="translate(987.35 1943)" font-size="19.6" font-weight="bold" text-anchor="middle" fill="#ff0000">h</text>
<circle cx="1066.55" cy="1959.6" r="6.4"/>
<text transform="translate(1066.55 1943)" font-size="19.6" font-weight="bold" text-anchor="middle" fill="#ff0000">d/8</text>
<circle cx="1116.52" cy="1959.6" r="6.4"/>
<text transform="translate(1116.52 1943)" font-size="19.6" font-weight="bold" text-anchor="middle" fill="#ff0000">d/4</text>
<circle cx="1166.49" cy="1959.6" r="6.4"/>
<text transform="translate(1166.49 1943)" font-size="19.6" font-weight="bold" text-anchor="middle" fill="#ff0000">d/2</text>
<circle cx="1216.46" cy="1959.6" r="6.4"/>
<text transform="translate(1216.46 1943)" font-size="19.6" font-weight="bold" text-anchor="middle" fill="#ff0000">day</text>
<circle cx="1295.66" cy="1959.6" r="6.4"/>
<text transform="translate(1295.66 1943)" font-size="19.6" font-weight="bold" text-anchor="middle" fill="#ff0000">ddd</text>
<circle cx="1356.75" cy="1959.6" r="6.4"/>
<text transform="translate(1356.75 1943)" font-size="19.6" font-weight="bold" text-anchor="middle" fill="#ff0000">wk</text>
</g>
</svg></body></html>
